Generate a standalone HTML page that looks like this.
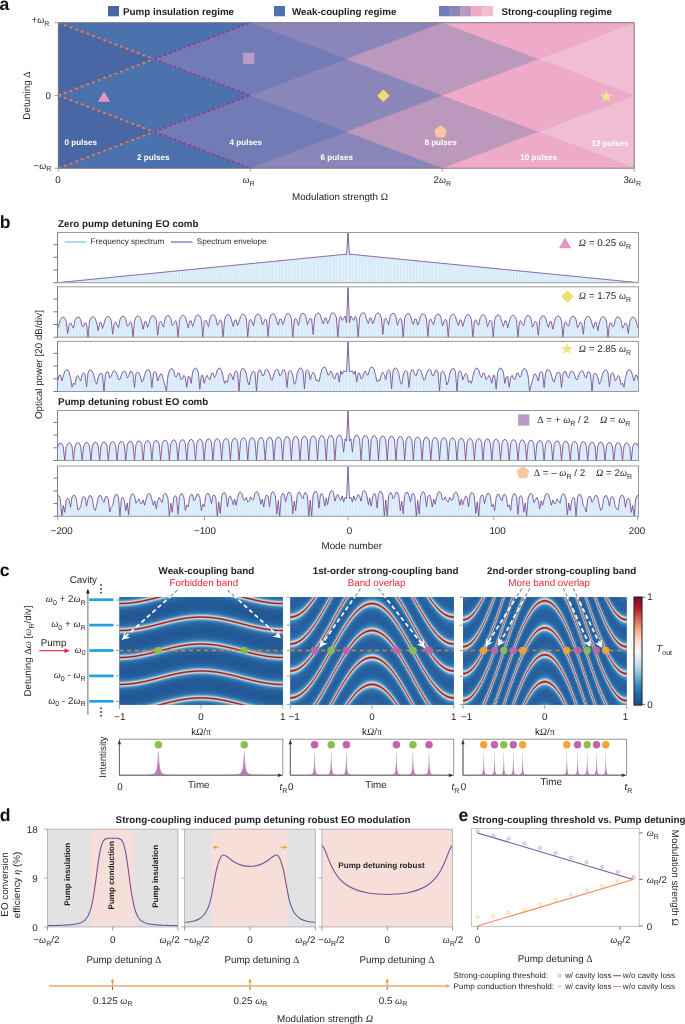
<!DOCTYPE html>
<html lang="en"><head><meta charset="utf-8"><title>Figure</title>
<style>
html,body{margin:0;padding:0;background:#fff;}
body{width:685px;height:1024px;overflow:hidden;font-family:'Liberation Sans', Arial, Helvetica, sans-serif;}
svg{display:block;}
</style></head><body>
<svg width="685" height="1024" viewBox="0 0 685 1024" font-family="'Liberation Sans', Arial, Helvetica, sans-serif" text-rendering="geometricPrecision">
<text x="-0.60" y="9.80" font-size="17.6" font-weight="bold" text-anchor="start" fill="#111"><tspan>a</tspan></text>
<rect x="108.00" y="6.00" width="11.00" height="10.30" fill="#4967a4" stroke="none" stroke-width="1"/>
<text x="123.00" y="14.60" font-size="9.8" font-weight="bold" text-anchor="start" fill="#231f20"><tspan>Pump insulation regime</tspan></text>
<rect x="274.00" y="6.00" width="11.00" height="10.30" fill="#4b72ad" stroke="none" stroke-width="1"/>
<text x="292.00" y="14.60" font-size="9.8" font-weight="bold" text-anchor="start" fill="#231f20"><tspan>Weak-coupling regime</tspan></text>
<rect x="439.00" y="6.00" width="10.90" height="10.30" fill="#717bb6" stroke="none" stroke-width="1"/>
<rect x="449.80" y="6.00" width="10.90" height="10.30" fill="#8b86b9" stroke="none" stroke-width="1"/>
<rect x="460.60" y="6.00" width="10.90" height="10.30" fill="#bb98bc" stroke="none" stroke-width="1"/>
<rect x="471.40" y="6.00" width="10.90" height="10.30" fill="#eeabc7" stroke="none" stroke-width="1"/>
<rect x="482.20" y="6.00" width="10.90" height="10.30" fill="#f0bdd3" stroke="none" stroke-width="1"/>
<text x="501.50" y="14.60" font-size="9.8" font-weight="bold" text-anchor="start" fill="#231f20"><tspan>Strong-coupling regime</tspan></text>
<clipPath id="ca"><rect x="58.3" y="22.7" width="575.9000000000001" height="145.5"/></clipPath>
<g clip-path="url(#ca)" shape-rendering="geometricPrecision">
<rect x="58.30" y="22.70" width="575.90" height="145.50" fill="#4967a4" stroke="none" stroke-width="1"/>
<polygon points="-37.68,204.57 58.30,168.20 154.28,204.57 58.30,240.95" fill="#4967a4" stroke="#4967a4" stroke-width="0.4"/>
<polygon points="-37.68,131.82 58.30,95.45 154.28,131.82 58.30,168.20" fill="#4967a4" stroke="#4967a4" stroke-width="0.4"/>
<polygon points="-37.68,59.07 58.30,22.70 154.28,59.07 58.30,95.45" fill="#4967a4" stroke="#4967a4" stroke-width="0.4"/>
<polygon points="-37.68,-13.68 58.30,-50.05 154.28,-13.68 58.30,22.70" fill="#4967a4" stroke="#4967a4" stroke-width="0.4"/>
<polygon points="58.30,240.95 154.28,204.57 250.27,240.95 154.28,277.32" fill="#4b72ad" stroke="#4b72ad" stroke-width="0.4"/>
<polygon points="58.30,168.20 154.28,131.82 250.27,168.20 154.28,204.57" fill="#4b72ad" stroke="#4b72ad" stroke-width="0.4"/>
<polygon points="58.30,95.45 154.28,59.07 250.27,95.45 154.28,131.82" fill="#4b72ad" stroke="#4b72ad" stroke-width="0.4"/>
<polygon points="58.30,22.70 154.28,-13.68 250.27,22.70 154.28,59.07" fill="#4b72ad" stroke="#4b72ad" stroke-width="0.4"/>
<polygon points="58.30,-50.05 154.28,-86.43 250.27,-50.05 154.28,-13.68" fill="#4b72ad" stroke="#4b72ad" stroke-width="0.4"/>
<polygon points="154.28,277.32 250.27,240.95 346.25,277.32 250.27,313.70" fill="#717bb6" stroke="#717bb6" stroke-width="0.4"/>
<polygon points="154.28,204.57 250.27,168.20 346.25,204.57 250.27,240.95" fill="#717bb6" stroke="#717bb6" stroke-width="0.4"/>
<polygon points="154.28,131.82 250.27,95.45 346.25,131.82 250.27,168.20" fill="#717bb6" stroke="#717bb6" stroke-width="0.4"/>
<polygon points="154.28,59.07 250.27,22.70 346.25,59.07 250.27,95.45" fill="#717bb6" stroke="#717bb6" stroke-width="0.4"/>
<polygon points="154.28,-13.68 250.27,-50.05 346.25,-13.68 250.27,22.70" fill="#717bb6" stroke="#717bb6" stroke-width="0.4"/>
<polygon points="154.28,-86.43 250.27,-122.80 346.25,-86.43 250.27,-50.05" fill="#717bb6" stroke="#717bb6" stroke-width="0.4"/>
<polygon points="250.27,313.70 346.25,277.32 442.23,313.70 346.25,350.07" fill="#8b86b9" stroke="#8b86b9" stroke-width="0.4"/>
<polygon points="250.27,240.95 346.25,204.57 442.23,240.95 346.25,277.32" fill="#8b86b9" stroke="#8b86b9" stroke-width="0.4"/>
<polygon points="250.27,168.20 346.25,131.82 442.23,168.20 346.25,204.57" fill="#8b86b9" stroke="#8b86b9" stroke-width="0.4"/>
<polygon points="250.27,95.45 346.25,59.07 442.23,95.45 346.25,131.82" fill="#8b86b9" stroke="#8b86b9" stroke-width="0.4"/>
<polygon points="250.27,22.70 346.25,-13.68 442.23,22.70 346.25,59.07" fill="#8b86b9" stroke="#8b86b9" stroke-width="0.4"/>
<polygon points="250.27,-50.05 346.25,-86.43 442.23,-50.05 346.25,-13.68" fill="#8b86b9" stroke="#8b86b9" stroke-width="0.4"/>
<polygon points="250.27,-122.80 346.25,-159.18 442.23,-122.80 346.25,-86.43" fill="#8b86b9" stroke="#8b86b9" stroke-width="0.4"/>
<polygon points="346.25,277.32 442.23,240.95 538.22,277.32 442.23,313.70" fill="#bb98bc" stroke="#bb98bc" stroke-width="0.4"/>
<polygon points="346.25,204.57 442.23,168.20 538.22,204.57 442.23,240.95" fill="#bb98bc" stroke="#bb98bc" stroke-width="0.4"/>
<polygon points="346.25,131.82 442.23,95.45 538.22,131.82 442.23,168.20" fill="#bb98bc" stroke="#bb98bc" stroke-width="0.4"/>
<polygon points="346.25,59.07 442.23,22.70 538.22,59.07 442.23,95.45" fill="#bb98bc" stroke="#bb98bc" stroke-width="0.4"/>
<polygon points="346.25,-13.68 442.23,-50.05 538.22,-13.68 442.23,22.70" fill="#bb98bc" stroke="#bb98bc" stroke-width="0.4"/>
<polygon points="346.25,-86.43 442.23,-122.80 538.22,-86.43 442.23,-50.05" fill="#bb98bc" stroke="#bb98bc" stroke-width="0.4"/>
<polygon points="442.23,240.95 538.22,204.57 634.20,240.95 538.22,277.32" fill="#eeabc7" stroke="#eeabc7" stroke-width="0.4"/>
<polygon points="442.23,168.20 538.22,131.82 634.20,168.20 538.22,204.57" fill="#eeabc7" stroke="#eeabc7" stroke-width="0.4"/>
<polygon points="442.23,95.45 538.22,59.07 634.20,95.45 538.22,131.82" fill="#eeabc7" stroke="#eeabc7" stroke-width="0.4"/>
<polygon points="442.23,22.70 538.22,-13.68 634.20,22.70 538.22,59.07" fill="#eeabc7" stroke="#eeabc7" stroke-width="0.4"/>
<polygon points="442.23,-50.05 538.22,-86.43 634.20,-50.05 538.22,-13.68" fill="#eeabc7" stroke="#eeabc7" stroke-width="0.4"/>
<polygon points="538.22,204.57 634.20,168.20 730.18,204.57 634.20,240.95" fill="#f0bdd3" stroke="#f0bdd3" stroke-width="0.4"/>
<polygon points="538.22,131.82 634.20,95.45 730.18,131.82 634.20,168.20" fill="#f0bdd3" stroke="#f0bdd3" stroke-width="0.4"/>
<polygon points="538.22,59.07 634.20,22.70 730.18,59.07 634.20,95.45" fill="#f0bdd3" stroke="#f0bdd3" stroke-width="0.4"/>
<polygon points="538.22,-13.68 634.20,-50.05 730.18,-13.68 634.20,22.70" fill="#f0bdd3" stroke="#f0bdd3" stroke-width="0.4"/>
<polygon points="634.20,168.20 730.18,131.82 826.17,168.20 730.18,204.57" fill="#f4cfe0" stroke="#f4cfe0" stroke-width="0.4"/>
<polygon points="634.20,95.45 730.18,59.07 826.17,95.45 730.18,131.82" fill="#f4cfe0" stroke="#f4cfe0" stroke-width="0.4"/>
<polygon points="634.20,22.70 730.18,-13.68 826.17,22.70 730.18,59.07" fill="#f4cfe0" stroke="#f4cfe0" stroke-width="0.4"/>
<line x1="58.30" y1="22.70" x2="154.28" y2="59.07" stroke="#e0775a" stroke-width="2" stroke-dasharray="3 3" stroke-linecap="butt"/>
<line x1="58.30" y1="95.45" x2="154.28" y2="59.07" stroke="#e0775a" stroke-width="2" stroke-dasharray="3 3" stroke-linecap="butt"/>
<line x1="58.30" y1="95.45" x2="154.28" y2="131.82" stroke="#e0775a" stroke-width="2" stroke-dasharray="3 3" stroke-linecap="butt"/>
<line x1="58.30" y1="168.20" x2="154.28" y2="131.82" stroke="#e0775a" stroke-width="2" stroke-dasharray="3 3" stroke-linecap="butt"/>
<line x1="154.28" y1="59.07" x2="250.27" y2="22.70" stroke="#a0378f" stroke-width="1.8" stroke-dasharray="2.6 2.6"/>
<line x1="154.28" y1="59.07" x2="250.27" y2="95.45" stroke="#a0378f" stroke-width="1.8" stroke-dasharray="2.6 2.6"/>
<line x1="154.28" y1="131.82" x2="250.27" y2="95.45" stroke="#a0378f" stroke-width="1.8" stroke-dasharray="2.6 2.6"/>
<line x1="154.28" y1="131.82" x2="250.27" y2="168.20" stroke="#a0378f" stroke-width="1.8" stroke-dasharray="2.6 2.6"/>
</g>
<rect x="58.30" y="22.70" width="575.90" height="145.50" fill="none" stroke="#7b6e72" stroke-width="0.9"/>
<line x1="58.30" y1="168.20" x2="58.30" y2="171.80" stroke="#8a8a8a" stroke-width="0.8"/>
<line x1="250.27" y1="168.20" x2="250.27" y2="171.80" stroke="#8a8a8a" stroke-width="0.8"/>
<line x1="442.23" y1="168.20" x2="442.23" y2="171.80" stroke="#8a8a8a" stroke-width="0.8"/>
<line x1="634.20" y1="168.20" x2="634.20" y2="171.80" stroke="#8a8a8a" stroke-width="0.8"/>
<line x1="54.70" y1="168.20" x2="58.30" y2="168.20" stroke="#8a8a8a" stroke-width="0.8"/>
<line x1="54.70" y1="95.45" x2="58.30" y2="95.45" stroke="#8a8a8a" stroke-width="0.8"/>
<line x1="54.70" y1="22.70" x2="58.30" y2="22.70" stroke="#8a8a8a" stroke-width="0.8"/>
<text x="58.00" y="183.10" font-size="9.8" font-weight="normal" text-anchor="middle" fill="#231f20"><tspan>0</tspan></text>
<text x="248.57" y="183.10" font-size="9.8" font-weight="normal" text-anchor="middle" fill="#231f20"><tspan font-family="'Liberation Serif', 'Times New Roman', serif" font-style="italic" font-size="10.00">ω</tspan><tspan font-size="7.06" dy="2.74">R</tspan><tspan dy="-2.74">&#8203;</tspan></text>
<text x="442.23" y="183.10" font-size="9.8" font-weight="normal" text-anchor="middle" fill="#231f20"><tspan>2</tspan><tspan font-family="'Liberation Serif', 'Times New Roman', serif" font-style="italic" font-size="10.00">ω</tspan><tspan font-size="7.06" dy="2.74">R</tspan><tspan dy="-2.74">&#8203;</tspan></text>
<text x="632.20" y="183.10" font-size="9.8" font-weight="normal" text-anchor="middle" fill="#231f20"><tspan>3</tspan><tspan font-family="'Liberation Serif', 'Times New Roman', serif" font-style="italic" font-size="10.00">ω</tspan><tspan font-size="7.06" dy="2.74">R</tspan><tspan dy="-2.74">&#8203;</tspan></text>
<text x="49.40" y="23.10" font-size="9.8" font-weight="normal" text-anchor="end" fill="#231f20"><tspan>+</tspan><tspan font-family="'Liberation Serif', 'Times New Roman', serif" font-style="italic" font-size="10.00">ω</tspan><tspan font-size="7.06" dy="2.74">R</tspan><tspan dy="-2.74">&#8203;</tspan></text>
<text x="50.90" y="99.00" font-size="9.8" font-weight="normal" text-anchor="end" fill="#231f20"><tspan>0</tspan></text>
<text x="51.40" y="168.60" font-size="9.8" font-weight="normal" text-anchor="end" fill="#231f20"><tspan>−</tspan><tspan font-family="'Liberation Serif', 'Times New Roman', serif" font-style="italic" font-size="10.00">ω</tspan><tspan font-size="7.06" dy="2.74">R</tspan><tspan dy="-2.74">&#8203;</tspan></text>
<text x="340.00" y="199.90" font-size="9.8" font-weight="normal" text-anchor="middle" fill="#231f20"><tspan>Modulation strength </tspan><tspan font-family="'Liberation Serif', 'Times New Roman', serif">Ω</tspan></text>
<text x="29.90" y="95.50" font-size="9.8" font-weight="normal" text-anchor="middle" fill="#231f20" transform="rotate(-90 29.90 95.50)"><tspan>Detuning </tspan><tspan font-family="'Liberation Serif', 'Times New Roman', serif">Δ</tspan></text>
<polygon points="97.85,101.85 110.15,101.85 104.00,91.15" fill="#e596c2" stroke="none" stroke-width="1"/>
<rect x="243.05" y="52.75" width="11.30" height="11.30" fill="#b99bc9" stroke="none" stroke-width="1"/>
<polygon points="377.10,95.80 383.40,89.50 389.70,95.80 383.40,102.10" fill="#f1dd6d" stroke="none" stroke-width="1"/>
<polygon points="440.50,125.27 446.90,129.92 444.46,137.44 436.54,137.44 434.10,129.92" fill="#f6c5a1" stroke="none" stroke-width="1"/>
<polygon points="606.20,89.98 607.76,94.46 612.50,94.55 608.72,97.42 610.09,101.96 606.20,99.25 602.31,101.96 603.68,97.42 599.90,94.55 604.64,94.46" fill="#ede78f" stroke="none" stroke-width="1"/>
<text x="64.50" y="144.80" font-size="8.1" font-weight="bold" text-anchor="start" fill="#fff"><tspan>0 pulses</tspan></text>
<text x="137.00" y="160.20" font-size="8.1" font-weight="bold" text-anchor="start" fill="#fff"><tspan>2 pulses</tspan></text>
<text x="229.50" y="144.80" font-size="8.1" font-weight="bold" text-anchor="start" fill="#fff"><tspan>4 pulses</tspan></text>
<text x="320.60" y="160.20" font-size="8.1" font-weight="bold" text-anchor="start" fill="#fff"><tspan>6 pulses</tspan></text>
<text x="424.40" y="144.80" font-size="8.1" font-weight="bold" text-anchor="start" fill="#fff"><tspan>8 pulses</tspan></text>
<text x="520.30" y="160.20" font-size="8.1" font-weight="bold" text-anchor="start" fill="#fff"><tspan>10 pulses</tspan></text>
<text x="591.50" y="146.00" font-size="8.1" font-weight="bold" text-anchor="start" fill="#fff"><tspan>12 pulses</tspan></text>
<text x="-0.30" y="228.40" font-size="17.6" font-weight="bold" text-anchor="start" fill="#111"><tspan>b</tspan></text>
<text x="58.10" y="226.70" font-size="9.8" font-weight="bold" text-anchor="start" fill="#231f20"><tspan>Zero pump detuning EO comb</tspan></text>
<text x="58.10" y="405.00" font-size="9.8" font-weight="bold" text-anchor="start" fill="#231f20"><tspan>Pump detuning robust EO comb</tspan></text>
<clipPath id="cb0"><rect x="57.5" y="232.5" width="581.0" height="50.19999999999999"/></clipPath>
<g clip-path="url(#cb0)"><polygon points="57.50,282.70 57.50,282.68 58.95,282.54 60.41,282.39 61.86,282.25 63.31,282.11 64.76,281.96 66.22,281.82 67.67,281.68 69.12,281.53 70.57,281.39 72.03,281.25 73.48,281.10 74.93,280.96 76.38,280.82 77.84,280.67 79.29,280.53 80.74,280.39 82.19,280.24 83.64,280.10 85.10,279.96 86.55,279.81 88.00,279.67 89.45,279.53 90.91,279.38 92.36,279.24 93.81,279.10 95.27,278.95 96.72,278.81 98.17,278.67 99.62,278.52 101.07,278.38 102.53,278.24 103.98,278.09 105.43,277.95 106.89,277.81 108.34,277.66 109.79,277.52 111.24,277.38 112.69,277.23 114.15,277.09 115.60,276.95 117.05,276.80 118.50,276.66 119.96,276.52 121.41,276.37 122.86,276.23 124.31,276.09 125.77,275.94 127.22,275.80 128.67,275.66 130.12,275.51 131.58,275.37 133.03,275.23 134.48,275.08 135.94,274.94 137.39,274.80 138.84,274.65 140.29,274.51 141.75,274.37 143.20,274.22 144.65,274.08 146.10,273.94 147.56,273.79 149.01,273.65 150.46,273.51 151.91,273.36 153.37,273.22 154.82,273.08 156.27,272.93 157.72,272.79 159.18,272.65 160.63,272.50 162.08,272.36 163.53,272.22 164.99,272.07 166.44,271.93 167.89,271.79 169.34,271.64 170.80,271.50 172.25,271.36 173.70,271.21 175.15,271.07 176.60,270.93 178.06,270.78 179.51,270.64 180.96,270.50 182.41,270.35 183.87,270.21 185.32,270.07 186.77,269.92 188.22,269.78 189.68,269.64 191.13,269.49 192.58,269.35 194.03,269.21 195.49,269.06 196.94,268.92 198.39,268.78 199.84,268.63 201.30,268.49 202.75,268.35 204.20,268.20 205.66,268.06 207.11,267.92 208.56,267.77 210.01,267.63 211.47,267.49 212.92,267.34 214.37,267.20 215.82,267.06 217.28,266.91 218.73,266.77 220.18,266.63 221.63,266.48 223.08,266.34 224.54,266.20 225.99,266.05 227.44,265.91 228.89,265.77 230.35,265.62 231.80,265.48 233.25,265.34 234.70,265.19 236.16,265.05 237.61,264.91 239.06,264.76 240.52,264.62 241.97,264.48 243.42,264.33 244.87,264.19 246.33,264.05 247.78,263.90 249.23,263.76 250.68,263.62 252.14,263.47 253.59,263.33 255.04,263.19 256.49,263.04 257.94,262.90 259.40,262.76 260.85,262.61 262.30,262.47 263.75,262.33 265.21,262.18 266.66,262.04 268.11,261.90 269.56,261.75 271.02,261.61 272.47,261.47 273.92,261.32 275.38,261.18 276.83,261.04 278.28,260.89 279.73,260.75 281.19,260.61 282.64,260.46 284.09,260.32 285.54,260.18 287.00,260.03 288.45,259.89 289.90,259.75 291.35,259.60 292.81,259.46 294.26,259.32 295.71,259.17 297.16,259.03 298.62,258.89 300.07,258.74 301.52,258.60 302.97,258.46 304.42,258.31 305.88,258.17 307.33,258.03 308.78,257.88 310.24,257.74 311.69,257.60 313.14,257.45 314.59,257.31 316.05,257.17 317.50,257.02 318.95,256.88 320.40,256.74 321.86,256.59 323.31,256.45 324.76,256.31 326.21,256.16 327.67,256.02 329.12,255.88 330.57,255.73 332.02,255.59 333.47,255.45 334.93,255.30 336.38,255.16 337.83,255.02 339.28,254.87 340.74,254.73 342.19,254.59 343.64,254.44 345.09,254.30 346.55,254.79 348.00,233.00 349.45,254.79 350.91,254.30 352.36,254.44 353.81,254.59 355.26,254.73 356.72,254.87 358.17,255.02 359.62,255.16 361.07,255.30 362.53,255.45 363.98,255.59 365.43,255.73 366.88,255.88 368.34,256.02 369.79,256.16 371.24,256.31 372.69,256.45 374.15,256.59 375.60,256.74 377.05,256.88 378.50,257.02 379.96,257.17 381.41,257.31 382.86,257.45 384.31,257.60 385.76,257.74 387.22,257.88 388.67,258.03 390.12,258.17 391.57,258.31 393.03,258.46 394.48,258.60 395.93,258.74 397.38,258.89 398.84,259.03 400.29,259.17 401.74,259.32 403.19,259.46 404.65,259.60 406.10,259.75 407.55,259.89 409.00,260.03 410.46,260.18 411.91,260.32 413.36,260.46 414.81,260.61 416.27,260.75 417.72,260.89 419.17,261.04 420.62,261.18 422.08,261.32 423.53,261.47 424.98,261.61 426.44,261.75 427.89,261.90 429.34,262.04 430.79,262.18 432.25,262.33 433.70,262.47 435.15,262.61 436.60,262.76 438.06,262.90 439.51,263.04 440.96,263.19 442.41,263.33 443.87,263.47 445.32,263.62 446.77,263.76 448.22,263.90 449.68,264.05 451.13,264.19 452.58,264.33 454.03,264.48 455.49,264.62 456.94,264.76 458.39,264.91 459.84,265.05 461.29,265.19 462.75,265.34 464.20,265.48 465.65,265.62 467.10,265.77 468.56,265.91 470.01,266.05 471.46,266.20 472.91,266.34 474.37,266.48 475.82,266.63 477.27,266.77 478.72,266.91 480.18,267.06 481.63,267.20 483.08,267.34 484.53,267.49 485.99,267.63 487.44,267.77 488.89,267.92 490.34,268.06 491.80,268.20 493.25,268.35 494.70,268.49 496.16,268.63 497.61,268.78 499.06,268.92 500.51,269.06 501.97,269.21 503.42,269.35 504.87,269.49 506.32,269.64 507.78,269.78 509.23,269.92 510.68,270.07 512.13,270.21 513.59,270.35 515.04,270.50 516.49,270.64 517.94,270.78 519.39,270.93 520.85,271.07 522.30,271.21 523.75,271.36 525.21,271.50 526.66,271.64 528.11,271.79 529.56,271.93 531.01,272.07 532.47,272.22 533.92,272.36 535.37,272.50 536.83,272.65 538.28,272.79 539.73,272.93 541.18,273.08 542.63,273.22 544.09,273.36 545.54,273.51 546.99,273.65 548.44,273.79 549.90,273.94 551.35,274.08 552.80,274.22 554.25,274.37 555.71,274.51 557.16,274.65 558.61,274.80 560.07,274.94 561.52,275.08 562.97,275.23 564.42,275.37 565.88,275.51 567.33,275.66 568.78,275.80 570.23,275.94 571.69,276.09 573.14,276.23 574.59,276.37 576.04,276.52 577.50,276.66 578.95,276.80 580.40,276.95 581.85,277.09 583.31,277.23 584.76,277.38 586.21,277.52 587.66,277.66 589.12,277.81 590.57,277.95 592.02,278.09 593.47,278.24 594.93,278.38 596.38,278.52 597.83,278.67 599.28,278.81 600.74,278.95 602.19,279.10 603.64,279.24 605.09,279.38 606.54,279.53 608.00,279.67 609.45,279.81 610.90,279.96 612.36,280.10 613.81,280.24 615.26,280.39 616.71,280.53 618.16,280.67 619.62,280.82 621.07,280.96 622.52,281.10 623.98,281.25 625.43,281.39 626.88,281.53 628.33,281.68 629.78,281.82 631.24,281.96 632.69,282.11 634.14,282.25 635.60,282.39 637.05,282.54 638.50,282.68 638.50,282.70" fill="#f3f9fd" stroke="none" stroke-width="1"/>
<path d="M60.4 282.7V282.4M61.9 282.7V282.2M63.3 282.7V282.1M64.8 282.7V282.0M66.2 282.7V281.8M67.7 282.7V281.7M69.1 282.7V281.5M70.6 282.7V281.4M72.0 282.7V281.2M73.5 282.7V281.1M74.9 282.7V281.0M76.4 282.7V280.8M77.8 282.7V280.7M79.3 282.7V280.5M80.7 282.7V280.4M82.2 282.7V280.2M83.6 282.7V280.1M85.1 282.7V280.0M86.5 282.7V279.8M88.0 282.7V279.7M89.5 282.7V279.5M90.9 282.7V279.4M92.4 282.7V279.2M93.8 282.7V279.1M95.3 282.7V279.0M96.7 282.7V278.8M98.2 282.7V278.7M99.6 282.7V278.5M101.1 282.7V278.4M102.5 282.7V278.2M104.0 282.7V278.1M105.4 282.7V277.9M106.9 282.7V277.8M108.3 282.7V277.7M109.8 282.7V277.5M111.2 282.7V277.4M112.7 282.7V277.2M114.1 282.7V277.1M115.6 282.7V276.9M117.1 282.7V276.8M118.5 282.7V276.7M120.0 282.7V276.5M121.4 282.7V276.4M122.9 282.7V276.2M124.3 282.7V276.1M125.8 282.7V275.9M127.2 282.7V275.8M128.7 282.7V275.7M130.1 282.7V275.5M131.6 282.7V275.4M133.0 282.7V275.2M134.5 282.7V275.1M135.9 282.7V274.9M137.4 282.7V274.8M138.8 282.7V274.7M140.3 282.7V274.5M141.7 282.7V274.4M143.2 282.7V274.2M144.6 282.7V274.1M146.1 282.7V273.9M147.6 282.7V273.8M149.0 282.7V273.6M150.5 282.7V273.5M151.9 282.7V273.4M153.4 282.7V273.2M154.8 282.7V273.1M156.3 282.7V272.9M157.7 282.7V272.8M159.2 282.7V272.6M160.6 282.7V272.5M162.1 282.7V272.4M163.5 282.7V272.2M165.0 282.7V272.1M166.4 282.7V271.9M167.9 282.7V271.8M169.3 282.7V271.6M170.8 282.7V271.5M172.2 282.7V271.4M173.7 282.7V271.2M175.2 282.7V271.1M176.6 282.7V270.9M178.1 282.7V270.8M179.5 282.7V270.6M181.0 282.7V270.5M182.4 282.7V270.4M183.9 282.7V270.2M185.3 282.7V270.1M186.8 282.7V269.9M188.2 282.7V269.8M189.7 282.7V269.6M191.1 282.7V269.5M192.6 282.7V269.3M194.0 282.7V269.2M195.5 282.7V269.1M196.9 282.7V268.9M198.4 282.7V268.8M199.8 282.7V268.6M201.3 282.7V268.5M202.8 282.7V268.3M204.2 282.7V268.2M205.7 282.7V268.1M207.1 282.7V267.9M208.6 282.7V267.8M210.0 282.7V267.6M211.5 282.7V267.5M212.9 282.7V267.3M214.4 282.7V267.2M215.8 282.7V267.1M217.3 282.7V266.9M218.7 282.7V266.8M220.2 282.7V266.6M221.6 282.7V266.5M223.1 282.7V266.3M224.5 282.7V266.2M226.0 282.7V266.1M227.4 282.7V265.9M228.9 282.7V265.8M230.3 282.7V265.6M231.8 282.7V265.5M233.3 282.7V265.3M234.7 282.7V265.2M236.2 282.7V265.0M237.6 282.7V264.9M239.1 282.7V264.8M240.5 282.7V264.6M242.0 282.7V264.5M243.4 282.7V264.3M244.9 282.7V264.2M246.3 282.7V264.0M247.8 282.7V263.9M249.2 282.7V263.8M250.7 282.7V263.6M252.1 282.7V263.5M253.6 282.7V263.3M255.0 282.7V263.2M256.5 282.7V263.0M257.9 282.7V262.9M259.4 282.7V262.8M260.9 282.7V262.6M262.3 282.7V262.5M263.8 282.7V262.3M265.2 282.7V262.2M266.7 282.7V262.0M268.1 282.7V261.9M269.6 282.7V261.8M271.0 282.7V261.6M272.5 282.7V261.5M273.9 282.7V261.3M275.4 282.7V261.2M276.8 282.7V261.0M278.3 282.7V260.9M279.7 282.7V260.8M281.2 282.7V260.6M282.6 282.7V260.5M284.1 282.7V260.3M285.5 282.7V260.2M287.0 282.7V260.0M288.4 282.7V259.9M289.9 282.7V259.7M291.4 282.7V259.6M292.8 282.7V259.5M294.3 282.7V259.3M295.7 282.7V259.2M297.2 282.7V259.0M298.6 282.7V258.9M300.1 282.7V258.7M301.5 282.7V258.6M303.0 282.7V258.5M304.4 282.7V258.3M305.9 282.7V258.2M307.3 282.7V258.0M308.8 282.7V257.9M310.2 282.7V257.7M311.7 282.7V257.6M313.1 282.7V257.5M314.6 282.7V257.3M316.0 282.7V257.2M317.5 282.7V257.0M318.9 282.7V256.9M320.4 282.7V256.7M321.9 282.7V256.6M323.3 282.7V256.5M324.8 282.7V256.3M326.2 282.7V256.2M327.7 282.7V256.0M329.1 282.7V255.9M330.6 282.7V255.7M332.0 282.7V255.6M333.5 282.7V255.4M334.9 282.7V255.3M336.4 282.7V255.2M337.8 282.7V255.0M339.3 282.7V254.9M340.7 282.7V254.7M342.2 282.7V254.6M343.6 282.7V254.4M345.1 282.7V254.3M346.5 282.7V254.8M348.0 282.7V233.0M349.5 282.7V254.8M350.9 282.7V254.3M352.4 282.7V254.4M353.8 282.7V254.6M355.3 282.7V254.7M356.7 282.7V254.9M358.2 282.7V255.0M359.6 282.7V255.2M361.1 282.7V255.3M362.5 282.7V255.4M364.0 282.7V255.6M365.4 282.7V255.7M366.9 282.7V255.9M368.3 282.7V256.0M369.8 282.7V256.2M371.2 282.7V256.3M372.7 282.7V256.5M374.1 282.7V256.6M375.6 282.7V256.7M377.1 282.7V256.9M378.5 282.7V257.0M380.0 282.7V257.2M381.4 282.7V257.3M382.9 282.7V257.5M384.3 282.7V257.6M385.8 282.7V257.7M387.2 282.7V257.9M388.7 282.7V258.0M390.1 282.7V258.2M391.6 282.7V258.3M393.0 282.7V258.5M394.5 282.7V258.6M395.9 282.7V258.7M397.4 282.7V258.9M398.8 282.7V259.0M400.3 282.7V259.2M401.7 282.7V259.3M403.2 282.7V259.5M404.6 282.7V259.6M406.1 282.7V259.7M407.6 282.7V259.9M409.0 282.7V260.0M410.5 282.7V260.2M411.9 282.7V260.3M413.4 282.7V260.5M414.8 282.7V260.6M416.3 282.7V260.8M417.7 282.7V260.9M419.2 282.7V261.0M420.6 282.7V261.2M422.1 282.7V261.3M423.5 282.7V261.5M425.0 282.7V261.6M426.4 282.7V261.8M427.9 282.7V261.9M429.3 282.7V262.0M430.8 282.7V262.2M432.2 282.7V262.3M433.7 282.7V262.5M435.2 282.7V262.6M436.6 282.7V262.8M438.1 282.7V262.9M439.5 282.7V263.0M441.0 282.7V263.2M442.4 282.7V263.3M443.9 282.7V263.5M445.3 282.7V263.6M446.8 282.7V263.8M448.2 282.7V263.9M449.7 282.7V264.0M451.1 282.7V264.2M452.6 282.7V264.3M454.0 282.7V264.5M455.5 282.7V264.6M456.9 282.7V264.8M458.4 282.7V264.9M459.8 282.7V265.0M461.3 282.7V265.2M462.7 282.7V265.3M464.2 282.7V265.5M465.7 282.7V265.6M467.1 282.7V265.8M468.6 282.7V265.9M470.0 282.7V266.1M471.5 282.7V266.2M472.9 282.7V266.3M474.4 282.7V266.5M475.8 282.7V266.6M477.3 282.7V266.8M478.7 282.7V266.9M480.2 282.7V267.1M481.6 282.7V267.2M483.1 282.7V267.3M484.5 282.7V267.5M486.0 282.7V267.6M487.4 282.7V267.8M488.9 282.7V267.9M490.3 282.7V268.1M491.8 282.7V268.2M493.2 282.7V268.3M494.7 282.7V268.5M496.2 282.7V268.6M497.6 282.7V268.8M499.1 282.7V268.9M500.5 282.7V269.1M502.0 282.7V269.2M503.4 282.7V269.3M504.9 282.7V269.5M506.3 282.7V269.6M507.8 282.7V269.8M509.2 282.7V269.9M510.7 282.7V270.1M512.1 282.7V270.2M513.6 282.7V270.4M515.0 282.7V270.5M516.5 282.7V270.6M517.9 282.7V270.8M519.4 282.7V270.9M520.8 282.7V271.1M522.3 282.7V271.2M523.8 282.7V271.4M525.2 282.7V271.5M526.7 282.7V271.6M528.1 282.7V271.8M529.6 282.7V271.9M531.0 282.7V272.1M532.5 282.7V272.2M533.9 282.7V272.4M535.4 282.7V272.5M536.8 282.7V272.6M538.3 282.7V272.8M539.7 282.7V272.9M541.2 282.7V273.1M542.6 282.7V273.2M544.1 282.7V273.4M545.5 282.7V273.5M547.0 282.7V273.6M548.4 282.7V273.8M549.9 282.7V273.9M551.3 282.7V274.1M552.8 282.7V274.2M554.3 282.7V274.4M555.7 282.7V274.5M557.2 282.7V274.7M558.6 282.7V274.8M560.1 282.7V274.9M561.5 282.7V275.1M563.0 282.7V275.2M564.4 282.7V275.4M565.9 282.7V275.5M567.3 282.7V275.7M568.8 282.7V275.8M570.2 282.7V275.9M571.7 282.7V276.1M573.1 282.7V276.2M574.6 282.7V276.4M576.0 282.7V276.5M577.5 282.7V276.7M578.9 282.7V276.8M580.4 282.7V276.9M581.9 282.7V277.1M583.3 282.7V277.2M584.8 282.7V277.4M586.2 282.7V277.5M587.7 282.7V277.7M589.1 282.7V277.8M590.6 282.7V277.9M592.0 282.7V278.1M593.5 282.7V278.2M594.9 282.7V278.4M596.4 282.7V278.5M597.8 282.7V278.7M599.3 282.7V278.8M600.7 282.7V279.0M602.2 282.7V279.1M603.6 282.7V279.2M605.1 282.7V279.4M606.5 282.7V279.5M608.0 282.7V279.7M609.4 282.7V279.8M610.9 282.7V280.0M612.4 282.7V280.1M613.8 282.7V280.2M615.3 282.7V280.4M616.7 282.7V280.5M618.2 282.7V280.7M619.6 282.7V280.8M621.1 282.7V281.0M622.5 282.7V281.1M624.0 282.7V281.2M625.4 282.7V281.4M626.9 282.7V281.5M628.3 282.7V281.7M629.8 282.7V281.8M631.2 282.7V282.0M632.7 282.7V282.1M634.1 282.7V282.2M635.6 282.7V282.4" stroke="#c2e1f5" stroke-width="0.72" fill="none"/>
<polyline points="57.50,282.68 58.95,282.54 60.41,282.39 61.86,282.25 63.31,282.11 64.76,281.96 66.22,281.82 67.67,281.68 69.12,281.53 70.57,281.39 72.03,281.25 73.48,281.10 74.93,280.96 76.38,280.82 77.84,280.67 79.29,280.53 80.74,280.39 82.19,280.24 83.64,280.10 85.10,279.96 86.55,279.81 88.00,279.67 89.45,279.53 90.91,279.38 92.36,279.24 93.81,279.10 95.27,278.95 96.72,278.81 98.17,278.67 99.62,278.52 101.07,278.38 102.53,278.24 103.98,278.09 105.43,277.95 106.89,277.81 108.34,277.66 109.79,277.52 111.24,277.38 112.69,277.23 114.15,277.09 115.60,276.95 117.05,276.80 118.50,276.66 119.96,276.52 121.41,276.37 122.86,276.23 124.31,276.09 125.77,275.94 127.22,275.80 128.67,275.66 130.12,275.51 131.58,275.37 133.03,275.23 134.48,275.08 135.94,274.94 137.39,274.80 138.84,274.65 140.29,274.51 141.75,274.37 143.20,274.22 144.65,274.08 146.10,273.94 147.56,273.79 149.01,273.65 150.46,273.51 151.91,273.36 153.37,273.22 154.82,273.08 156.27,272.93 157.72,272.79 159.18,272.65 160.63,272.50 162.08,272.36 163.53,272.22 164.99,272.07 166.44,271.93 167.89,271.79 169.34,271.64 170.80,271.50 172.25,271.36 173.70,271.21 175.15,271.07 176.60,270.93 178.06,270.78 179.51,270.64 180.96,270.50 182.41,270.35 183.87,270.21 185.32,270.07 186.77,269.92 188.22,269.78 189.68,269.64 191.13,269.49 192.58,269.35 194.03,269.21 195.49,269.06 196.94,268.92 198.39,268.78 199.84,268.63 201.30,268.49 202.75,268.35 204.20,268.20 205.66,268.06 207.11,267.92 208.56,267.77 210.01,267.63 211.47,267.49 212.92,267.34 214.37,267.20 215.82,267.06 217.28,266.91 218.73,266.77 220.18,266.63 221.63,266.48 223.08,266.34 224.54,266.20 225.99,266.05 227.44,265.91 228.89,265.77 230.35,265.62 231.80,265.48 233.25,265.34 234.70,265.19 236.16,265.05 237.61,264.91 239.06,264.76 240.52,264.62 241.97,264.48 243.42,264.33 244.87,264.19 246.33,264.05 247.78,263.90 249.23,263.76 250.68,263.62 252.14,263.47 253.59,263.33 255.04,263.19 256.49,263.04 257.94,262.90 259.40,262.76 260.85,262.61 262.30,262.47 263.75,262.33 265.21,262.18 266.66,262.04 268.11,261.90 269.56,261.75 271.02,261.61 272.47,261.47 273.92,261.32 275.38,261.18 276.83,261.04 278.28,260.89 279.73,260.75 281.19,260.61 282.64,260.46 284.09,260.32 285.54,260.18 287.00,260.03 288.45,259.89 289.90,259.75 291.35,259.60 292.81,259.46 294.26,259.32 295.71,259.17 297.16,259.03 298.62,258.89 300.07,258.74 301.52,258.60 302.97,258.46 304.42,258.31 305.88,258.17 307.33,258.03 308.78,257.88 310.24,257.74 311.69,257.60 313.14,257.45 314.59,257.31 316.05,257.17 317.50,257.02 318.95,256.88 320.40,256.74 321.86,256.59 323.31,256.45 324.76,256.31 326.21,256.16 327.67,256.02 329.12,255.88 330.57,255.73 332.02,255.59 333.47,255.45 334.93,255.30 336.38,255.16 337.83,255.02 339.28,254.87 340.74,254.73 342.19,254.59 343.64,254.44 345.09,254.30 346.55,254.79 348.00,233.00 349.45,254.79 350.91,254.30 352.36,254.44 353.81,254.59 355.26,254.73 356.72,254.87 358.17,255.02 359.62,255.16 361.07,255.30 362.53,255.45 363.98,255.59 365.43,255.73 366.88,255.88 368.34,256.02 369.79,256.16 371.24,256.31 372.69,256.45 374.15,256.59 375.60,256.74 377.05,256.88 378.50,257.02 379.96,257.17 381.41,257.31 382.86,257.45 384.31,257.60 385.76,257.74 387.22,257.88 388.67,258.03 390.12,258.17 391.57,258.31 393.03,258.46 394.48,258.60 395.93,258.74 397.38,258.89 398.84,259.03 400.29,259.17 401.74,259.32 403.19,259.46 404.65,259.60 406.10,259.75 407.55,259.89 409.00,260.03 410.46,260.18 411.91,260.32 413.36,260.46 414.81,260.61 416.27,260.75 417.72,260.89 419.17,261.04 420.62,261.18 422.08,261.32 423.53,261.47 424.98,261.61 426.44,261.75 427.89,261.90 429.34,262.04 430.79,262.18 432.25,262.33 433.70,262.47 435.15,262.61 436.60,262.76 438.06,262.90 439.51,263.04 440.96,263.19 442.41,263.33 443.87,263.47 445.32,263.62 446.77,263.76 448.22,263.90 449.68,264.05 451.13,264.19 452.58,264.33 454.03,264.48 455.49,264.62 456.94,264.76 458.39,264.91 459.84,265.05 461.29,265.19 462.75,265.34 464.20,265.48 465.65,265.62 467.10,265.77 468.56,265.91 470.01,266.05 471.46,266.20 472.91,266.34 474.37,266.48 475.82,266.63 477.27,266.77 478.72,266.91 480.18,267.06 481.63,267.20 483.08,267.34 484.53,267.49 485.99,267.63 487.44,267.77 488.89,267.92 490.34,268.06 491.80,268.20 493.25,268.35 494.70,268.49 496.16,268.63 497.61,268.78 499.06,268.92 500.51,269.06 501.97,269.21 503.42,269.35 504.87,269.49 506.32,269.64 507.78,269.78 509.23,269.92 510.68,270.07 512.13,270.21 513.59,270.35 515.04,270.50 516.49,270.64 517.94,270.78 519.39,270.93 520.85,271.07 522.30,271.21 523.75,271.36 525.21,271.50 526.66,271.64 528.11,271.79 529.56,271.93 531.01,272.07 532.47,272.22 533.92,272.36 535.37,272.50 536.83,272.65 538.28,272.79 539.73,272.93 541.18,273.08 542.63,273.22 544.09,273.36 545.54,273.51 546.99,273.65 548.44,273.79 549.90,273.94 551.35,274.08 552.80,274.22 554.25,274.37 555.71,274.51 557.16,274.65 558.61,274.80 560.07,274.94 561.52,275.08 562.97,275.23 564.42,275.37 565.88,275.51 567.33,275.66 568.78,275.80 570.23,275.94 571.69,276.09 573.14,276.23 574.59,276.37 576.04,276.52 577.50,276.66 578.95,276.80 580.40,276.95 581.85,277.09 583.31,277.23 584.76,277.38 586.21,277.52 587.66,277.66 589.12,277.81 590.57,277.95 592.02,278.09 593.47,278.24 594.93,278.38 596.38,278.52 597.83,278.67 599.28,278.81 600.74,278.95 602.19,279.10 603.64,279.24 605.09,279.38 606.54,279.53 608.00,279.67 609.45,279.81 610.90,279.96 612.36,280.10 613.81,280.24 615.26,280.39 616.71,280.53 618.16,280.67 619.62,280.82 621.07,280.96 622.52,281.10 623.98,281.25 625.43,281.39 626.88,281.53 628.33,281.68 629.78,281.82 631.24,281.96 632.69,282.11 634.14,282.25 635.60,282.39 637.05,282.54 638.50,282.68" fill="none" stroke="#744793" stroke-width="0.85" stroke-linejoin="round"/></g>
<rect x="57.50" y="232.50" width="581.00" height="50.20" fill="none" stroke="#9a9a9a" stroke-width="1"/>
<line x1="57.50" y1="232.50" x2="57.50" y2="282.70" stroke="#808080" stroke-width="1"/>
<line x1="53.50" y1="282.70" x2="57.50" y2="282.70" stroke="#6a6a6a" stroke-width="0.9"/>
<line x1="53.50" y1="270.00" x2="57.50" y2="270.00" stroke="#6a6a6a" stroke-width="0.9"/>
<line x1="53.50" y1="257.30" x2="57.50" y2="257.30" stroke="#6a6a6a" stroke-width="0.9"/>
<line x1="53.50" y1="244.60" x2="57.50" y2="244.60" stroke="#6a6a6a" stroke-width="0.9"/>
<clipPath id="cb1"><rect x="57.5" y="286.8" width="581.0" height="50.39999999999998"/></clipPath>
<g clip-path="url(#cb1)"><polygon points="57.50,337.20 57.50,329.45 58.95,324.54 60.41,319.47 61.86,317.52 63.31,317.17 64.76,318.26 66.22,321.44 67.67,333.48 69.12,324.59 70.57,322.78 72.03,325.69 73.48,328.26 74.93,320.39 76.38,317.72 77.84,316.89 79.29,317.49 80.74,319.83 82.19,326.35 83.64,326.40 85.10,322.57 86.55,323.71 88.00,337.20 89.45,321.75 90.91,318.11 92.36,316.76 93.81,316.88 95.27,318.57 96.72,323.03 98.17,330.77 99.62,322.81 101.07,322.54 102.53,328.43 103.98,323.85 105.43,318.73 106.89,316.78 108.34,316.44 109.79,317.57 111.24,320.81 112.69,334.14 114.15,323.61 115.60,321.88 117.05,324.77 118.50,327.67 119.96,319.67 121.41,316.98 122.86,316.16 124.31,316.78 125.77,319.16 127.22,325.96 128.67,325.30 130.12,321.66 131.58,322.82 133.03,337.20 134.48,321.04 135.94,317.37 137.39,316.02 138.84,316.17 140.29,317.88 141.75,322.47 143.20,329.24 144.65,321.88 146.10,321.65 147.56,327.42 149.01,323.16 150.46,318.00 151.91,316.05 153.37,315.72 154.82,316.87 156.27,320.19 157.72,335.27 159.18,322.63 160.63,321.00 162.08,323.86 163.53,327.08 164.99,318.93 166.44,316.24 167.89,315.43 169.34,316.06 170.80,318.50 172.25,325.59 173.70,324.23 175.15,320.76 176.60,321.93 178.06,337.20 179.51,320.32 180.96,316.63 182.41,315.29 183.87,315.45 185.32,317.20 186.77,321.92 188.22,327.81 189.68,320.95 191.13,320.77 192.58,326.44 194.03,322.47 195.49,317.26 196.94,315.31 198.39,314.99 199.84,316.17 201.30,319.56 202.75,337.20 204.20,321.66 205.66,320.11 207.11,322.95 208.56,326.49 210.01,318.20 211.47,315.50 212.92,314.70 214.37,315.35 215.82,317.84 217.28,325.24 218.73,323.17 220.18,319.87 221.63,321.05 223.08,337.20 224.54,319.60 225.99,315.89 227.44,314.55 228.89,314.73 230.35,316.51 231.80,321.37 233.25,326.47 234.70,320.04 236.16,319.90 237.61,325.47 239.06,321.78 240.52,316.52 241.97,314.57 243.42,314.27 244.87,315.47 246.33,318.94 247.78,337.20 249.23,320.71 250.68,319.23 252.14,322.06 253.59,325.89 255.04,317.47 256.49,314.76 257.94,313.96 259.40,314.64 260.85,317.18 262.30,324.92 263.75,322.14 265.21,318.98 266.66,320.18 268.11,336.47 269.56,318.87 271.02,315.15 272.47,313.82 273.92,314.01 275.38,315.83 276.83,320.83 278.28,325.18 279.73,319.13 281.19,319.03 282.64,324.52 284.09,321.08 285.54,315.78 287.00,313.83 288.45,313.54 289.90,314.77 291.35,318.32 292.81,337.20 294.26,319.77 295.71,318.36 297.16,321.17 298.62,325.29 300.07,316.73 301.52,314.02 302.97,313.23 304.42,313.93 305.88,316.52 307.33,324.64 308.78,321.12 310.24,318.10 311.69,319.31 313.14,334.55 314.59,318.15 316.05,314.41 317.50,313.08 318.95,313.29 320.40,315.14 321.86,320.30 323.31,323.94 324.76,318.23 326.21,318.17 327.67,323.57 329.12,320.40 330.57,315.04 332.02,313.07 333.47,312.81 334.93,314.13 336.38,317.69 337.83,337.20 339.28,318.79 340.74,316.54 342.19,320.41 343.64,318.36 345.09,316.11 346.55,322.72 348.00,287.30 349.45,322.72 350.91,316.11 352.36,318.36 353.81,320.41 355.26,316.54 356.72,318.79 358.17,337.20 359.62,317.69 361.07,314.13 362.53,312.81 363.98,313.07 365.43,315.04 366.88,320.40 368.34,323.57 369.79,318.17 371.24,318.23 372.69,323.94 374.15,320.30 375.60,315.14 377.05,313.29 378.50,313.08 379.96,314.41 381.41,318.15 382.86,334.55 384.31,319.31 385.76,318.10 387.22,321.12 388.67,324.64 390.12,316.52 391.57,313.93 393.03,313.23 394.48,314.02 395.93,316.73 397.38,325.29 398.84,321.17 400.29,318.36 401.74,319.77 403.19,337.20 404.65,318.32 406.10,314.77 407.55,313.54 409.00,313.83 410.46,315.78 411.91,321.08 413.36,324.52 414.81,319.03 416.27,319.13 417.72,325.18 419.17,320.83 420.62,315.83 422.08,314.01 423.53,313.82 424.98,315.15 426.44,318.87 427.89,336.47 429.34,320.18 430.79,318.98 432.25,322.14 433.70,324.92 435.15,317.18 436.60,314.64 438.06,313.96 439.51,314.76 440.96,317.47 442.41,325.89 443.87,322.06 445.32,319.23 446.77,320.71 448.22,337.20 449.68,318.94 451.13,315.47 452.58,314.27 454.03,314.57 455.49,316.52 456.94,321.78 458.39,325.47 459.84,319.90 461.29,320.04 462.75,326.47 464.20,321.37 465.65,316.51 467.10,314.73 468.56,314.55 470.01,315.89 471.46,319.60 472.91,337.20 474.37,321.05 475.82,319.87 477.27,323.17 478.72,325.24 480.18,317.84 481.63,315.35 483.08,314.70 484.53,315.50 485.99,318.20 487.44,326.49 488.89,322.95 490.34,320.11 491.80,321.66 493.25,337.20 494.70,319.56 496.16,316.17 497.61,314.99 499.06,315.31 500.51,317.26 501.97,322.47 503.42,326.44 504.87,320.77 506.32,320.95 507.78,327.81 509.23,321.92 510.68,317.20 512.13,315.45 513.59,315.29 515.04,316.63 516.49,320.32 517.94,337.20 519.39,321.93 520.85,320.76 522.30,324.23 523.75,325.59 525.21,318.50 526.66,316.06 528.11,315.43 529.56,316.24 531.01,318.93 532.47,327.08 533.92,323.86 535.37,321.00 536.83,322.63 538.28,335.27 539.73,320.19 541.18,316.87 542.63,315.72 544.09,316.05 545.54,318.00 546.99,323.16 548.44,327.42 549.90,321.65 551.35,321.88 552.80,329.24 554.25,322.47 555.71,317.88 557.16,316.17 558.61,316.02 560.07,317.37 561.52,321.04 562.97,337.20 564.42,322.82 565.88,321.66 567.33,325.30 568.78,325.96 570.23,319.16 571.69,316.78 573.14,316.16 574.59,316.98 576.04,319.67 577.50,327.67 578.95,324.77 580.40,321.88 581.85,323.61 583.31,334.14 584.76,320.81 586.21,317.57 587.66,316.44 589.12,316.78 590.57,318.73 592.02,323.85 593.47,328.43 594.93,322.54 596.38,322.81 597.83,330.77 599.28,323.03 600.74,318.57 602.19,316.88 603.64,316.76 605.09,318.11 606.54,321.75 608.00,337.20 609.45,323.71 610.90,322.57 612.36,326.40 613.81,326.35 615.26,319.83 616.71,317.49 618.16,316.89 619.62,317.72 621.07,320.39 622.52,328.26 623.98,325.69 625.43,322.78 626.88,324.59 628.33,333.48 629.78,321.44 631.24,318.26 632.69,317.17 634.14,317.52 635.60,319.47 637.05,324.54 638.50,329.45 638.50,337.20" fill="#f3f9fd" stroke="none" stroke-width="1"/>
<path d="M57.5 337.2V329.5M59.0 337.2V324.5M60.4 337.2V319.5M61.9 337.2V317.5M63.3 337.2V317.2M64.8 337.2V318.3M66.2 337.2V321.4M67.7 337.2V333.5M69.1 337.2V324.6M70.6 337.2V322.8M72.0 337.2V325.7M73.5 337.2V328.3M74.9 337.2V320.4M76.4 337.2V317.7M77.8 337.2V316.9M79.3 337.2V317.5M80.7 337.2V319.8M82.2 337.2V326.4M83.6 337.2V326.4M85.1 337.2V322.6M86.5 337.2V323.7M89.5 337.2V321.8M90.9 337.2V318.1M92.4 337.2V316.8M93.8 337.2V316.9M95.3 337.2V318.6M96.7 337.2V323.0M98.2 337.2V330.8M99.6 337.2V322.8M101.1 337.2V322.5M102.5 337.2V328.4M104.0 337.2V323.9M105.4 337.2V318.7M106.9 337.2V316.8M108.3 337.2V316.4M109.8 337.2V317.6M111.2 337.2V320.8M112.7 337.2V334.1M114.1 337.2V323.6M115.6 337.2V321.9M117.1 337.2V324.8M118.5 337.2V327.7M120.0 337.2V319.7M121.4 337.2V317.0M122.9 337.2V316.2M124.3 337.2V316.8M125.8 337.2V319.2M127.2 337.2V326.0M128.7 337.2V325.3M130.1 337.2V321.7M131.6 337.2V322.8M134.5 337.2V321.0M135.9 337.2V317.4M137.4 337.2V316.0M138.8 337.2V316.2M140.3 337.2V317.9M141.7 337.2V322.5M143.2 337.2V329.2M144.6 337.2V321.9M146.1 337.2V321.7M147.6 337.2V327.4M149.0 337.2V323.2M150.5 337.2V318.0M151.9 337.2V316.0M153.4 337.2V315.7M154.8 337.2V316.9M156.3 337.2V320.2M157.7 337.2V335.3M159.2 337.2V322.6M160.6 337.2V321.0M162.1 337.2V323.9M163.5 337.2V327.1M165.0 337.2V318.9M166.4 337.2V316.2M167.9 337.2V315.4M169.3 337.2V316.1M170.8 337.2V318.5M172.2 337.2V325.6M173.7 337.2V324.2M175.2 337.2V320.8M176.6 337.2V321.9M179.5 337.2V320.3M181.0 337.2V316.6M182.4 337.2V315.3M183.9 337.2V315.4M185.3 337.2V317.2M186.8 337.2V321.9M188.2 337.2V327.8M189.7 337.2V321.0M191.1 337.2V320.8M192.6 337.2V326.4M194.0 337.2V322.5M195.5 337.2V317.3M196.9 337.2V315.3M198.4 337.2V315.0M199.8 337.2V316.2M201.3 337.2V319.6M204.2 337.2V321.7M205.7 337.2V320.1M207.1 337.2V323.0M208.6 337.2V326.5M210.0 337.2V318.2M211.5 337.2V315.5M212.9 337.2V314.7M214.4 337.2V315.4M215.8 337.2V317.8M217.3 337.2V325.2M218.7 337.2V323.2M220.2 337.2V319.9M221.6 337.2V321.1M224.5 337.2V319.6M226.0 337.2V315.9M227.4 337.2V314.6M228.9 337.2V314.7M230.3 337.2V316.5M231.8 337.2V321.4M233.3 337.2V326.5M234.7 337.2V320.0M236.2 337.2V319.9M237.6 337.2V325.5M239.1 337.2V321.8M240.5 337.2V316.5M242.0 337.2V314.6M243.4 337.2V314.3M244.9 337.2V315.5M246.3 337.2V318.9M249.2 337.2V320.7M250.7 337.2V319.2M252.1 337.2V322.1M253.6 337.2V325.9M255.0 337.2V317.5M256.5 337.2V314.8M257.9 337.2V314.0M259.4 337.2V314.6M260.9 337.2V317.2M262.3 337.2V324.9M263.8 337.2V322.1M265.2 337.2V319.0M266.7 337.2V320.2M268.1 337.2V336.5M269.6 337.2V318.9M271.0 337.2V315.2M272.5 337.2V313.8M273.9 337.2V314.0M275.4 337.2V315.8M276.8 337.2V320.8M278.3 337.2V325.2M279.7 337.2V319.1M281.2 337.2V319.0M282.6 337.2V324.5M284.1 337.2V321.1M285.5 337.2V315.8M287.0 337.2V313.8M288.4 337.2V313.5M289.9 337.2V314.8M291.4 337.2V318.3M294.3 337.2V319.8M295.7 337.2V318.4M297.2 337.2V321.2M298.6 337.2V325.3M300.1 337.2V316.7M301.5 337.2V314.0M303.0 337.2V313.2M304.4 337.2V313.9M305.9 337.2V316.5M307.3 337.2V324.6M308.8 337.2V321.1M310.2 337.2V318.1M311.7 337.2V319.3M313.1 337.2V334.5M314.6 337.2V318.1M316.0 337.2V314.4M317.5 337.2V313.1M318.9 337.2V313.3M320.4 337.2V315.1M321.9 337.2V320.3M323.3 337.2V323.9M324.8 337.2V318.2M326.2 337.2V318.2M327.7 337.2V323.6M329.1 337.2V320.4M330.6 337.2V315.0M332.0 337.2V313.1M333.5 337.2V312.8M334.9 337.2V314.1M336.4 337.2V317.7M339.3 337.2V318.8M340.7 337.2V316.5M342.2 337.2V320.4M343.6 337.2V318.4M345.1 337.2V316.1M346.5 337.2V322.7M348.0 337.2V287.3M349.5 337.2V322.7M350.9 337.2V316.1M352.4 337.2V318.4M353.8 337.2V320.4M355.3 337.2V316.5M356.7 337.2V318.8M359.6 337.2V317.7M361.1 337.2V314.1M362.5 337.2V312.8M364.0 337.2V313.1M365.4 337.2V315.0M366.9 337.2V320.4M368.3 337.2V323.6M369.8 337.2V318.2M371.2 337.2V318.2M372.7 337.2V323.9M374.1 337.2V320.3M375.6 337.2V315.1M377.1 337.2V313.3M378.5 337.2V313.1M380.0 337.2V314.4M381.4 337.2V318.1M382.9 337.2V334.5M384.3 337.2V319.3M385.8 337.2V318.1M387.2 337.2V321.1M388.7 337.2V324.6M390.1 337.2V316.5M391.6 337.2V313.9M393.0 337.2V313.2M394.5 337.2V314.0M395.9 337.2V316.7M397.4 337.2V325.3M398.8 337.2V321.2M400.3 337.2V318.4M401.7 337.2V319.8M404.6 337.2V318.3M406.1 337.2V314.8M407.6 337.2V313.5M409.0 337.2V313.8M410.5 337.2V315.8M411.9 337.2V321.1M413.4 337.2V324.5M414.8 337.2V319.0M416.3 337.2V319.1M417.7 337.2V325.2M419.2 337.2V320.8M420.6 337.2V315.8M422.1 337.2V314.0M423.5 337.2V313.8M425.0 337.2V315.2M426.4 337.2V318.9M427.9 337.2V336.5M429.3 337.2V320.2M430.8 337.2V319.0M432.2 337.2V322.1M433.7 337.2V324.9M435.2 337.2V317.2M436.6 337.2V314.6M438.1 337.2V314.0M439.5 337.2V314.8M441.0 337.2V317.5M442.4 337.2V325.9M443.9 337.2V322.1M445.3 337.2V319.2M446.8 337.2V320.7M449.7 337.2V318.9M451.1 337.2V315.5M452.6 337.2V314.3M454.0 337.2V314.6M455.5 337.2V316.5M456.9 337.2V321.8M458.4 337.2V325.5M459.8 337.2V319.9M461.3 337.2V320.0M462.7 337.2V326.5M464.2 337.2V321.4M465.7 337.2V316.5M467.1 337.2V314.7M468.6 337.2V314.6M470.0 337.2V315.9M471.5 337.2V319.6M474.4 337.2V321.1M475.8 337.2V319.9M477.3 337.2V323.2M478.7 337.2V325.2M480.2 337.2V317.8M481.6 337.2V315.4M483.1 337.2V314.7M484.5 337.2V315.5M486.0 337.2V318.2M487.4 337.2V326.5M488.9 337.2V323.0M490.3 337.2V320.1M491.8 337.2V321.7M494.7 337.2V319.6M496.2 337.2V316.2M497.6 337.2V315.0M499.1 337.2V315.3M500.5 337.2V317.3M502.0 337.2V322.5M503.4 337.2V326.4M504.9 337.2V320.8M506.3 337.2V321.0M507.8 337.2V327.8M509.2 337.2V321.9M510.7 337.2V317.2M512.1 337.2V315.4M513.6 337.2V315.3M515.0 337.2V316.6M516.5 337.2V320.3M519.4 337.2V321.9M520.8 337.2V320.8M522.3 337.2V324.2M523.8 337.2V325.6M525.2 337.2V318.5M526.7 337.2V316.1M528.1 337.2V315.4M529.6 337.2V316.2M531.0 337.2V318.9M532.5 337.2V327.1M533.9 337.2V323.9M535.4 337.2V321.0M536.8 337.2V322.6M538.3 337.2V335.3M539.7 337.2V320.2M541.2 337.2V316.9M542.6 337.2V315.7M544.1 337.2V316.0M545.5 337.2V318.0M547.0 337.2V323.2M548.4 337.2V327.4M549.9 337.2V321.7M551.3 337.2V321.9M552.8 337.2V329.2M554.3 337.2V322.5M555.7 337.2V317.9M557.2 337.2V316.2M558.6 337.2V316.0M560.1 337.2V317.4M561.5 337.2V321.0M564.4 337.2V322.8M565.9 337.2V321.7M567.3 337.2V325.3M568.8 337.2V326.0M570.2 337.2V319.2M571.7 337.2V316.8M573.1 337.2V316.2M574.6 337.2V317.0M576.0 337.2V319.7M577.5 337.2V327.7M578.9 337.2V324.8M580.4 337.2V321.9M581.9 337.2V323.6M583.3 337.2V334.1M584.8 337.2V320.8M586.2 337.2V317.6M587.7 337.2V316.4M589.1 337.2V316.8M590.6 337.2V318.7M592.0 337.2V323.9M593.5 337.2V328.4M594.9 337.2V322.5M596.4 337.2V322.8M597.8 337.2V330.8M599.3 337.2V323.0M600.7 337.2V318.6M602.2 337.2V316.9M603.6 337.2V316.8M605.1 337.2V318.1M606.5 337.2V321.8M609.4 337.2V323.7M610.9 337.2V322.6M612.4 337.2V326.4M613.8 337.2V326.4M615.3 337.2V319.8M616.7 337.2V317.5M618.2 337.2V316.9M619.6 337.2V317.7M621.1 337.2V320.4M622.5 337.2V328.3M624.0 337.2V325.7M625.4 337.2V322.8M626.9 337.2V324.6M628.3 337.2V333.5M629.8 337.2V321.4M631.2 337.2V318.3M632.7 337.2V317.2M634.1 337.2V317.5M635.6 337.2V319.5M637.0 337.2V324.5M638.5 337.2V329.5" stroke="#c2e1f5" stroke-width="0.72" fill="none"/>
<polyline points="57.50,329.45 58.95,324.54 60.41,319.47 61.86,317.52 63.31,317.17 64.76,318.26 66.22,321.44 67.67,333.48 69.12,324.59 70.57,322.78 72.03,325.69 73.48,328.26 74.93,320.39 76.38,317.72 77.84,316.89 79.29,317.49 80.74,319.83 82.19,326.35 83.64,326.40 85.10,322.57 86.55,323.71 88.00,337.20 89.45,321.75 90.91,318.11 92.36,316.76 93.81,316.88 95.27,318.57 96.72,323.03 98.17,330.77 99.62,322.81 101.07,322.54 102.53,328.43 103.98,323.85 105.43,318.73 106.89,316.78 108.34,316.44 109.79,317.57 111.24,320.81 112.69,334.14 114.15,323.61 115.60,321.88 117.05,324.77 118.50,327.67 119.96,319.67 121.41,316.98 122.86,316.16 124.31,316.78 125.77,319.16 127.22,325.96 128.67,325.30 130.12,321.66 131.58,322.82 133.03,337.20 134.48,321.04 135.94,317.37 137.39,316.02 138.84,316.17 140.29,317.88 141.75,322.47 143.20,329.24 144.65,321.88 146.10,321.65 147.56,327.42 149.01,323.16 150.46,318.00 151.91,316.05 153.37,315.72 154.82,316.87 156.27,320.19 157.72,335.27 159.18,322.63 160.63,321.00 162.08,323.86 163.53,327.08 164.99,318.93 166.44,316.24 167.89,315.43 169.34,316.06 170.80,318.50 172.25,325.59 173.70,324.23 175.15,320.76 176.60,321.93 178.06,337.20 179.51,320.32 180.96,316.63 182.41,315.29 183.87,315.45 185.32,317.20 186.77,321.92 188.22,327.81 189.68,320.95 191.13,320.77 192.58,326.44 194.03,322.47 195.49,317.26 196.94,315.31 198.39,314.99 199.84,316.17 201.30,319.56 202.75,337.20 204.20,321.66 205.66,320.11 207.11,322.95 208.56,326.49 210.01,318.20 211.47,315.50 212.92,314.70 214.37,315.35 215.82,317.84 217.28,325.24 218.73,323.17 220.18,319.87 221.63,321.05 223.08,337.20 224.54,319.60 225.99,315.89 227.44,314.55 228.89,314.73 230.35,316.51 231.80,321.37 233.25,326.47 234.70,320.04 236.16,319.90 237.61,325.47 239.06,321.78 240.52,316.52 241.97,314.57 243.42,314.27 244.87,315.47 246.33,318.94 247.78,337.20 249.23,320.71 250.68,319.23 252.14,322.06 253.59,325.89 255.04,317.47 256.49,314.76 257.94,313.96 259.40,314.64 260.85,317.18 262.30,324.92 263.75,322.14 265.21,318.98 266.66,320.18 268.11,336.47 269.56,318.87 271.02,315.15 272.47,313.82 273.92,314.01 275.38,315.83 276.83,320.83 278.28,325.18 279.73,319.13 281.19,319.03 282.64,324.52 284.09,321.08 285.54,315.78 287.00,313.83 288.45,313.54 289.90,314.77 291.35,318.32 292.81,337.20 294.26,319.77 295.71,318.36 297.16,321.17 298.62,325.29 300.07,316.73 301.52,314.02 302.97,313.23 304.42,313.93 305.88,316.52 307.33,324.64 308.78,321.12 310.24,318.10 311.69,319.31 313.14,334.55 314.59,318.15 316.05,314.41 317.50,313.08 318.95,313.29 320.40,315.14 321.86,320.30 323.31,323.94 324.76,318.23 326.21,318.17 327.67,323.57 329.12,320.40 330.57,315.04 332.02,313.07 333.47,312.81 334.93,314.13 336.38,317.69 337.83,337.20 339.28,318.79 340.74,316.54 342.19,320.41 343.64,318.36 345.09,316.11 346.55,322.72 348.00,287.30 349.45,322.72 350.91,316.11 352.36,318.36 353.81,320.41 355.26,316.54 356.72,318.79 358.17,337.20 359.62,317.69 361.07,314.13 362.53,312.81 363.98,313.07 365.43,315.04 366.88,320.40 368.34,323.57 369.79,318.17 371.24,318.23 372.69,323.94 374.15,320.30 375.60,315.14 377.05,313.29 378.50,313.08 379.96,314.41 381.41,318.15 382.86,334.55 384.31,319.31 385.76,318.10 387.22,321.12 388.67,324.64 390.12,316.52 391.57,313.93 393.03,313.23 394.48,314.02 395.93,316.73 397.38,325.29 398.84,321.17 400.29,318.36 401.74,319.77 403.19,337.20 404.65,318.32 406.10,314.77 407.55,313.54 409.00,313.83 410.46,315.78 411.91,321.08 413.36,324.52 414.81,319.03 416.27,319.13 417.72,325.18 419.17,320.83 420.62,315.83 422.08,314.01 423.53,313.82 424.98,315.15 426.44,318.87 427.89,336.47 429.34,320.18 430.79,318.98 432.25,322.14 433.70,324.92 435.15,317.18 436.60,314.64 438.06,313.96 439.51,314.76 440.96,317.47 442.41,325.89 443.87,322.06 445.32,319.23 446.77,320.71 448.22,337.20 449.68,318.94 451.13,315.47 452.58,314.27 454.03,314.57 455.49,316.52 456.94,321.78 458.39,325.47 459.84,319.90 461.29,320.04 462.75,326.47 464.20,321.37 465.65,316.51 467.10,314.73 468.56,314.55 470.01,315.89 471.46,319.60 472.91,337.20 474.37,321.05 475.82,319.87 477.27,323.17 478.72,325.24 480.18,317.84 481.63,315.35 483.08,314.70 484.53,315.50 485.99,318.20 487.44,326.49 488.89,322.95 490.34,320.11 491.80,321.66 493.25,337.20 494.70,319.56 496.16,316.17 497.61,314.99 499.06,315.31 500.51,317.26 501.97,322.47 503.42,326.44 504.87,320.77 506.32,320.95 507.78,327.81 509.23,321.92 510.68,317.20 512.13,315.45 513.59,315.29 515.04,316.63 516.49,320.32 517.94,337.20 519.39,321.93 520.85,320.76 522.30,324.23 523.75,325.59 525.21,318.50 526.66,316.06 528.11,315.43 529.56,316.24 531.01,318.93 532.47,327.08 533.92,323.86 535.37,321.00 536.83,322.63 538.28,335.27 539.73,320.19 541.18,316.87 542.63,315.72 544.09,316.05 545.54,318.00 546.99,323.16 548.44,327.42 549.90,321.65 551.35,321.88 552.80,329.24 554.25,322.47 555.71,317.88 557.16,316.17 558.61,316.02 560.07,317.37 561.52,321.04 562.97,337.20 564.42,322.82 565.88,321.66 567.33,325.30 568.78,325.96 570.23,319.16 571.69,316.78 573.14,316.16 574.59,316.98 576.04,319.67 577.50,327.67 578.95,324.77 580.40,321.88 581.85,323.61 583.31,334.14 584.76,320.81 586.21,317.57 587.66,316.44 589.12,316.78 590.57,318.73 592.02,323.85 593.47,328.43 594.93,322.54 596.38,322.81 597.83,330.77 599.28,323.03 600.74,318.57 602.19,316.88 603.64,316.76 605.09,318.11 606.54,321.75 608.00,337.20 609.45,323.71 610.90,322.57 612.36,326.40 613.81,326.35 615.26,319.83 616.71,317.49 618.16,316.89 619.62,317.72 621.07,320.39 622.52,328.26 623.98,325.69 625.43,322.78 626.88,324.59 628.33,333.48 629.78,321.44 631.24,318.26 632.69,317.17 634.14,317.52 635.60,319.47 637.05,324.54 638.50,329.45" fill="none" stroke="#744793" stroke-width="0.85" stroke-linejoin="round"/></g>
<rect x="57.50" y="286.80" width="581.00" height="50.40" fill="none" stroke="#9a9a9a" stroke-width="1"/>
<line x1="57.50" y1="286.80" x2="57.50" y2="337.20" stroke="#808080" stroke-width="1"/>
<line x1="53.50" y1="337.20" x2="57.50" y2="337.20" stroke="#6a6a6a" stroke-width="0.9"/>
<line x1="53.50" y1="324.50" x2="57.50" y2="324.50" stroke="#6a6a6a" stroke-width="0.9"/>
<line x1="53.50" y1="311.80" x2="57.50" y2="311.80" stroke="#6a6a6a" stroke-width="0.9"/>
<line x1="53.50" y1="299.10" x2="57.50" y2="299.10" stroke="#6a6a6a" stroke-width="0.9"/>
<clipPath id="cb2"><rect x="57.5" y="341.4" width="581.0" height="50.10000000000002"/></clipPath>
<g clip-path="url(#cb2)"><polygon points="57.50,391.50 57.50,381.54 58.95,375.57 60.41,375.12 61.86,380.97 63.31,376.11 64.76,371.20 66.22,369.63 67.67,369.95 69.12,372.15 70.57,377.54 72.03,387.30 73.48,383.03 74.93,384.66 76.38,376.88 77.84,375.53 79.29,378.65 80.74,381.08 82.19,374.09 83.64,372.75 85.10,374.85 86.55,386.84 88.00,372.99 89.45,370.28 90.91,369.96 92.36,371.47 93.81,375.08 95.27,381.68 96.72,384.21 98.17,377.63 99.62,373.98 101.07,373.05 102.53,375.10 103.98,391.50 105.43,374.20 106.89,371.74 108.34,372.40 109.79,377.83 111.24,376.57 112.69,371.66 114.15,370.66 115.60,371.72 117.05,374.75 118.50,379.37 119.96,379.70 121.41,375.15 122.86,372.06 124.31,371.00 125.77,372.13 127.22,377.99 128.67,376.35 130.12,371.85 131.58,371.43 133.03,374.22 134.48,387.49 135.94,373.85 137.39,372.00 138.84,372.87 140.29,376.16 141.75,381.77 143.20,380.60 144.65,374.63 146.10,371.08 147.56,369.62 149.01,370.03 150.46,373.13 151.91,387.62 153.37,373.22 154.82,371.55 156.27,373.11 157.72,381.02 159.18,376.72 160.63,373.80 162.08,374.87 163.53,380.50 164.99,385.47 166.44,391.50 167.89,376.11 169.34,371.05 170.80,368.93 172.25,368.71 173.70,370.50 175.15,376.58 176.60,376.89 178.06,372.83 179.51,373.50 180.96,379.39 182.41,378.87 183.87,375.34 185.32,377.37 186.77,387.24 188.22,376.61 189.68,376.96 191.13,383.46 192.58,372.16 194.03,368.95 195.49,368.07 196.94,369.03 198.39,372.46 199.84,389.13 201.30,375.77 202.75,375.52 204.20,383.27 205.66,377.76 207.11,375.25 208.56,378.43 210.01,379.75 211.47,373.52 212.92,372.87 214.37,377.56 215.82,375.27 217.28,369.78 218.73,368.09 220.18,368.38 221.63,370.65 223.08,376.38 224.54,383.51 225.99,380.80 227.44,382.48 228.89,374.76 230.35,373.37 231.80,376.23 233.25,380.03 234.70,372.33 236.16,370.82 237.61,372.67 239.06,391.50 240.52,371.66 241.97,368.77 243.42,368.44 244.87,370.03 246.33,373.96 247.78,382.09 249.23,385.02 250.68,376.14 252.14,372.15 253.59,371.08 255.04,372.95 256.49,391.50 257.94,372.62 259.40,369.98 260.85,370.52 262.30,375.55 263.75,375.38 265.21,370.17 266.66,369.16 268.11,370.34 269.56,373.75 271.02,379.61 272.47,379.79 273.92,373.89 275.38,370.41 276.83,369.19 278.28,370.21 279.73,375.66 281.19,374.99 282.64,370.18 284.09,369.68 285.54,372.39 287.00,387.51 288.45,372.30 289.90,370.46 291.35,371.49 292.81,375.40 294.26,384.27 295.71,382.04 297.16,373.61 298.62,369.57 300.07,367.93 301.52,368.25 302.97,371.23 304.42,388.91 305.88,371.61 307.33,369.88 308.78,371.44 310.24,379.53 311.69,374.93 313.14,372.13 314.59,373.42 316.05,380.62 317.50,379.83 318.95,381.87 320.40,375.57 321.86,369.68 323.31,367.37 324.76,367.02 326.21,368.71 327.67,374.80 329.12,374.85 330.57,371.18 332.02,372.33 333.47,378.03 334.93,378.97 336.38,373.27 337.83,373.15 339.28,382.23 340.74,370.75 342.19,374.41 343.64,371.01 345.09,371.22 346.55,371.73 348.00,341.90 349.45,371.73 350.91,371.22 352.36,371.01 353.81,374.41 355.26,370.75 356.72,382.23 358.17,373.15 359.62,373.27 361.07,378.97 362.53,378.03 363.98,372.33 365.43,371.18 366.88,374.85 368.34,374.80 369.79,368.71 371.24,367.02 372.69,367.37 374.15,369.68 375.60,375.57 377.05,381.87 378.50,379.83 379.96,380.62 381.41,373.42 382.86,372.13 384.31,374.93 385.76,379.53 387.22,371.44 388.67,369.88 390.12,371.61 391.57,388.91 393.03,371.23 394.48,368.25 395.93,367.93 397.38,369.57 398.84,373.61 400.29,382.04 401.74,384.27 403.19,375.40 404.65,371.49 406.10,370.46 407.55,372.30 409.00,387.51 410.46,372.39 411.91,369.68 413.36,370.18 414.81,374.99 416.27,375.66 417.72,370.21 419.17,369.19 420.62,370.41 422.08,373.89 423.53,379.79 424.98,379.61 426.44,373.75 427.89,370.34 429.34,369.16 430.79,370.17 432.25,375.38 433.70,375.55 435.15,370.52 436.60,369.98 438.06,372.62 439.51,391.50 440.96,372.95 442.41,371.08 443.87,372.15 445.32,376.14 446.77,385.02 448.22,382.09 449.68,373.96 451.13,370.03 452.58,368.44 454.03,368.77 455.49,371.66 456.94,391.50 458.39,372.67 459.84,370.82 461.29,372.33 462.75,380.03 464.20,376.23 465.65,373.37 467.10,374.76 468.56,382.48 470.01,380.80 471.46,383.51 472.91,376.38 474.37,370.65 475.82,368.38 477.27,368.09 478.72,369.78 480.18,375.27 481.63,377.56 483.08,372.87 484.53,373.52 485.99,379.75 487.44,378.43 488.89,375.25 490.34,377.76 491.80,383.27 493.25,375.52 494.70,375.77 496.16,389.13 497.61,372.46 499.06,369.03 500.51,368.07 501.97,368.95 503.42,372.16 504.87,383.46 506.32,376.96 507.78,376.61 509.23,387.24 510.68,377.37 512.13,375.34 513.59,378.87 515.04,379.39 516.49,373.50 517.94,372.83 519.39,376.89 520.85,376.58 522.30,370.50 523.75,368.71 525.21,368.93 526.66,371.05 528.11,376.11 529.56,391.50 531.01,385.47 532.47,380.50 533.92,374.87 535.37,373.80 536.83,376.72 538.28,381.02 539.73,373.11 541.18,371.55 542.63,373.22 544.09,387.62 545.54,373.13 546.99,370.03 548.44,369.62 549.90,371.08 551.35,374.63 552.80,380.60 554.25,381.77 555.71,376.16 557.16,372.87 558.61,372.00 560.07,373.85 561.52,387.49 562.97,374.22 564.42,371.43 565.88,371.85 567.33,376.35 568.78,377.99 570.23,372.13 571.69,371.00 573.14,372.06 574.59,375.15 576.04,379.70 577.50,379.37 578.95,374.75 580.40,371.72 581.85,370.66 583.31,371.66 584.76,376.57 586.21,377.83 587.66,372.40 589.12,371.74 590.57,374.20 592.02,391.50 593.47,375.10 594.93,373.05 596.38,373.98 597.83,377.63 599.28,384.21 600.74,381.68 602.19,375.08 603.64,371.47 605.09,369.96 606.54,370.28 608.00,372.99 609.45,386.84 610.90,374.85 612.36,372.75 613.81,374.09 615.26,381.08 616.71,378.65 618.16,375.53 619.62,376.88 621.07,384.66 622.52,383.03 623.98,387.30 625.43,377.54 626.88,372.15 628.33,369.95 629.78,369.63 631.24,371.20 632.69,376.11 634.14,380.97 635.60,375.12 637.05,375.57 638.50,381.54 638.50,391.50" fill="#f3f9fd" stroke="none" stroke-width="1"/>
<path d="M57.5 391.5V381.5M59.0 391.5V375.6M60.4 391.5V375.1M61.9 391.5V381.0M63.3 391.5V376.1M64.8 391.5V371.2M66.2 391.5V369.6M67.7 391.5V369.9M69.1 391.5V372.2M70.6 391.5V377.5M72.0 391.5V387.3M73.5 391.5V383.0M74.9 391.5V384.7M76.4 391.5V376.9M77.8 391.5V375.5M79.3 391.5V378.6M80.7 391.5V381.1M82.2 391.5V374.1M83.6 391.5V372.7M85.1 391.5V374.8M86.5 391.5V386.8M88.0 391.5V373.0M89.5 391.5V370.3M90.9 391.5V370.0M92.4 391.5V371.5M93.8 391.5V375.1M95.3 391.5V381.7M96.7 391.5V384.2M98.2 391.5V377.6M99.6 391.5V374.0M101.1 391.5V373.0M102.5 391.5V375.1M105.4 391.5V374.2M106.9 391.5V371.7M108.3 391.5V372.4M109.8 391.5V377.8M111.2 391.5V376.6M112.7 391.5V371.7M114.1 391.5V370.7M115.6 391.5V371.7M117.1 391.5V374.8M118.5 391.5V379.4M120.0 391.5V379.7M121.4 391.5V375.2M122.9 391.5V372.1M124.3 391.5V371.0M125.8 391.5V372.1M127.2 391.5V378.0M128.7 391.5V376.4M130.1 391.5V371.8M131.6 391.5V371.4M133.0 391.5V374.2M134.5 391.5V387.5M135.9 391.5V373.9M137.4 391.5V372.0M138.8 391.5V372.9M140.3 391.5V376.2M141.7 391.5V381.8M143.2 391.5V380.6M144.6 391.5V374.6M146.1 391.5V371.1M147.6 391.5V369.6M149.0 391.5V370.0M150.5 391.5V373.1M151.9 391.5V387.6M153.4 391.5V373.2M154.8 391.5V371.6M156.3 391.5V373.1M157.7 391.5V381.0M159.2 391.5V376.7M160.6 391.5V373.8M162.1 391.5V374.9M163.5 391.5V380.5M165.0 391.5V385.5M167.9 391.5V376.1M169.3 391.5V371.0M170.8 391.5V368.9M172.2 391.5V368.7M173.7 391.5V370.5M175.2 391.5V376.6M176.6 391.5V376.9M178.1 391.5V372.8M179.5 391.5V373.5M181.0 391.5V379.4M182.4 391.5V378.9M183.9 391.5V375.3M185.3 391.5V377.4M186.8 391.5V387.2M188.2 391.5V376.6M189.7 391.5V377.0M191.1 391.5V383.5M192.6 391.5V372.2M194.0 391.5V368.9M195.5 391.5V368.1M196.9 391.5V369.0M198.4 391.5V372.5M199.8 391.5V389.1M201.3 391.5V375.8M202.8 391.5V375.5M204.2 391.5V383.3M205.7 391.5V377.8M207.1 391.5V375.2M208.6 391.5V378.4M210.0 391.5V379.7M211.5 391.5V373.5M212.9 391.5V372.9M214.4 391.5V377.6M215.8 391.5V375.3M217.3 391.5V369.8M218.7 391.5V368.1M220.2 391.5V368.4M221.6 391.5V370.7M223.1 391.5V376.4M224.5 391.5V383.5M226.0 391.5V380.8M227.4 391.5V382.5M228.9 391.5V374.8M230.3 391.5V373.4M231.8 391.5V376.2M233.3 391.5V380.0M234.7 391.5V372.3M236.2 391.5V370.8M237.6 391.5V372.7M240.5 391.5V371.7M242.0 391.5V368.8M243.4 391.5V368.4M244.9 391.5V370.0M246.3 391.5V374.0M247.8 391.5V382.1M249.2 391.5V385.0M250.7 391.5V376.1M252.1 391.5V372.1M253.6 391.5V371.1M255.0 391.5V372.9M257.9 391.5V372.6M259.4 391.5V370.0M260.9 391.5V370.5M262.3 391.5V375.5M263.8 391.5V375.4M265.2 391.5V370.2M266.7 391.5V369.2M268.1 391.5V370.3M269.6 391.5V373.7M271.0 391.5V379.6M272.5 391.5V379.8M273.9 391.5V373.9M275.4 391.5V370.4M276.8 391.5V369.2M278.3 391.5V370.2M279.7 391.5V375.7M281.2 391.5V375.0M282.6 391.5V370.2M284.1 391.5V369.7M285.5 391.5V372.4M287.0 391.5V387.5M288.4 391.5V372.3M289.9 391.5V370.5M291.4 391.5V371.5M292.8 391.5V375.4M294.3 391.5V384.3M295.7 391.5V382.0M297.2 391.5V373.6M298.6 391.5V369.6M300.1 391.5V367.9M301.5 391.5V368.3M303.0 391.5V371.2M304.4 391.5V388.9M305.9 391.5V371.6M307.3 391.5V369.9M308.8 391.5V371.4M310.2 391.5V379.5M311.7 391.5V374.9M313.1 391.5V372.1M314.6 391.5V373.4M316.0 391.5V380.6M317.5 391.5V379.8M318.9 391.5V381.9M320.4 391.5V375.6M321.9 391.5V369.7M323.3 391.5V367.4M324.8 391.5V367.0M326.2 391.5V368.7M327.7 391.5V374.8M329.1 391.5V374.8M330.6 391.5V371.2M332.0 391.5V372.3M333.5 391.5V378.0M334.9 391.5V379.0M336.4 391.5V373.3M337.8 391.5V373.2M339.3 391.5V382.2M340.7 391.5V370.7M342.2 391.5V374.4M343.6 391.5V371.0M345.1 391.5V371.2M346.5 391.5V371.7M348.0 391.5V341.9M349.5 391.5V371.7M350.9 391.5V371.2M352.4 391.5V371.0M353.8 391.5V374.4M355.3 391.5V370.7M356.7 391.5V382.2M358.2 391.5V373.2M359.6 391.5V373.3M361.1 391.5V379.0M362.5 391.5V378.0M364.0 391.5V372.3M365.4 391.5V371.2M366.9 391.5V374.8M368.3 391.5V374.8M369.8 391.5V368.7M371.2 391.5V367.0M372.7 391.5V367.4M374.1 391.5V369.7M375.6 391.5V375.6M377.1 391.5V381.9M378.5 391.5V379.8M380.0 391.5V380.6M381.4 391.5V373.4M382.9 391.5V372.1M384.3 391.5V374.9M385.8 391.5V379.5M387.2 391.5V371.4M388.7 391.5V369.9M390.1 391.5V371.6M391.6 391.5V388.9M393.0 391.5V371.2M394.5 391.5V368.3M395.9 391.5V367.9M397.4 391.5V369.6M398.8 391.5V373.6M400.3 391.5V382.0M401.7 391.5V384.3M403.2 391.5V375.4M404.6 391.5V371.5M406.1 391.5V370.5M407.6 391.5V372.3M409.0 391.5V387.5M410.5 391.5V372.4M411.9 391.5V369.7M413.4 391.5V370.2M414.8 391.5V375.0M416.3 391.5V375.7M417.7 391.5V370.2M419.2 391.5V369.2M420.6 391.5V370.4M422.1 391.5V373.9M423.5 391.5V379.8M425.0 391.5V379.6M426.4 391.5V373.7M427.9 391.5V370.3M429.3 391.5V369.2M430.8 391.5V370.2M432.2 391.5V375.4M433.7 391.5V375.5M435.2 391.5V370.5M436.6 391.5V370.0M438.1 391.5V372.6M441.0 391.5V372.9M442.4 391.5V371.1M443.9 391.5V372.1M445.3 391.5V376.1M446.8 391.5V385.0M448.2 391.5V382.1M449.7 391.5V374.0M451.1 391.5V370.0M452.6 391.5V368.4M454.0 391.5V368.8M455.5 391.5V371.7M458.4 391.5V372.7M459.8 391.5V370.8M461.3 391.5V372.3M462.7 391.5V380.0M464.2 391.5V376.2M465.7 391.5V373.4M467.1 391.5V374.8M468.6 391.5V382.5M470.0 391.5V380.8M471.5 391.5V383.5M472.9 391.5V376.4M474.4 391.5V370.7M475.8 391.5V368.4M477.3 391.5V368.1M478.7 391.5V369.8M480.2 391.5V375.3M481.6 391.5V377.6M483.1 391.5V372.9M484.5 391.5V373.5M486.0 391.5V379.7M487.4 391.5V378.4M488.9 391.5V375.2M490.3 391.5V377.8M491.8 391.5V383.3M493.2 391.5V375.5M494.7 391.5V375.8M496.2 391.5V389.1M497.6 391.5V372.5M499.1 391.5V369.0M500.5 391.5V368.1M502.0 391.5V368.9M503.4 391.5V372.2M504.9 391.5V383.5M506.3 391.5V377.0M507.8 391.5V376.6M509.2 391.5V387.2M510.7 391.5V377.4M512.1 391.5V375.3M513.6 391.5V378.9M515.0 391.5V379.4M516.5 391.5V373.5M517.9 391.5V372.8M519.4 391.5V376.9M520.8 391.5V376.6M522.3 391.5V370.5M523.8 391.5V368.7M525.2 391.5V368.9M526.7 391.5V371.0M528.1 391.5V376.1M531.0 391.5V385.5M532.5 391.5V380.5M533.9 391.5V374.9M535.4 391.5V373.8M536.8 391.5V376.7M538.3 391.5V381.0M539.7 391.5V373.1M541.2 391.5V371.6M542.6 391.5V373.2M544.1 391.5V387.6M545.5 391.5V373.1M547.0 391.5V370.0M548.4 391.5V369.6M549.9 391.5V371.1M551.3 391.5V374.6M552.8 391.5V380.6M554.3 391.5V381.8M555.7 391.5V376.2M557.2 391.5V372.9M558.6 391.5V372.0M560.1 391.5V373.9M561.5 391.5V387.5M563.0 391.5V374.2M564.4 391.5V371.4M565.9 391.5V371.8M567.3 391.5V376.4M568.8 391.5V378.0M570.2 391.5V372.1M571.7 391.5V371.0M573.1 391.5V372.1M574.6 391.5V375.2M576.0 391.5V379.7M577.5 391.5V379.4M578.9 391.5V374.8M580.4 391.5V371.7M581.9 391.5V370.7M583.3 391.5V371.7M584.8 391.5V376.6M586.2 391.5V377.8M587.7 391.5V372.4M589.1 391.5V371.7M590.6 391.5V374.2M593.5 391.5V375.1M594.9 391.5V373.0M596.4 391.5V374.0M597.8 391.5V377.6M599.3 391.5V384.2M600.7 391.5V381.7M602.2 391.5V375.1M603.6 391.5V371.5M605.1 391.5V370.0M606.5 391.5V370.3M608.0 391.5V373.0M609.4 391.5V386.8M610.9 391.5V374.8M612.4 391.5V372.7M613.8 391.5V374.1M615.3 391.5V381.1M616.7 391.5V378.6M618.2 391.5V375.5M619.6 391.5V376.9M621.1 391.5V384.7M622.5 391.5V383.0M624.0 391.5V387.3M625.4 391.5V377.5M626.9 391.5V372.2M628.3 391.5V369.9M629.8 391.5V369.6M631.2 391.5V371.2M632.7 391.5V376.1M634.1 391.5V381.0M635.6 391.5V375.1M637.0 391.5V375.6M638.5 391.5V381.5" stroke="#c2e1f5" stroke-width="0.72" fill="none"/>
<polyline points="57.50,381.54 58.95,375.57 60.41,375.12 61.86,380.97 63.31,376.11 64.76,371.20 66.22,369.63 67.67,369.95 69.12,372.15 70.57,377.54 72.03,387.30 73.48,383.03 74.93,384.66 76.38,376.88 77.84,375.53 79.29,378.65 80.74,381.08 82.19,374.09 83.64,372.75 85.10,374.85 86.55,386.84 88.00,372.99 89.45,370.28 90.91,369.96 92.36,371.47 93.81,375.08 95.27,381.68 96.72,384.21 98.17,377.63 99.62,373.98 101.07,373.05 102.53,375.10 103.98,391.50 105.43,374.20 106.89,371.74 108.34,372.40 109.79,377.83 111.24,376.57 112.69,371.66 114.15,370.66 115.60,371.72 117.05,374.75 118.50,379.37 119.96,379.70 121.41,375.15 122.86,372.06 124.31,371.00 125.77,372.13 127.22,377.99 128.67,376.35 130.12,371.85 131.58,371.43 133.03,374.22 134.48,387.49 135.94,373.85 137.39,372.00 138.84,372.87 140.29,376.16 141.75,381.77 143.20,380.60 144.65,374.63 146.10,371.08 147.56,369.62 149.01,370.03 150.46,373.13 151.91,387.62 153.37,373.22 154.82,371.55 156.27,373.11 157.72,381.02 159.18,376.72 160.63,373.80 162.08,374.87 163.53,380.50 164.99,385.47 166.44,391.50 167.89,376.11 169.34,371.05 170.80,368.93 172.25,368.71 173.70,370.50 175.15,376.58 176.60,376.89 178.06,372.83 179.51,373.50 180.96,379.39 182.41,378.87 183.87,375.34 185.32,377.37 186.77,387.24 188.22,376.61 189.68,376.96 191.13,383.46 192.58,372.16 194.03,368.95 195.49,368.07 196.94,369.03 198.39,372.46 199.84,389.13 201.30,375.77 202.75,375.52 204.20,383.27 205.66,377.76 207.11,375.25 208.56,378.43 210.01,379.75 211.47,373.52 212.92,372.87 214.37,377.56 215.82,375.27 217.28,369.78 218.73,368.09 220.18,368.38 221.63,370.65 223.08,376.38 224.54,383.51 225.99,380.80 227.44,382.48 228.89,374.76 230.35,373.37 231.80,376.23 233.25,380.03 234.70,372.33 236.16,370.82 237.61,372.67 239.06,391.50 240.52,371.66 241.97,368.77 243.42,368.44 244.87,370.03 246.33,373.96 247.78,382.09 249.23,385.02 250.68,376.14 252.14,372.15 253.59,371.08 255.04,372.95 256.49,391.50 257.94,372.62 259.40,369.98 260.85,370.52 262.30,375.55 263.75,375.38 265.21,370.17 266.66,369.16 268.11,370.34 269.56,373.75 271.02,379.61 272.47,379.79 273.92,373.89 275.38,370.41 276.83,369.19 278.28,370.21 279.73,375.66 281.19,374.99 282.64,370.18 284.09,369.68 285.54,372.39 287.00,387.51 288.45,372.30 289.90,370.46 291.35,371.49 292.81,375.40 294.26,384.27 295.71,382.04 297.16,373.61 298.62,369.57 300.07,367.93 301.52,368.25 302.97,371.23 304.42,388.91 305.88,371.61 307.33,369.88 308.78,371.44 310.24,379.53 311.69,374.93 313.14,372.13 314.59,373.42 316.05,380.62 317.50,379.83 318.95,381.87 320.40,375.57 321.86,369.68 323.31,367.37 324.76,367.02 326.21,368.71 327.67,374.80 329.12,374.85 330.57,371.18 332.02,372.33 333.47,378.03 334.93,378.97 336.38,373.27 337.83,373.15 339.28,382.23 340.74,370.75 342.19,374.41 343.64,371.01 345.09,371.22 346.55,371.73 348.00,341.90 349.45,371.73 350.91,371.22 352.36,371.01 353.81,374.41 355.26,370.75 356.72,382.23 358.17,373.15 359.62,373.27 361.07,378.97 362.53,378.03 363.98,372.33 365.43,371.18 366.88,374.85 368.34,374.80 369.79,368.71 371.24,367.02 372.69,367.37 374.15,369.68 375.60,375.57 377.05,381.87 378.50,379.83 379.96,380.62 381.41,373.42 382.86,372.13 384.31,374.93 385.76,379.53 387.22,371.44 388.67,369.88 390.12,371.61 391.57,388.91 393.03,371.23 394.48,368.25 395.93,367.93 397.38,369.57 398.84,373.61 400.29,382.04 401.74,384.27 403.19,375.40 404.65,371.49 406.10,370.46 407.55,372.30 409.00,387.51 410.46,372.39 411.91,369.68 413.36,370.18 414.81,374.99 416.27,375.66 417.72,370.21 419.17,369.19 420.62,370.41 422.08,373.89 423.53,379.79 424.98,379.61 426.44,373.75 427.89,370.34 429.34,369.16 430.79,370.17 432.25,375.38 433.70,375.55 435.15,370.52 436.60,369.98 438.06,372.62 439.51,391.50 440.96,372.95 442.41,371.08 443.87,372.15 445.32,376.14 446.77,385.02 448.22,382.09 449.68,373.96 451.13,370.03 452.58,368.44 454.03,368.77 455.49,371.66 456.94,391.50 458.39,372.67 459.84,370.82 461.29,372.33 462.75,380.03 464.20,376.23 465.65,373.37 467.10,374.76 468.56,382.48 470.01,380.80 471.46,383.51 472.91,376.38 474.37,370.65 475.82,368.38 477.27,368.09 478.72,369.78 480.18,375.27 481.63,377.56 483.08,372.87 484.53,373.52 485.99,379.75 487.44,378.43 488.89,375.25 490.34,377.76 491.80,383.27 493.25,375.52 494.70,375.77 496.16,389.13 497.61,372.46 499.06,369.03 500.51,368.07 501.97,368.95 503.42,372.16 504.87,383.46 506.32,376.96 507.78,376.61 509.23,387.24 510.68,377.37 512.13,375.34 513.59,378.87 515.04,379.39 516.49,373.50 517.94,372.83 519.39,376.89 520.85,376.58 522.30,370.50 523.75,368.71 525.21,368.93 526.66,371.05 528.11,376.11 529.56,391.50 531.01,385.47 532.47,380.50 533.92,374.87 535.37,373.80 536.83,376.72 538.28,381.02 539.73,373.11 541.18,371.55 542.63,373.22 544.09,387.62 545.54,373.13 546.99,370.03 548.44,369.62 549.90,371.08 551.35,374.63 552.80,380.60 554.25,381.77 555.71,376.16 557.16,372.87 558.61,372.00 560.07,373.85 561.52,387.49 562.97,374.22 564.42,371.43 565.88,371.85 567.33,376.35 568.78,377.99 570.23,372.13 571.69,371.00 573.14,372.06 574.59,375.15 576.04,379.70 577.50,379.37 578.95,374.75 580.40,371.72 581.85,370.66 583.31,371.66 584.76,376.57 586.21,377.83 587.66,372.40 589.12,371.74 590.57,374.20 592.02,391.50 593.47,375.10 594.93,373.05 596.38,373.98 597.83,377.63 599.28,384.21 600.74,381.68 602.19,375.08 603.64,371.47 605.09,369.96 606.54,370.28 608.00,372.99 609.45,386.84 610.90,374.85 612.36,372.75 613.81,374.09 615.26,381.08 616.71,378.65 618.16,375.53 619.62,376.88 621.07,384.66 622.52,383.03 623.98,387.30 625.43,377.54 626.88,372.15 628.33,369.95 629.78,369.63 631.24,371.20 632.69,376.11 634.14,380.97 635.60,375.12 637.05,375.57 638.50,381.54" fill="none" stroke="#744793" stroke-width="0.85" stroke-linejoin="round"/></g>
<rect x="57.50" y="341.40" width="581.00" height="50.10" fill="none" stroke="#9a9a9a" stroke-width="1"/>
<line x1="57.50" y1="341.40" x2="57.50" y2="391.50" stroke="#808080" stroke-width="1"/>
<line x1="53.50" y1="391.50" x2="57.50" y2="391.50" stroke="#6a6a6a" stroke-width="0.9"/>
<line x1="53.50" y1="378.80" x2="57.50" y2="378.80" stroke="#6a6a6a" stroke-width="0.9"/>
<line x1="53.50" y1="366.10" x2="57.50" y2="366.10" stroke="#6a6a6a" stroke-width="0.9"/>
<line x1="53.50" y1="353.40" x2="57.50" y2="353.40" stroke="#6a6a6a" stroke-width="0.9"/>
<clipPath id="cb3"><rect x="57.5" y="410.5" width="581.0" height="50.0"/></clipPath>
<g clip-path="url(#cb3)"><polygon points="57.50,460.50 57.50,447.01 58.95,443.94 60.41,443.10 61.86,443.85 63.31,446.83 64.76,460.50 66.22,446.77 67.67,443.69 69.12,442.85 70.57,443.60 72.03,446.58 73.48,460.50 74.93,446.52 76.38,443.44 77.84,442.60 79.29,443.35 80.74,446.33 82.19,460.50 83.64,446.27 85.10,443.19 86.55,442.35 88.00,443.10 89.45,446.08 90.91,460.50 92.36,446.03 93.81,442.94 95.27,442.11 96.72,442.85 98.17,445.83 99.62,460.50 101.07,445.78 102.53,442.70 103.98,441.86 105.43,442.60 106.89,445.58 108.34,460.50 109.79,445.53 111.24,442.45 112.69,441.61 114.15,442.36 115.60,445.33 117.05,460.50 118.50,445.28 119.96,442.20 121.41,441.36 122.86,442.11 124.31,445.08 125.77,460.50 127.22,445.04 128.67,441.95 130.12,441.11 131.58,441.86 133.03,444.83 134.48,460.50 135.94,444.79 137.39,441.71 138.84,440.86 140.29,441.61 141.75,444.59 143.20,460.50 144.65,444.54 146.10,441.46 147.56,440.62 149.01,441.36 150.46,444.34 151.91,460.50 153.37,444.29 154.82,441.21 156.27,440.37 157.72,441.11 159.18,444.09 160.63,460.50 162.08,444.05 163.53,440.96 164.99,440.12 166.44,440.86 167.89,443.84 169.34,460.50 170.80,443.80 172.25,440.71 173.70,439.87 175.15,440.62 176.60,443.59 178.06,460.50 179.51,443.55 180.96,440.47 182.41,439.62 183.87,440.37 185.32,443.34 186.77,460.50 188.22,443.30 189.68,440.22 191.13,439.37 192.58,440.12 194.03,443.09 195.49,460.50 196.94,443.06 198.39,439.97 199.84,439.13 201.30,439.87 202.75,442.84 204.20,460.50 205.66,442.81 207.11,439.72 208.56,438.88 210.01,439.62 211.47,442.59 212.92,460.50 214.37,442.56 215.82,439.47 217.28,438.63 218.73,439.37 220.18,442.34 221.63,460.50 223.08,442.32 224.54,439.23 225.99,438.38 227.44,439.12 228.89,442.09 230.35,460.50 231.80,442.07 233.25,438.98 234.70,438.13 236.16,438.88 237.61,441.84 239.06,460.50 240.52,441.82 241.97,438.73 243.42,437.88 244.87,438.63 246.33,441.59 247.78,460.50 249.23,441.57 250.68,438.48 252.14,437.64 253.59,438.38 255.04,441.35 256.49,460.50 257.94,441.33 259.40,438.23 260.85,437.39 262.30,438.13 263.75,441.10 265.21,460.50 266.66,441.08 268.11,437.99 269.56,437.14 271.02,437.88 272.47,440.85 273.92,460.50 275.38,440.83 276.83,437.74 278.28,436.89 279.73,437.63 281.19,440.60 282.64,460.50 284.09,440.58 285.54,437.49 287.00,436.64 288.45,437.38 289.90,440.35 291.35,460.50 292.81,440.34 294.26,437.24 295.71,436.40 297.16,437.14 298.62,440.10 300.07,460.50 301.52,440.09 302.97,436.99 304.42,436.15 305.88,436.89 307.33,439.85 308.78,460.50 310.24,439.84 311.69,436.75 313.14,435.90 314.59,436.64 316.05,439.60 317.50,460.50 318.95,439.59 320.40,436.50 321.86,435.65 323.31,436.39 324.76,439.35 326.21,460.50 327.67,439.35 329.12,436.25 330.57,435.40 332.02,436.14 333.47,439.10 334.93,460.50 336.38,439.10 337.83,436.01 339.28,435.15 340.74,435.85 342.19,438.86 343.64,452.16 345.09,438.88 346.55,440.93 348.00,411.00 349.45,440.93 350.91,438.88 352.36,452.16 353.81,438.86 355.26,435.85 356.72,435.15 358.17,436.01 359.62,439.10 361.07,460.50 362.53,439.10 363.98,436.14 365.43,435.40 366.88,436.25 368.34,439.35 369.79,460.50 371.24,439.35 372.69,436.39 374.15,435.65 375.60,436.50 377.05,439.59 378.50,460.50 379.96,439.60 381.41,436.64 382.86,435.90 384.31,436.75 385.76,439.84 387.22,460.50 388.67,439.85 390.12,436.89 391.57,436.15 393.03,436.99 394.48,440.09 395.93,460.50 397.38,440.10 398.84,437.14 400.29,436.40 401.74,437.24 403.19,440.34 404.65,460.50 406.10,440.35 407.55,437.38 409.00,436.64 410.46,437.49 411.91,440.58 413.36,460.50 414.81,440.60 416.27,437.63 417.72,436.89 419.17,437.74 420.62,440.83 422.08,460.50 423.53,440.85 424.98,437.88 426.44,437.14 427.89,437.99 429.34,441.08 430.79,460.50 432.25,441.10 433.70,438.13 435.15,437.39 436.60,438.23 438.06,441.33 439.51,460.50 440.96,441.35 442.41,438.38 443.87,437.64 445.32,438.48 446.77,441.57 448.22,460.50 449.68,441.59 451.13,438.63 452.58,437.88 454.03,438.73 455.49,441.82 456.94,460.50 458.39,441.84 459.84,438.88 461.29,438.13 462.75,438.98 464.20,442.07 465.65,460.50 467.10,442.09 468.56,439.12 470.01,438.38 471.46,439.23 472.91,442.32 474.37,460.50 475.82,442.34 477.27,439.37 478.72,438.63 480.18,439.47 481.63,442.56 483.08,460.50 484.53,442.59 485.99,439.62 487.44,438.88 488.89,439.72 490.34,442.81 491.80,460.50 493.25,442.84 494.70,439.87 496.16,439.13 497.61,439.97 499.06,443.06 500.51,460.50 501.97,443.09 503.42,440.12 504.87,439.37 506.32,440.22 507.78,443.30 509.23,460.50 510.68,443.34 512.13,440.37 513.59,439.62 515.04,440.47 516.49,443.55 517.94,460.50 519.39,443.59 520.85,440.62 522.30,439.87 523.75,440.71 525.21,443.80 526.66,460.50 528.11,443.84 529.56,440.86 531.01,440.12 532.47,440.96 533.92,444.05 535.37,460.50 536.83,444.09 538.28,441.11 539.73,440.37 541.18,441.21 542.63,444.29 544.09,460.50 545.54,444.34 546.99,441.36 548.44,440.62 549.90,441.46 551.35,444.54 552.80,460.50 554.25,444.59 555.71,441.61 557.16,440.86 558.61,441.71 560.07,444.79 561.52,460.50 562.97,444.83 564.42,441.86 565.88,441.11 567.33,441.95 568.78,445.04 570.23,460.50 571.69,445.08 573.14,442.11 574.59,441.36 576.04,442.20 577.50,445.28 578.95,460.50 580.40,445.33 581.85,442.36 583.31,441.61 584.76,442.45 586.21,445.53 587.66,460.50 589.12,445.58 590.57,442.60 592.02,441.86 593.47,442.70 594.93,445.78 596.38,460.50 597.83,445.83 599.28,442.85 600.74,442.11 602.19,442.94 603.64,446.03 605.09,460.50 606.54,446.08 608.00,443.10 609.45,442.35 610.90,443.19 612.36,446.27 613.81,460.50 615.26,446.33 616.71,443.35 618.16,442.60 619.62,443.44 621.07,446.52 622.52,460.50 623.98,446.58 625.43,443.60 626.88,442.85 628.33,443.69 629.78,446.77 631.24,460.50 632.69,446.83 634.14,443.85 635.60,443.10 637.05,443.94 638.50,447.01 638.50,460.50" fill="#f3f9fd" stroke="none" stroke-width="1"/>
<path d="M57.5 460.5V447.0M59.0 460.5V443.9M60.4 460.5V443.1M61.9 460.5V443.8M63.3 460.5V446.8M66.2 460.5V446.8M67.7 460.5V443.7M69.1 460.5V442.9M70.6 460.5V443.6M72.0 460.5V446.6M74.9 460.5V446.5M76.4 460.5V443.4M77.8 460.5V442.6M79.3 460.5V443.3M80.7 460.5V446.3M83.6 460.5V446.3M85.1 460.5V443.2M86.5 460.5V442.4M88.0 460.5V443.1M89.5 460.5V446.1M92.4 460.5V446.0M93.8 460.5V442.9M95.3 460.5V442.1M96.7 460.5V442.9M98.2 460.5V445.8M101.1 460.5V445.8M102.5 460.5V442.7M104.0 460.5V441.9M105.4 460.5V442.6M106.9 460.5V445.6M109.8 460.5V445.5M111.2 460.5V442.4M112.7 460.5V441.6M114.1 460.5V442.4M115.6 460.5V445.3M118.5 460.5V445.3M120.0 460.5V442.2M121.4 460.5V441.4M122.9 460.5V442.1M124.3 460.5V445.1M127.2 460.5V445.0M128.7 460.5V442.0M130.1 460.5V441.1M131.6 460.5V441.9M133.0 460.5V444.8M135.9 460.5V444.8M137.4 460.5V441.7M138.8 460.5V440.9M140.3 460.5V441.6M141.7 460.5V444.6M144.6 460.5V444.5M146.1 460.5V441.5M147.6 460.5V440.6M149.0 460.5V441.4M150.5 460.5V444.3M153.4 460.5V444.3M154.8 460.5V441.2M156.3 460.5V440.4M157.7 460.5V441.1M159.2 460.5V444.1M162.1 460.5V444.0M163.5 460.5V441.0M165.0 460.5V440.1M166.4 460.5V440.9M167.9 460.5V443.8M170.8 460.5V443.8M172.2 460.5V440.7M173.7 460.5V439.9M175.2 460.5V440.6M176.6 460.5V443.6M179.5 460.5V443.6M181.0 460.5V440.5M182.4 460.5V439.6M183.9 460.5V440.4M185.3 460.5V443.3M188.2 460.5V443.3M189.7 460.5V440.2M191.1 460.5V439.4M192.6 460.5V440.1M194.0 460.5V443.1M196.9 460.5V443.1M198.4 460.5V440.0M199.8 460.5V439.1M201.3 460.5V439.9M202.8 460.5V442.8M205.7 460.5V442.8M207.1 460.5V439.7M208.6 460.5V438.9M210.0 460.5V439.6M211.5 460.5V442.6M214.4 460.5V442.6M215.8 460.5V439.5M217.3 460.5V438.6M218.7 460.5V439.4M220.2 460.5V442.3M223.1 460.5V442.3M224.5 460.5V439.2M226.0 460.5V438.4M227.4 460.5V439.1M228.9 460.5V442.1M231.8 460.5V442.1M233.3 460.5V439.0M234.7 460.5V438.1M236.2 460.5V438.9M237.6 460.5V441.8M240.5 460.5V441.8M242.0 460.5V438.7M243.4 460.5V437.9M244.9 460.5V438.6M246.3 460.5V441.6M249.2 460.5V441.6M250.7 460.5V438.5M252.1 460.5V437.6M253.6 460.5V438.4M255.0 460.5V441.3M257.9 460.5V441.3M259.4 460.5V438.2M260.9 460.5V437.4M262.3 460.5V438.1M263.8 460.5V441.1M266.7 460.5V441.1M268.1 460.5V438.0M269.6 460.5V437.1M271.0 460.5V437.9M272.5 460.5V440.8M275.4 460.5V440.8M276.8 460.5V437.7M278.3 460.5V436.9M279.7 460.5V437.6M281.2 460.5V440.6M284.1 460.5V440.6M285.5 460.5V437.5M287.0 460.5V436.6M288.4 460.5V437.4M289.9 460.5V440.3M292.8 460.5V440.3M294.3 460.5V437.2M295.7 460.5V436.4M297.2 460.5V437.1M298.6 460.5V440.1M301.5 460.5V440.1M303.0 460.5V437.0M304.4 460.5V436.1M305.9 460.5V436.9M307.3 460.5V439.9M310.2 460.5V439.8M311.7 460.5V436.7M313.1 460.5V435.9M314.6 460.5V436.6M316.0 460.5V439.6M318.9 460.5V439.6M320.4 460.5V436.5M321.9 460.5V435.7M323.3 460.5V436.4M324.8 460.5V439.4M327.7 460.5V439.3M329.1 460.5V436.3M330.6 460.5V435.4M332.0 460.5V436.1M333.5 460.5V439.1M336.4 460.5V439.1M337.8 460.5V436.0M339.3 460.5V435.2M340.7 460.5V435.9M342.2 460.5V438.9M343.6 460.5V452.2M345.1 460.5V438.9M346.5 460.5V440.9M348.0 460.5V411.0M349.5 460.5V440.9M350.9 460.5V438.9M352.4 460.5V452.2M353.8 460.5V438.9M355.3 460.5V435.9M356.7 460.5V435.2M358.2 460.5V436.0M359.6 460.5V439.1M362.5 460.5V439.1M364.0 460.5V436.1M365.4 460.5V435.4M366.9 460.5V436.3M368.3 460.5V439.3M371.2 460.5V439.4M372.7 460.5V436.4M374.1 460.5V435.7M375.6 460.5V436.5M377.1 460.5V439.6M380.0 460.5V439.6M381.4 460.5V436.6M382.9 460.5V435.9M384.3 460.5V436.7M385.8 460.5V439.8M388.7 460.5V439.9M390.1 460.5V436.9M391.6 460.5V436.1M393.0 460.5V437.0M394.5 460.5V440.1M397.4 460.5V440.1M398.8 460.5V437.1M400.3 460.5V436.4M401.7 460.5V437.2M403.2 460.5V440.3M406.1 460.5V440.3M407.6 460.5V437.4M409.0 460.5V436.6M410.5 460.5V437.5M411.9 460.5V440.6M414.8 460.5V440.6M416.3 460.5V437.6M417.7 460.5V436.9M419.2 460.5V437.7M420.6 460.5V440.8M423.5 460.5V440.8M425.0 460.5V437.9M426.4 460.5V437.1M427.9 460.5V438.0M429.3 460.5V441.1M432.2 460.5V441.1M433.7 460.5V438.1M435.2 460.5V437.4M436.6 460.5V438.2M438.1 460.5V441.3M441.0 460.5V441.3M442.4 460.5V438.4M443.9 460.5V437.6M445.3 460.5V438.5M446.8 460.5V441.6M449.7 460.5V441.6M451.1 460.5V438.6M452.6 460.5V437.9M454.0 460.5V438.7M455.5 460.5V441.8M458.4 460.5V441.8M459.8 460.5V438.9M461.3 460.5V438.1M462.7 460.5V439.0M464.2 460.5V442.1M467.1 460.5V442.1M468.6 460.5V439.1M470.0 460.5V438.4M471.5 460.5V439.2M472.9 460.5V442.3M475.8 460.5V442.3M477.3 460.5V439.4M478.7 460.5V438.6M480.2 460.5V439.5M481.6 460.5V442.6M484.5 460.5V442.6M486.0 460.5V439.6M487.4 460.5V438.9M488.9 460.5V439.7M490.3 460.5V442.8M493.2 460.5V442.8M494.7 460.5V439.9M496.2 460.5V439.1M497.6 460.5V440.0M499.1 460.5V443.1M502.0 460.5V443.1M503.4 460.5V440.1M504.9 460.5V439.4M506.3 460.5V440.2M507.8 460.5V443.3M510.7 460.5V443.3M512.1 460.5V440.4M513.6 460.5V439.6M515.0 460.5V440.5M516.5 460.5V443.6M519.4 460.5V443.6M520.8 460.5V440.6M522.3 460.5V439.9M523.8 460.5V440.7M525.2 460.5V443.8M528.1 460.5V443.8M529.6 460.5V440.9M531.0 460.5V440.1M532.5 460.5V441.0M533.9 460.5V444.0M536.8 460.5V444.1M538.3 460.5V441.1M539.7 460.5V440.4M541.2 460.5V441.2M542.6 460.5V444.3M545.5 460.5V444.3M547.0 460.5V441.4M548.4 460.5V440.6M549.9 460.5V441.5M551.3 460.5V444.5M554.3 460.5V444.6M555.7 460.5V441.6M557.2 460.5V440.9M558.6 460.5V441.7M560.1 460.5V444.8M563.0 460.5V444.8M564.4 460.5V441.9M565.9 460.5V441.1M567.3 460.5V442.0M568.8 460.5V445.0M571.7 460.5V445.1M573.1 460.5V442.1M574.6 460.5V441.4M576.0 460.5V442.2M577.5 460.5V445.3M580.4 460.5V445.3M581.9 460.5V442.4M583.3 460.5V441.6M584.8 460.5V442.4M586.2 460.5V445.5M589.1 460.5V445.6M590.6 460.5V442.6M592.0 460.5V441.9M593.5 460.5V442.7M594.9 460.5V445.8M597.8 460.5V445.8M599.3 460.5V442.9M600.7 460.5V442.1M602.2 460.5V442.9M603.6 460.5V446.0M606.5 460.5V446.1M608.0 460.5V443.1M609.4 460.5V442.4M610.9 460.5V443.2M612.4 460.5V446.3M615.3 460.5V446.3M616.7 460.5V443.3M618.2 460.5V442.6M619.6 460.5V443.4M621.1 460.5V446.5M624.0 460.5V446.6M625.4 460.5V443.6M626.9 460.5V442.9M628.3 460.5V443.7M629.8 460.5V446.8M632.7 460.5V446.8M634.1 460.5V443.8M635.6 460.5V443.1M637.0 460.5V443.9M638.5 460.5V447.0" stroke="#c2e1f5" stroke-width="0.72" fill="none"/>
<polyline points="57.50,447.01 58.95,443.94 60.41,443.10 61.86,443.85 63.31,446.83 64.76,460.50 66.22,446.77 67.67,443.69 69.12,442.85 70.57,443.60 72.03,446.58 73.48,460.50 74.93,446.52 76.38,443.44 77.84,442.60 79.29,443.35 80.74,446.33 82.19,460.50 83.64,446.27 85.10,443.19 86.55,442.35 88.00,443.10 89.45,446.08 90.91,460.50 92.36,446.03 93.81,442.94 95.27,442.11 96.72,442.85 98.17,445.83 99.62,460.50 101.07,445.78 102.53,442.70 103.98,441.86 105.43,442.60 106.89,445.58 108.34,460.50 109.79,445.53 111.24,442.45 112.69,441.61 114.15,442.36 115.60,445.33 117.05,460.50 118.50,445.28 119.96,442.20 121.41,441.36 122.86,442.11 124.31,445.08 125.77,460.50 127.22,445.04 128.67,441.95 130.12,441.11 131.58,441.86 133.03,444.83 134.48,460.50 135.94,444.79 137.39,441.71 138.84,440.86 140.29,441.61 141.75,444.59 143.20,460.50 144.65,444.54 146.10,441.46 147.56,440.62 149.01,441.36 150.46,444.34 151.91,460.50 153.37,444.29 154.82,441.21 156.27,440.37 157.72,441.11 159.18,444.09 160.63,460.50 162.08,444.05 163.53,440.96 164.99,440.12 166.44,440.86 167.89,443.84 169.34,460.50 170.80,443.80 172.25,440.71 173.70,439.87 175.15,440.62 176.60,443.59 178.06,460.50 179.51,443.55 180.96,440.47 182.41,439.62 183.87,440.37 185.32,443.34 186.77,460.50 188.22,443.30 189.68,440.22 191.13,439.37 192.58,440.12 194.03,443.09 195.49,460.50 196.94,443.06 198.39,439.97 199.84,439.13 201.30,439.87 202.75,442.84 204.20,460.50 205.66,442.81 207.11,439.72 208.56,438.88 210.01,439.62 211.47,442.59 212.92,460.50 214.37,442.56 215.82,439.47 217.28,438.63 218.73,439.37 220.18,442.34 221.63,460.50 223.08,442.32 224.54,439.23 225.99,438.38 227.44,439.12 228.89,442.09 230.35,460.50 231.80,442.07 233.25,438.98 234.70,438.13 236.16,438.88 237.61,441.84 239.06,460.50 240.52,441.82 241.97,438.73 243.42,437.88 244.87,438.63 246.33,441.59 247.78,460.50 249.23,441.57 250.68,438.48 252.14,437.64 253.59,438.38 255.04,441.35 256.49,460.50 257.94,441.33 259.40,438.23 260.85,437.39 262.30,438.13 263.75,441.10 265.21,460.50 266.66,441.08 268.11,437.99 269.56,437.14 271.02,437.88 272.47,440.85 273.92,460.50 275.38,440.83 276.83,437.74 278.28,436.89 279.73,437.63 281.19,440.60 282.64,460.50 284.09,440.58 285.54,437.49 287.00,436.64 288.45,437.38 289.90,440.35 291.35,460.50 292.81,440.34 294.26,437.24 295.71,436.40 297.16,437.14 298.62,440.10 300.07,460.50 301.52,440.09 302.97,436.99 304.42,436.15 305.88,436.89 307.33,439.85 308.78,460.50 310.24,439.84 311.69,436.75 313.14,435.90 314.59,436.64 316.05,439.60 317.50,460.50 318.95,439.59 320.40,436.50 321.86,435.65 323.31,436.39 324.76,439.35 326.21,460.50 327.67,439.35 329.12,436.25 330.57,435.40 332.02,436.14 333.47,439.10 334.93,460.50 336.38,439.10 337.83,436.01 339.28,435.15 340.74,435.85 342.19,438.86 343.64,452.16 345.09,438.88 346.55,440.93 348.00,411.00 349.45,440.93 350.91,438.88 352.36,452.16 353.81,438.86 355.26,435.85 356.72,435.15 358.17,436.01 359.62,439.10 361.07,460.50 362.53,439.10 363.98,436.14 365.43,435.40 366.88,436.25 368.34,439.35 369.79,460.50 371.24,439.35 372.69,436.39 374.15,435.65 375.60,436.50 377.05,439.59 378.50,460.50 379.96,439.60 381.41,436.64 382.86,435.90 384.31,436.75 385.76,439.84 387.22,460.50 388.67,439.85 390.12,436.89 391.57,436.15 393.03,436.99 394.48,440.09 395.93,460.50 397.38,440.10 398.84,437.14 400.29,436.40 401.74,437.24 403.19,440.34 404.65,460.50 406.10,440.35 407.55,437.38 409.00,436.64 410.46,437.49 411.91,440.58 413.36,460.50 414.81,440.60 416.27,437.63 417.72,436.89 419.17,437.74 420.62,440.83 422.08,460.50 423.53,440.85 424.98,437.88 426.44,437.14 427.89,437.99 429.34,441.08 430.79,460.50 432.25,441.10 433.70,438.13 435.15,437.39 436.60,438.23 438.06,441.33 439.51,460.50 440.96,441.35 442.41,438.38 443.87,437.64 445.32,438.48 446.77,441.57 448.22,460.50 449.68,441.59 451.13,438.63 452.58,437.88 454.03,438.73 455.49,441.82 456.94,460.50 458.39,441.84 459.84,438.88 461.29,438.13 462.75,438.98 464.20,442.07 465.65,460.50 467.10,442.09 468.56,439.12 470.01,438.38 471.46,439.23 472.91,442.32 474.37,460.50 475.82,442.34 477.27,439.37 478.72,438.63 480.18,439.47 481.63,442.56 483.08,460.50 484.53,442.59 485.99,439.62 487.44,438.88 488.89,439.72 490.34,442.81 491.80,460.50 493.25,442.84 494.70,439.87 496.16,439.13 497.61,439.97 499.06,443.06 500.51,460.50 501.97,443.09 503.42,440.12 504.87,439.37 506.32,440.22 507.78,443.30 509.23,460.50 510.68,443.34 512.13,440.37 513.59,439.62 515.04,440.47 516.49,443.55 517.94,460.50 519.39,443.59 520.85,440.62 522.30,439.87 523.75,440.71 525.21,443.80 526.66,460.50 528.11,443.84 529.56,440.86 531.01,440.12 532.47,440.96 533.92,444.05 535.37,460.50 536.83,444.09 538.28,441.11 539.73,440.37 541.18,441.21 542.63,444.29 544.09,460.50 545.54,444.34 546.99,441.36 548.44,440.62 549.90,441.46 551.35,444.54 552.80,460.50 554.25,444.59 555.71,441.61 557.16,440.86 558.61,441.71 560.07,444.79 561.52,460.50 562.97,444.83 564.42,441.86 565.88,441.11 567.33,441.95 568.78,445.04 570.23,460.50 571.69,445.08 573.14,442.11 574.59,441.36 576.04,442.20 577.50,445.28 578.95,460.50 580.40,445.33 581.85,442.36 583.31,441.61 584.76,442.45 586.21,445.53 587.66,460.50 589.12,445.58 590.57,442.60 592.02,441.86 593.47,442.70 594.93,445.78 596.38,460.50 597.83,445.83 599.28,442.85 600.74,442.11 602.19,442.94 603.64,446.03 605.09,460.50 606.54,446.08 608.00,443.10 609.45,442.35 610.90,443.19 612.36,446.27 613.81,460.50 615.26,446.33 616.71,443.35 618.16,442.60 619.62,443.44 621.07,446.52 622.52,460.50 623.98,446.58 625.43,443.60 626.88,442.85 628.33,443.69 629.78,446.77 631.24,460.50 632.69,446.83 634.14,443.85 635.60,443.10 637.05,443.94 638.50,447.01" fill="none" stroke="#744793" stroke-width="0.85" stroke-linejoin="round"/></g>
<rect x="57.50" y="410.50" width="581.00" height="50.00" fill="none" stroke="#9a9a9a" stroke-width="1"/>
<line x1="57.50" y1="410.50" x2="57.50" y2="460.50" stroke="#808080" stroke-width="1"/>
<line x1="53.50" y1="460.50" x2="57.50" y2="460.50" stroke="#6a6a6a" stroke-width="0.9"/>
<line x1="53.50" y1="447.80" x2="57.50" y2="447.80" stroke="#6a6a6a" stroke-width="0.9"/>
<line x1="53.50" y1="435.10" x2="57.50" y2="435.10" stroke="#6a6a6a" stroke-width="0.9"/>
<line x1="53.50" y1="422.40" x2="57.50" y2="422.40" stroke="#6a6a6a" stroke-width="0.9"/>
<clipPath id="cb4"><rect x="57.5" y="466.0" width="581.0" height="50.299999999999955"/></clipPath>
<g clip-path="url(#cb4)"><polygon points="57.50,516.30 57.50,494.93 58.95,495.95 60.41,500.00 61.86,516.30 63.31,505.45 64.76,512.34 66.22,500.33 67.67,498.17 69.12,500.23 70.57,507.22 72.03,497.22 73.48,495.12 74.93,495.69 76.38,499.03 77.84,509.91 79.29,509.06 80.74,506.31 82.19,498.69 83.64,496.53 85.10,497.57 86.55,506.27 88.00,499.00 89.45,495.71 90.91,495.84 92.36,498.84 93.81,508.38 95.27,510.42 96.72,504.95 98.17,497.77 99.62,495.40 101.07,495.78 102.53,500.17 103.98,502.47 105.43,496.77 106.89,496.40 108.34,499.37 109.79,511.99 111.24,507.17 112.69,506.09 114.15,497.49 115.60,494.70 117.05,494.56 118.50,497.36 119.96,516.30 121.41,498.44 122.86,497.41 124.31,500.72 125.77,510.83 127.22,503.15 128.67,514.85 130.12,497.90 131.58,494.40 133.03,493.78 134.48,495.69 135.94,503.21 137.39,501.00 138.84,498.88 140.29,503.29 141.75,503.70 143.20,499.94 144.65,505.27 146.10,499.26 147.56,494.53 149.01,493.38 150.46,494.67 151.91,499.65 153.37,505.30 154.82,500.85 156.27,508.92 157.72,500.30 159.18,497.51 160.63,500.00 162.08,502.63 163.53,495.14 164.99,493.35 166.44,494.15 167.89,498.02 169.34,516.30 170.80,503.14 172.25,512.31 173.70,498.24 175.15,495.70 176.60,496.98 178.06,514.43 179.51,496.38 180.96,493.68 182.41,494.03 183.87,497.34 185.32,510.44 186.77,504.85 188.22,506.73 189.68,496.99 191.13,494.39 192.58,494.93 194.03,500.69 195.49,498.67 196.94,494.40 198.39,494.29 199.84,497.36 201.30,510.53 202.75,504.38 204.20,506.59 205.66,496.41 207.11,493.51 208.56,493.50 210.01,496.96 211.47,503.72 212.92,495.60 214.37,494.93 215.82,498.05 217.28,516.30 218.73,501.96 220.18,513.44 221.63,496.47 223.08,493.02 224.54,492.53 225.99,494.85 227.44,506.98 228.89,497.40 230.35,495.96 231.80,499.51 233.25,504.79 234.70,499.19 236.16,505.49 237.61,497.34 239.06,492.92 240.52,491.94 241.97,493.53 243.42,499.90 244.87,500.08 246.33,497.35 247.78,502.10 249.23,500.53 250.68,496.80 252.14,499.71 253.59,499.59 255.04,493.26 256.49,491.71 257.94,492.74 259.40,497.34 260.85,504.40 262.30,499.01 263.75,506.97 265.21,497.99 266.66,494.89 268.11,496.40 269.56,506.87 271.02,494.11 272.47,491.81 273.92,492.38 275.38,496.11 276.83,514.19 278.28,500.55 279.73,516.30 281.19,496.39 282.64,493.44 284.09,494.13 285.54,502.03 287.00,495.73 288.45,492.26 289.90,492.38 291.35,495.67 292.81,513.83 294.26,501.11 295.71,510.83 297.16,495.50 298.62,492.39 300.07,492.51 301.52,496.81 302.97,498.78 304.42,493.11 305.88,492.73 307.33,495.86 308.78,516.30 310.24,500.10 311.69,516.30 313.14,495.25 314.59,491.73 316.05,491.36 317.50,494.16 318.95,508.19 320.40,494.43 321.86,493.42 323.31,496.65 324.76,506.21 326.21,498.10 327.67,504.74 329.12,495.72 330.57,491.44 332.02,490.59 333.47,492.50 334.93,501.25 336.38,496.33 337.83,494.37 339.28,498.14 340.74,500.36 342.19,495.96 343.64,502.07 345.09,497.32 346.55,498.44 348.00,466.50 349.45,498.44 350.91,497.32 352.36,502.07 353.81,495.96 355.26,500.36 356.72,498.14 358.17,494.37 359.62,496.33 361.07,501.25 362.53,492.50 363.98,490.59 365.43,491.44 366.88,495.72 368.34,504.74 369.79,498.10 371.24,506.21 372.69,496.65 374.15,493.42 375.60,494.43 377.05,508.19 378.50,494.16 379.96,491.36 381.41,491.73 382.86,495.25 384.31,516.30 385.76,500.10 387.22,516.30 388.67,495.86 390.12,492.73 391.57,493.11 393.03,498.78 394.48,496.81 395.93,492.51 397.38,492.39 398.84,495.50 400.29,510.83 401.74,501.11 403.19,513.83 404.65,495.67 406.10,492.38 407.55,492.26 409.00,495.73 410.46,502.03 411.91,494.13 413.36,493.44 414.81,496.39 416.27,516.30 417.72,500.55 419.17,514.19 420.62,496.11 422.08,492.38 423.53,491.81 424.98,494.11 426.44,506.87 427.89,496.40 429.34,494.89 430.79,497.99 432.25,506.97 433.70,499.01 435.15,504.40 436.60,497.34 438.06,492.74 439.51,491.71 440.96,493.26 442.41,499.59 443.87,499.71 445.32,496.80 446.77,500.53 448.22,502.10 449.68,497.35 451.13,500.08 452.58,499.90 454.03,493.53 455.49,491.94 456.94,492.92 458.39,497.34 459.84,505.49 461.29,499.19 462.75,504.79 464.20,499.51 465.65,495.96 467.10,497.40 468.56,506.98 470.01,494.85 471.46,492.53 472.91,493.02 474.37,496.47 475.82,513.44 477.27,501.96 478.72,516.30 480.18,498.05 481.63,494.93 483.08,495.60 484.53,503.72 485.99,496.96 487.44,493.50 488.89,493.51 490.34,496.41 491.80,506.59 493.25,504.38 494.70,510.53 496.16,497.36 497.61,494.29 499.06,494.40 500.51,498.67 501.97,500.69 503.42,494.93 504.87,494.39 506.32,496.99 507.78,506.73 509.23,504.85 510.68,510.44 512.13,497.34 513.59,494.03 515.04,493.68 516.49,496.38 517.94,514.43 519.39,496.98 520.85,495.70 522.30,498.24 523.75,512.31 525.21,503.14 526.66,516.30 528.11,498.02 529.56,494.15 531.01,493.35 532.47,495.14 533.92,502.63 535.37,500.00 536.83,497.51 538.28,500.30 539.73,508.92 541.18,500.85 542.63,505.30 544.09,499.65 545.54,494.67 546.99,493.38 548.44,494.53 549.90,499.26 551.35,505.27 552.80,499.94 554.25,503.70 555.71,503.29 557.16,498.88 558.61,501.00 560.07,503.21 561.52,495.69 562.97,493.78 564.42,494.40 565.88,497.90 567.33,514.85 568.78,503.15 570.23,510.83 571.69,500.72 573.14,497.41 574.59,498.44 576.04,516.30 577.50,497.36 578.95,494.56 580.40,494.70 581.85,497.49 583.31,506.09 584.76,507.17 586.21,511.99 587.66,499.37 589.12,496.40 590.57,496.77 592.02,502.47 593.47,500.17 594.93,495.78 596.38,495.40 597.83,497.77 599.28,504.95 600.74,510.42 602.19,508.38 603.64,498.84 605.09,495.84 606.54,495.71 608.00,499.00 609.45,506.27 610.90,497.57 612.36,496.53 613.81,498.69 615.26,506.31 616.71,509.06 618.16,509.91 619.62,499.03 621.07,495.69 622.52,495.12 623.98,497.22 625.43,507.22 626.88,500.23 628.33,498.17 629.78,500.33 631.24,512.34 632.69,505.45 634.14,516.30 635.60,500.00 637.05,495.95 638.50,494.93 638.50,516.30" fill="#f3f9fd" stroke="none" stroke-width="1"/>
<path d="M57.5 516.3V494.9M59.0 516.3V495.9M60.4 516.3V500.0M63.3 516.3V505.5M64.8 516.3V512.3M66.2 516.3V500.3M67.7 516.3V498.2M69.1 516.3V500.2M70.6 516.3V507.2M72.0 516.3V497.2M73.5 516.3V495.1M74.9 516.3V495.7M76.4 516.3V499.0M77.8 516.3V509.9M79.3 516.3V509.1M80.7 516.3V506.3M82.2 516.3V498.7M83.6 516.3V496.5M85.1 516.3V497.6M86.5 516.3V506.3M88.0 516.3V499.0M89.5 516.3V495.7M90.9 516.3V495.8M92.4 516.3V498.8M93.8 516.3V508.4M95.3 516.3V510.4M96.7 516.3V505.0M98.2 516.3V497.8M99.6 516.3V495.4M101.1 516.3V495.8M102.5 516.3V500.2M104.0 516.3V502.5M105.4 516.3V496.8M106.9 516.3V496.4M108.3 516.3V499.4M109.8 516.3V512.0M111.2 516.3V507.2M112.7 516.3V506.1M114.1 516.3V497.5M115.6 516.3V494.7M117.1 516.3V494.6M118.5 516.3V497.4M121.4 516.3V498.4M122.9 516.3V497.4M124.3 516.3V500.7M125.8 516.3V510.8M127.2 516.3V503.1M128.7 516.3V514.9M130.1 516.3V497.9M131.6 516.3V494.4M133.0 516.3V493.8M134.5 516.3V495.7M135.9 516.3V503.2M137.4 516.3V501.0M138.8 516.3V498.9M140.3 516.3V503.3M141.7 516.3V503.7M143.2 516.3V499.9M144.6 516.3V505.3M146.1 516.3V499.3M147.6 516.3V494.5M149.0 516.3V493.4M150.5 516.3V494.7M151.9 516.3V499.7M153.4 516.3V505.3M154.8 516.3V500.9M156.3 516.3V508.9M157.7 516.3V500.3M159.2 516.3V497.5M160.6 516.3V500.0M162.1 516.3V502.6M163.5 516.3V495.1M165.0 516.3V493.3M166.4 516.3V494.1M167.9 516.3V498.0M170.8 516.3V503.1M172.2 516.3V512.3M173.7 516.3V498.2M175.2 516.3V495.7M176.6 516.3V497.0M178.1 516.3V514.4M179.5 516.3V496.4M181.0 516.3V493.7M182.4 516.3V494.0M183.9 516.3V497.3M185.3 516.3V510.4M186.8 516.3V504.8M188.2 516.3V506.7M189.7 516.3V497.0M191.1 516.3V494.4M192.6 516.3V494.9M194.0 516.3V500.7M195.5 516.3V498.7M196.9 516.3V494.4M198.4 516.3V494.3M199.8 516.3V497.4M201.3 516.3V510.5M202.8 516.3V504.4M204.2 516.3V506.6M205.7 516.3V496.4M207.1 516.3V493.5M208.6 516.3V493.5M210.0 516.3V497.0M211.5 516.3V503.7M212.9 516.3V495.6M214.4 516.3V494.9M215.8 516.3V498.1M218.7 516.3V502.0M220.2 516.3V513.4M221.6 516.3V496.5M223.1 516.3V493.0M224.5 516.3V492.5M226.0 516.3V494.8M227.4 516.3V507.0M228.9 516.3V497.4M230.3 516.3V496.0M231.8 516.3V499.5M233.3 516.3V504.8M234.7 516.3V499.2M236.2 516.3V505.5M237.6 516.3V497.3M239.1 516.3V492.9M240.5 516.3V491.9M242.0 516.3V493.5M243.4 516.3V499.9M244.9 516.3V500.1M246.3 516.3V497.4M247.8 516.3V502.1M249.2 516.3V500.5M250.7 516.3V496.8M252.1 516.3V499.7M253.6 516.3V499.6M255.0 516.3V493.3M256.5 516.3V491.7M257.9 516.3V492.7M259.4 516.3V497.3M260.9 516.3V504.4M262.3 516.3V499.0M263.8 516.3V507.0M265.2 516.3V498.0M266.7 516.3V494.9M268.1 516.3V496.4M269.6 516.3V506.9M271.0 516.3V494.1M272.5 516.3V491.8M273.9 516.3V492.4M275.4 516.3V496.1M276.8 516.3V514.2M278.3 516.3V500.5M281.2 516.3V496.4M282.6 516.3V493.4M284.1 516.3V494.1M285.5 516.3V502.0M287.0 516.3V495.7M288.4 516.3V492.3M289.9 516.3V492.4M291.4 516.3V495.7M292.8 516.3V513.8M294.3 516.3V501.1M295.7 516.3V510.8M297.2 516.3V495.5M298.6 516.3V492.4M300.1 516.3V492.5M301.5 516.3V496.8M303.0 516.3V498.8M304.4 516.3V493.1M305.9 516.3V492.7M307.3 516.3V495.9M310.2 516.3V500.1M313.1 516.3V495.3M314.6 516.3V491.7M316.0 516.3V491.4M317.5 516.3V494.2M318.9 516.3V508.2M320.4 516.3V494.4M321.9 516.3V493.4M323.3 516.3V496.7M324.8 516.3V506.2M326.2 516.3V498.1M327.7 516.3V504.7M329.1 516.3V495.7M330.6 516.3V491.4M332.0 516.3V490.6M333.5 516.3V492.5M334.9 516.3V501.2M336.4 516.3V496.3M337.8 516.3V494.4M339.3 516.3V498.1M340.7 516.3V500.4M342.2 516.3V496.0M343.6 516.3V502.1M345.1 516.3V497.3M346.5 516.3V498.4M348.0 516.3V466.5M349.5 516.3V498.4M350.9 516.3V497.3M352.4 516.3V502.1M353.8 516.3V496.0M355.3 516.3V500.4M356.7 516.3V498.1M358.2 516.3V494.4M359.6 516.3V496.3M361.1 516.3V501.2M362.5 516.3V492.5M364.0 516.3V490.6M365.4 516.3V491.4M366.9 516.3V495.7M368.3 516.3V504.7M369.8 516.3V498.1M371.2 516.3V506.2M372.7 516.3V496.7M374.1 516.3V493.4M375.6 516.3V494.4M377.1 516.3V508.2M378.5 516.3V494.2M380.0 516.3V491.4M381.4 516.3V491.7M382.9 516.3V495.3M385.8 516.3V500.1M388.7 516.3V495.9M390.1 516.3V492.7M391.6 516.3V493.1M393.0 516.3V498.8M394.5 516.3V496.8M395.9 516.3V492.5M397.4 516.3V492.4M398.8 516.3V495.5M400.3 516.3V510.8M401.7 516.3V501.1M403.2 516.3V513.8M404.6 516.3V495.7M406.1 516.3V492.4M407.6 516.3V492.3M409.0 516.3V495.7M410.5 516.3V502.0M411.9 516.3V494.1M413.4 516.3V493.4M414.8 516.3V496.4M417.7 516.3V500.5M419.2 516.3V514.2M420.6 516.3V496.1M422.1 516.3V492.4M423.5 516.3V491.8M425.0 516.3V494.1M426.4 516.3V506.9M427.9 516.3V496.4M429.3 516.3V494.9M430.8 516.3V498.0M432.2 516.3V507.0M433.7 516.3V499.0M435.2 516.3V504.4M436.6 516.3V497.3M438.1 516.3V492.7M439.5 516.3V491.7M441.0 516.3V493.3M442.4 516.3V499.6M443.9 516.3V499.7M445.3 516.3V496.8M446.8 516.3V500.5M448.2 516.3V502.1M449.7 516.3V497.4M451.1 516.3V500.1M452.6 516.3V499.9M454.0 516.3V493.5M455.5 516.3V491.9M456.9 516.3V492.9M458.4 516.3V497.3M459.8 516.3V505.5M461.3 516.3V499.2M462.7 516.3V504.8M464.2 516.3V499.5M465.7 516.3V496.0M467.1 516.3V497.4M468.6 516.3V507.0M470.0 516.3V494.8M471.5 516.3V492.5M472.9 516.3V493.0M474.4 516.3V496.5M475.8 516.3V513.4M477.3 516.3V502.0M480.2 516.3V498.1M481.6 516.3V494.9M483.1 516.3V495.6M484.5 516.3V503.7M486.0 516.3V497.0M487.4 516.3V493.5M488.9 516.3V493.5M490.3 516.3V496.4M491.8 516.3V506.6M493.2 516.3V504.4M494.7 516.3V510.5M496.2 516.3V497.4M497.6 516.3V494.3M499.1 516.3V494.4M500.5 516.3V498.7M502.0 516.3V500.7M503.4 516.3V494.9M504.9 516.3V494.4M506.3 516.3V497.0M507.8 516.3V506.7M509.2 516.3V504.8M510.7 516.3V510.4M512.1 516.3V497.3M513.6 516.3V494.0M515.0 516.3V493.7M516.5 516.3V496.4M517.9 516.3V514.4M519.4 516.3V497.0M520.8 516.3V495.7M522.3 516.3V498.2M523.8 516.3V512.3M525.2 516.3V503.1M528.1 516.3V498.0M529.6 516.3V494.1M531.0 516.3V493.3M532.5 516.3V495.1M533.9 516.3V502.6M535.4 516.3V500.0M536.8 516.3V497.5M538.3 516.3V500.3M539.7 516.3V508.9M541.2 516.3V500.9M542.6 516.3V505.3M544.1 516.3V499.7M545.5 516.3V494.7M547.0 516.3V493.4M548.4 516.3V494.5M549.9 516.3V499.3M551.3 516.3V505.3M552.8 516.3V499.9M554.3 516.3V503.7M555.7 516.3V503.3M557.2 516.3V498.9M558.6 516.3V501.0M560.1 516.3V503.2M561.5 516.3V495.7M563.0 516.3V493.8M564.4 516.3V494.4M565.9 516.3V497.9M567.3 516.3V514.9M568.8 516.3V503.1M570.2 516.3V510.8M571.7 516.3V500.7M573.1 516.3V497.4M574.6 516.3V498.4M577.5 516.3V497.4M578.9 516.3V494.6M580.4 516.3V494.7M581.9 516.3V497.5M583.3 516.3V506.1M584.8 516.3V507.2M586.2 516.3V512.0M587.7 516.3V499.4M589.1 516.3V496.4M590.6 516.3V496.8M592.0 516.3V502.5M593.5 516.3V500.2M594.9 516.3V495.8M596.4 516.3V495.4M597.8 516.3V497.8M599.3 516.3V505.0M600.7 516.3V510.4M602.2 516.3V508.4M603.6 516.3V498.8M605.1 516.3V495.8M606.5 516.3V495.7M608.0 516.3V499.0M609.4 516.3V506.3M610.9 516.3V497.6M612.4 516.3V496.5M613.8 516.3V498.7M615.3 516.3V506.3M616.7 516.3V509.1M618.2 516.3V509.9M619.6 516.3V499.0M621.1 516.3V495.7M622.5 516.3V495.1M624.0 516.3V497.2M625.4 516.3V507.2M626.9 516.3V500.2M628.3 516.3V498.2M629.8 516.3V500.3M631.2 516.3V512.3M632.7 516.3V505.5M635.6 516.3V500.0M637.0 516.3V495.9M638.5 516.3V494.9" stroke="#c2e1f5" stroke-width="0.72" fill="none"/>
<polyline points="57.50,494.93 58.95,495.95 60.41,500.00 61.86,516.30 63.31,505.45 64.76,512.34 66.22,500.33 67.67,498.17 69.12,500.23 70.57,507.22 72.03,497.22 73.48,495.12 74.93,495.69 76.38,499.03 77.84,509.91 79.29,509.06 80.74,506.31 82.19,498.69 83.64,496.53 85.10,497.57 86.55,506.27 88.00,499.00 89.45,495.71 90.91,495.84 92.36,498.84 93.81,508.38 95.27,510.42 96.72,504.95 98.17,497.77 99.62,495.40 101.07,495.78 102.53,500.17 103.98,502.47 105.43,496.77 106.89,496.40 108.34,499.37 109.79,511.99 111.24,507.17 112.69,506.09 114.15,497.49 115.60,494.70 117.05,494.56 118.50,497.36 119.96,516.30 121.41,498.44 122.86,497.41 124.31,500.72 125.77,510.83 127.22,503.15 128.67,514.85 130.12,497.90 131.58,494.40 133.03,493.78 134.48,495.69 135.94,503.21 137.39,501.00 138.84,498.88 140.29,503.29 141.75,503.70 143.20,499.94 144.65,505.27 146.10,499.26 147.56,494.53 149.01,493.38 150.46,494.67 151.91,499.65 153.37,505.30 154.82,500.85 156.27,508.92 157.72,500.30 159.18,497.51 160.63,500.00 162.08,502.63 163.53,495.14 164.99,493.35 166.44,494.15 167.89,498.02 169.34,516.30 170.80,503.14 172.25,512.31 173.70,498.24 175.15,495.70 176.60,496.98 178.06,514.43 179.51,496.38 180.96,493.68 182.41,494.03 183.87,497.34 185.32,510.44 186.77,504.85 188.22,506.73 189.68,496.99 191.13,494.39 192.58,494.93 194.03,500.69 195.49,498.67 196.94,494.40 198.39,494.29 199.84,497.36 201.30,510.53 202.75,504.38 204.20,506.59 205.66,496.41 207.11,493.51 208.56,493.50 210.01,496.96 211.47,503.72 212.92,495.60 214.37,494.93 215.82,498.05 217.28,516.30 218.73,501.96 220.18,513.44 221.63,496.47 223.08,493.02 224.54,492.53 225.99,494.85 227.44,506.98 228.89,497.40 230.35,495.96 231.80,499.51 233.25,504.79 234.70,499.19 236.16,505.49 237.61,497.34 239.06,492.92 240.52,491.94 241.97,493.53 243.42,499.90 244.87,500.08 246.33,497.35 247.78,502.10 249.23,500.53 250.68,496.80 252.14,499.71 253.59,499.59 255.04,493.26 256.49,491.71 257.94,492.74 259.40,497.34 260.85,504.40 262.30,499.01 263.75,506.97 265.21,497.99 266.66,494.89 268.11,496.40 269.56,506.87 271.02,494.11 272.47,491.81 273.92,492.38 275.38,496.11 276.83,514.19 278.28,500.55 279.73,516.30 281.19,496.39 282.64,493.44 284.09,494.13 285.54,502.03 287.00,495.73 288.45,492.26 289.90,492.38 291.35,495.67 292.81,513.83 294.26,501.11 295.71,510.83 297.16,495.50 298.62,492.39 300.07,492.51 301.52,496.81 302.97,498.78 304.42,493.11 305.88,492.73 307.33,495.86 308.78,516.30 310.24,500.10 311.69,516.30 313.14,495.25 314.59,491.73 316.05,491.36 317.50,494.16 318.95,508.19 320.40,494.43 321.86,493.42 323.31,496.65 324.76,506.21 326.21,498.10 327.67,504.74 329.12,495.72 330.57,491.44 332.02,490.59 333.47,492.50 334.93,501.25 336.38,496.33 337.83,494.37 339.28,498.14 340.74,500.36 342.19,495.96 343.64,502.07 345.09,497.32 346.55,498.44 348.00,466.50 349.45,498.44 350.91,497.32 352.36,502.07 353.81,495.96 355.26,500.36 356.72,498.14 358.17,494.37 359.62,496.33 361.07,501.25 362.53,492.50 363.98,490.59 365.43,491.44 366.88,495.72 368.34,504.74 369.79,498.10 371.24,506.21 372.69,496.65 374.15,493.42 375.60,494.43 377.05,508.19 378.50,494.16 379.96,491.36 381.41,491.73 382.86,495.25 384.31,516.30 385.76,500.10 387.22,516.30 388.67,495.86 390.12,492.73 391.57,493.11 393.03,498.78 394.48,496.81 395.93,492.51 397.38,492.39 398.84,495.50 400.29,510.83 401.74,501.11 403.19,513.83 404.65,495.67 406.10,492.38 407.55,492.26 409.00,495.73 410.46,502.03 411.91,494.13 413.36,493.44 414.81,496.39 416.27,516.30 417.72,500.55 419.17,514.19 420.62,496.11 422.08,492.38 423.53,491.81 424.98,494.11 426.44,506.87 427.89,496.40 429.34,494.89 430.79,497.99 432.25,506.97 433.70,499.01 435.15,504.40 436.60,497.34 438.06,492.74 439.51,491.71 440.96,493.26 442.41,499.59 443.87,499.71 445.32,496.80 446.77,500.53 448.22,502.10 449.68,497.35 451.13,500.08 452.58,499.90 454.03,493.53 455.49,491.94 456.94,492.92 458.39,497.34 459.84,505.49 461.29,499.19 462.75,504.79 464.20,499.51 465.65,495.96 467.10,497.40 468.56,506.98 470.01,494.85 471.46,492.53 472.91,493.02 474.37,496.47 475.82,513.44 477.27,501.96 478.72,516.30 480.18,498.05 481.63,494.93 483.08,495.60 484.53,503.72 485.99,496.96 487.44,493.50 488.89,493.51 490.34,496.41 491.80,506.59 493.25,504.38 494.70,510.53 496.16,497.36 497.61,494.29 499.06,494.40 500.51,498.67 501.97,500.69 503.42,494.93 504.87,494.39 506.32,496.99 507.78,506.73 509.23,504.85 510.68,510.44 512.13,497.34 513.59,494.03 515.04,493.68 516.49,496.38 517.94,514.43 519.39,496.98 520.85,495.70 522.30,498.24 523.75,512.31 525.21,503.14 526.66,516.30 528.11,498.02 529.56,494.15 531.01,493.35 532.47,495.14 533.92,502.63 535.37,500.00 536.83,497.51 538.28,500.30 539.73,508.92 541.18,500.85 542.63,505.30 544.09,499.65 545.54,494.67 546.99,493.38 548.44,494.53 549.90,499.26 551.35,505.27 552.80,499.94 554.25,503.70 555.71,503.29 557.16,498.88 558.61,501.00 560.07,503.21 561.52,495.69 562.97,493.78 564.42,494.40 565.88,497.90 567.33,514.85 568.78,503.15 570.23,510.83 571.69,500.72 573.14,497.41 574.59,498.44 576.04,516.30 577.50,497.36 578.95,494.56 580.40,494.70 581.85,497.49 583.31,506.09 584.76,507.17 586.21,511.99 587.66,499.37 589.12,496.40 590.57,496.77 592.02,502.47 593.47,500.17 594.93,495.78 596.38,495.40 597.83,497.77 599.28,504.95 600.74,510.42 602.19,508.38 603.64,498.84 605.09,495.84 606.54,495.71 608.00,499.00 609.45,506.27 610.90,497.57 612.36,496.53 613.81,498.69 615.26,506.31 616.71,509.06 618.16,509.91 619.62,499.03 621.07,495.69 622.52,495.12 623.98,497.22 625.43,507.22 626.88,500.23 628.33,498.17 629.78,500.33 631.24,512.34 632.69,505.45 634.14,516.30 635.60,500.00 637.05,495.95 638.50,494.93" fill="none" stroke="#744793" stroke-width="0.85" stroke-linejoin="round"/></g>
<rect x="57.50" y="466.00" width="581.00" height="50.30" fill="none" stroke="#9a9a9a" stroke-width="1"/>
<line x1="57.50" y1="466.00" x2="57.50" y2="516.30" stroke="#808080" stroke-width="1"/>
<line x1="53.50" y1="516.30" x2="57.50" y2="516.30" stroke="#6a6a6a" stroke-width="0.9"/>
<line x1="53.50" y1="503.60" x2="57.50" y2="503.60" stroke="#6a6a6a" stroke-width="0.9"/>
<line x1="53.50" y1="490.90" x2="57.50" y2="490.90" stroke="#6a6a6a" stroke-width="0.9"/>
<line x1="53.50" y1="478.20" x2="57.50" y2="478.20" stroke="#6a6a6a" stroke-width="0.9"/>
<line x1="57.80" y1="516.30" x2="57.80" y2="520.30" stroke="#8a8a8a" stroke-width="0.8"/>
<text x="61.70" y="534.40" font-size="9.8" font-weight="normal" text-anchor="middle" fill="#231f20"><tspan>−200</tspan></text>
<line x1="204.50" y1="516.30" x2="204.50" y2="520.30" stroke="#8a8a8a" stroke-width="0.8"/>
<text x="205.00" y="534.40" font-size="9.8" font-weight="normal" text-anchor="middle" fill="#231f20"><tspan>−100</tspan></text>
<line x1="347.85" y1="516.30" x2="347.85" y2="520.30" stroke="#8a8a8a" stroke-width="0.8"/>
<text x="349.60" y="534.40" font-size="9.8" font-weight="normal" text-anchor="middle" fill="#231f20"><tspan>0</tspan></text>
<line x1="493.80" y1="516.30" x2="493.80" y2="520.30" stroke="#8a8a8a" stroke-width="0.8"/>
<text x="497.60" y="534.40" font-size="9.8" font-weight="normal" text-anchor="middle" fill="#231f20"><tspan>100</tspan></text>
<line x1="637.60" y1="516.30" x2="637.60" y2="520.30" stroke="#8a8a8a" stroke-width="0.8"/>
<text x="637.00" y="534.40" font-size="9.8" font-weight="normal" text-anchor="middle" fill="#231f20"><tspan>200</tspan></text>
<text x="351.70" y="549.30" font-size="9.8" font-weight="normal" text-anchor="middle" fill="#231f20"><tspan>Mode number</tspan></text>
<text x="42.30" y="364.60" font-size="9.8" font-weight="normal" text-anchor="middle" fill="#231f20" transform="rotate(-90 42.30 364.60)"><tspan>Optical power [20 dB/div]</tspan></text>
<line x1="64.80" y1="242.00" x2="86.00" y2="242.00" stroke="#6bbcec" stroke-width="1.1"/>
<text x="90.50" y="244.30" font-size="8.1" font-weight="normal" text-anchor="start" fill="#231f20"><tspan>Frequency spectrum</tspan></text>
<line x1="171.00" y1="242.00" x2="192.40" y2="242.00" stroke="#7b4b9b" stroke-width="1.1"/>
<text x="196.80" y="244.30" font-size="8.1" font-weight="normal" text-anchor="start" fill="#231f20"><tspan>Spectrum envelope</tspan></text>
<polygon points="558.85,248.15 571.15,248.15 565.00,237.45" fill="#e596c2" stroke="none" stroke-width="1"/>
<text x="578.80" y="246.00" font-size="9.8" font-weight="normal" text-anchor="start" fill="#231f20"><tspan font-family="'Liberation Serif', 'Times New Roman', serif" font-style="italic" font-size="10.00">Ω</tspan><tspan> = 0.25 </tspan><tspan font-family="'Liberation Serif', 'Times New Roman', serif" font-style="italic" font-size="10.00">ω</tspan><tspan font-size="7.06" dy="2.74">R</tspan><tspan dy="-2.74">&#8203;</tspan></text>
<polygon points="561.20,296.50 567.50,290.20 573.80,296.50 567.50,302.80" fill="#f1dd6d" stroke="none" stroke-width="1"/>
<text x="578.80" y="299.30" font-size="9.8" font-weight="normal" text-anchor="start" fill="#231f20"><tspan font-family="'Liberation Serif', 'Times New Roman', serif" font-style="italic" font-size="10.00">Ω</tspan><tspan> = 1.75 </tspan><tspan font-family="'Liberation Serif', 'Times New Roman', serif" font-style="italic" font-size="10.00">ω</tspan><tspan font-size="7.06" dy="2.74">R</tspan><tspan dy="-2.74">&#8203;</tspan></text>
<polygon points="567.00,342.58 568.56,347.06 573.30,347.15 569.52,350.02 570.89,354.56 567.00,351.85 563.11,354.56 564.48,350.02 560.70,347.15 565.44,347.06" fill="#ede78f" stroke="none" stroke-width="1"/>
<text x="578.80" y="351.80" font-size="9.8" font-weight="normal" text-anchor="start" fill="#231f20"><tspan font-family="'Liberation Serif', 'Times New Roman', serif" font-style="italic" font-size="10.00">Ω</tspan><tspan> = 2.85 </tspan><tspan font-family="'Liberation Serif', 'Times New Roman', serif" font-style="italic" font-size="10.00">ω</tspan><tspan font-size="7.06" dy="2.74">R</tspan><tspan dy="-2.74">&#8203;</tspan></text>
<rect x="518.05" y="414.35" width="11.30" height="11.30" fill="#b99bc9" stroke="none" stroke-width="1"/>
<text x="537.30" y="423.00" font-size="9.8" font-weight="normal" text-anchor="start" fill="#231f20" xml:space="preserve"><tspan font-family="'Liberation Serif', 'Times New Roman', serif">Δ</tspan><tspan> = + </tspan><tspan font-family="'Liberation Serif', 'Times New Roman', serif" font-style="italic" font-size="10.00">ω</tspan><tspan font-size="7.06" dy="2.74">R</tspan><tspan dy="-2.74"> / 2    </tspan><tspan font-family="'Liberation Serif', 'Times New Roman', serif" font-style="italic" font-size="10.00">Ω</tspan><tspan> = </tspan><tspan font-family="'Liberation Serif', 'Times New Roman', serif" font-style="italic" font-size="10.00">ω</tspan><tspan font-size="7.06" dy="2.74">R</tspan><tspan dy="-2.74">&#8203;</tspan></text>
<polygon points="523.00,466.07 529.40,470.72 526.96,478.24 519.04,478.24 516.60,470.72" fill="#f6c5a1" stroke="none" stroke-width="1"/>
<text x="533.70" y="475.80" font-size="9.8" font-weight="normal" text-anchor="start" fill="#231f20" xml:space="preserve"><tspan font-family="'Liberation Serif', 'Times New Roman', serif">Δ</tspan><tspan> = – </tspan><tspan font-family="'Liberation Serif', 'Times New Roman', serif" font-style="italic" font-size="10.00">ω</tspan><tspan font-size="7.06" dy="2.74">R</tspan><tspan dy="-2.74"> / 2    </tspan><tspan font-family="'Liberation Serif', 'Times New Roman', serif" font-style="italic" font-size="10.00">Ω</tspan><tspan> = 2</tspan><tspan font-family="'Liberation Serif', 'Times New Roman', serif" font-style="italic" font-size="10.00">ω</tspan><tspan font-size="7.06" dy="2.74">R</tspan><tspan dy="-2.74">&#8203;</tspan></text>
<defs><filter id="hb" x="-5%" y="-5%" width="110%" height="110%"><feGaussianBlur stdDeviation="0.55"/></filter><linearGradient id="bandg0" gradientUnits="userSpaceOnUse" x1="0" y1="-13.475" x2="0" y2="13.475" spreadMethod="repeat"><stop offset="0.0000" stop-color="#225895"/><stop offset="0.0445" stop-color="#225995"/><stop offset="0.0891" stop-color="#235996"/><stop offset="0.1336" stop-color="#235b98"/><stop offset="0.1781" stop-color="#255d9a"/><stop offset="0.2226" stop-color="#26619e"/><stop offset="0.2672" stop-color="#2966a5"/><stop offset="0.3117" stop-color="#2f70ae"/><stop offset="0.3265" stop-color="#3376b2"/><stop offset="0.3414" stop-color="#377cb5"/><stop offset="0.3562" stop-color="#3d85ba"/><stop offset="0.3711" stop-color="#4890c0"/><stop offset="0.3859" stop-color="#5b9fc9"/><stop offset="0.4007" stop-color="#79b3d3"/><stop offset="0.4082" stop-color="#8bbed9"/><stop offset="0.4156" stop-color="#9fc8dd"/><stop offset="0.4230" stop-color="#b4d2de"/><stop offset="0.4304" stop-color="#c7d8dd"/><stop offset="0.4378" stop-color="#d7dad6"/><stop offset="0.4453" stop-color="#e3d4c8"/><stop offset="0.4527" stop-color="#e7c5b4"/><stop offset="0.4601" stop-color="#e4ac9a"/><stop offset="0.4675" stop-color="#d88a7d"/><stop offset="0.4750" stop-color="#c66660"/><stop offset="0.4824" stop-color="#b04448"/><stop offset="0.4898" stop-color="#9c2a37"/><stop offset="0.4972" stop-color="#911c2e"/><stop offset="0.5046" stop-color="#931e30"/><stop offset="0.5121" stop-color="#a12f3b"/><stop offset="0.5195" stop-color="#b54c4d"/><stop offset="0.5269" stop-color="#cb6f67"/><stop offset="0.5343" stop-color="#dc9384"/><stop offset="0.5417" stop-color="#e6b3a1"/><stop offset="0.5492" stop-color="#e7c9ba"/><stop offset="0.5566" stop-color="#e0d6cc"/><stop offset="0.5640" stop-color="#d4dad8"/><stop offset="0.5714" stop-color="#c2d7de"/><stop offset="0.5788" stop-color="#afd0de"/><stop offset="0.5863" stop-color="#9ac6dc"/><stop offset="0.5937" stop-color="#86bbd7"/><stop offset="0.6011" stop-color="#74b0d2"/><stop offset="0.6085" stop-color="#65a6cd"/><stop offset="0.6160" stop-color="#589dc8"/><stop offset="0.6308" stop-color="#468ebf"/><stop offset="0.6456" stop-color="#3c84b9"/><stop offset="0.6605" stop-color="#367cb5"/><stop offset="0.6753" stop-color="#3275b1"/><stop offset="0.6902" stop-color="#2f70ae"/><stop offset="0.7050" stop-color="#2c6cab"/><stop offset="0.7495" stop-color="#2864a2"/><stop offset="0.7941" stop-color="#265f9d"/><stop offset="0.8386" stop-color="#245c99"/><stop offset="0.8831" stop-color="#235a97"/><stop offset="0.9276" stop-color="#235996"/><stop offset="0.9722" stop-color="#225995"/><stop offset="1.0000" stop-color="#225895"/></linearGradient><linearGradient id="bandg1" gradientUnits="userSpaceOnUse" x1="0" y1="-13.475" x2="0" y2="13.475" spreadMethod="repeat"><stop offset="0.0000" stop-color="#255f9c"/><stop offset="0.0445" stop-color="#255f9c"/><stop offset="0.0891" stop-color="#26609e"/><stop offset="0.1336" stop-color="#2762a0"/><stop offset="0.1781" stop-color="#2965a4"/><stop offset="0.2226" stop-color="#2b6aa9"/><stop offset="0.2672" stop-color="#3173b0"/><stop offset="0.3117" stop-color="#3b82b8"/><stop offset="0.3265" stop-color="#4189bc"/><stop offset="0.3414" stop-color="#4a93c2"/><stop offset="0.3562" stop-color="#5a9fc9"/><stop offset="0.3711" stop-color="#70aed1"/><stop offset="0.3859" stop-color="#8dbfd9"/><stop offset="0.4007" stop-color="#adcfde"/><stop offset="0.4082" stop-color="#bdd6de"/><stop offset="0.4156" stop-color="#ccd9dc"/><stop offset="0.4230" stop-color="#d8dad5"/><stop offset="0.4304" stop-color="#e2d5cb"/><stop offset="0.4378" stop-color="#e7cbbc"/><stop offset="0.4453" stop-color="#e7baa9"/><stop offset="0.4527" stop-color="#e1a392"/><stop offset="0.4601" stop-color="#d7877a"/><stop offset="0.4675" stop-color="#c76963"/><stop offset="0.4750" stop-color="#b64d4e"/><stop offset="0.4824" stop-color="#a4353e"/><stop offset="0.4898" stop-color="#962433"/><stop offset="0.4972" stop-color="#8e1b2d"/><stop offset="0.5046" stop-color="#901c2e"/><stop offset="0.5121" stop-color="#992735"/><stop offset="0.5195" stop-color="#a83a42"/><stop offset="0.5269" stop-color="#ba5453"/><stop offset="0.5343" stop-color="#cc7169"/><stop offset="0.5417" stop-color="#da8e80"/><stop offset="0.5492" stop-color="#e3a998"/><stop offset="0.5566" stop-color="#e7bfae"/><stop offset="0.5640" stop-color="#e6cec0"/><stop offset="0.5714" stop-color="#e0d7ce"/><stop offset="0.5788" stop-color="#d5dad7"/><stop offset="0.5863" stop-color="#c8d9dd"/><stop offset="0.5937" stop-color="#b9d4df"/><stop offset="0.6011" stop-color="#a9cdde"/><stop offset="0.6085" stop-color="#99c5dc"/><stop offset="0.6160" stop-color="#89bdd8"/><stop offset="0.6308" stop-color="#6dacd0"/><stop offset="0.6456" stop-color="#589dc8"/><stop offset="0.6605" stop-color="#4991c1"/><stop offset="0.6753" stop-color="#4088bc"/><stop offset="0.6902" stop-color="#3a81b8"/><stop offset="0.7050" stop-color="#367bb5"/><stop offset="0.7495" stop-color="#2e6fad"/><stop offset="0.7941" stop-color="#2a68a7"/><stop offset="0.8386" stop-color="#2864a2"/><stop offset="0.8831" stop-color="#27619f"/><stop offset="0.9276" stop-color="#265f9d"/><stop offset="0.9722" stop-color="#255f9c"/><stop offset="1.0000" stop-color="#255f9c"/></linearGradient><linearGradient id="bandg2" gradientUnits="userSpaceOnUse" x1="0" y1="-13.475" x2="0" y2="13.475" spreadMethod="repeat"><stop offset="0.0000" stop-color="#255f9c"/><stop offset="0.0445" stop-color="#255f9c"/><stop offset="0.0891" stop-color="#26609e"/><stop offset="0.1336" stop-color="#2762a0"/><stop offset="0.1781" stop-color="#2965a4"/><stop offset="0.2226" stop-color="#2b6aa9"/><stop offset="0.2672" stop-color="#3173b0"/><stop offset="0.3117" stop-color="#3b82b8"/><stop offset="0.3265" stop-color="#4189bc"/><stop offset="0.3414" stop-color="#4a93c2"/><stop offset="0.3562" stop-color="#5a9fc9"/><stop offset="0.3711" stop-color="#70aed1"/><stop offset="0.3859" stop-color="#8dbfd9"/><stop offset="0.4007" stop-color="#adcfde"/><stop offset="0.4082" stop-color="#bdd6de"/><stop offset="0.4156" stop-color="#ccd9dc"/><stop offset="0.4230" stop-color="#d8dad5"/><stop offset="0.4304" stop-color="#e2d5cb"/><stop offset="0.4378" stop-color="#e7cbbc"/><stop offset="0.4453" stop-color="#e7baa9"/><stop offset="0.4527" stop-color="#e1a392"/><stop offset="0.4601" stop-color="#d7877a"/><stop offset="0.4675" stop-color="#c76963"/><stop offset="0.4750" stop-color="#b64d4e"/><stop offset="0.4824" stop-color="#a4353e"/><stop offset="0.4898" stop-color="#962433"/><stop offset="0.4972" stop-color="#8e1b2d"/><stop offset="0.5046" stop-color="#901c2e"/><stop offset="0.5121" stop-color="#992735"/><stop offset="0.5195" stop-color="#a83a42"/><stop offset="0.5269" stop-color="#ba5453"/><stop offset="0.5343" stop-color="#cc7169"/><stop offset="0.5417" stop-color="#da8e80"/><stop offset="0.5492" stop-color="#e3a998"/><stop offset="0.5566" stop-color="#e7bfae"/><stop offset="0.5640" stop-color="#e6cec0"/><stop offset="0.5714" stop-color="#e0d7ce"/><stop offset="0.5788" stop-color="#d5dad7"/><stop offset="0.5863" stop-color="#c8d9dd"/><stop offset="0.5937" stop-color="#b9d4df"/><stop offset="0.6011" stop-color="#a9cdde"/><stop offset="0.6085" stop-color="#99c5dc"/><stop offset="0.6160" stop-color="#89bdd8"/><stop offset="0.6308" stop-color="#6dacd0"/><stop offset="0.6456" stop-color="#589dc8"/><stop offset="0.6605" stop-color="#4991c1"/><stop offset="0.6753" stop-color="#4088bc"/><stop offset="0.6902" stop-color="#3a81b8"/><stop offset="0.7050" stop-color="#367bb5"/><stop offset="0.7495" stop-color="#2e6fad"/><stop offset="0.7941" stop-color="#2a68a7"/><stop offset="0.8386" stop-color="#2864a2"/><stop offset="0.8831" stop-color="#27619f"/><stop offset="0.9276" stop-color="#265f9d"/><stop offset="0.9722" stop-color="#255f9c"/><stop offset="1.0000" stop-color="#255f9c"/></linearGradient><rect id="hcol0" x="0" y="-140" width="1.35" height="280" fill="url(#bandg0)"/><rect id="hcol1" x="0" y="-140" width="0.95" height="280" fill="url(#bandg1)"/><rect id="hcol2" x="0" y="-140" width="0.95" height="280" fill="url(#bandg2)"/><linearGradient id="cbar" x1="0" y1="0" x2="0" y2="1"><stop offset="0" stop-color="#730c26"/><stop offset="0.1" stop-color="#b2182b"/><stop offset="0.2" stop-color="#d6604d"/><stop offset="0.3" stop-color="#f4a582"/><stop offset="0.4" stop-color="#fddbc7"/><stop offset="0.5" stop-color="#f7f7f7"/><stop offset="0.6" stop-color="#d1e5f0"/><stop offset="0.7" stop-color="#92c5de"/><stop offset="0.8" stop-color="#4393c3"/><stop offset="0.9" stop-color="#2166ac"/><stop offset="1" stop-color="#1a4f8c"/></linearGradient><clipPath id="aboveH"><rect x="0" y="560" width="685" height="37.0"/></clipPath><clipPath id="inH"><rect x="0" y="597.0" width="685" height="107.79999999999995"/></clipPath><linearGradient id="pg" x1="0" y1="0" x2="0" y2="1"><stop offset="0" stop-color="#d4a9d2"/><stop offset="1" stop-color="#ba72b0"/></linearGradient></defs>
<text x="-0.30" y="575.90" font-size="17.6" font-weight="bold" text-anchor="start" fill="#111"><tspan>c</tspan></text>
<text x="69.80" y="583.20" font-size="9.8" font-weight="normal" text-anchor="start" fill="#231f20"><tspan>Cavity</tspan></text>
<line x1="87.90" y1="592.00" x2="87.90" y2="714.70" stroke="#6a6a6a" stroke-width="1"/>
<polygon points="87.90,588.60 86.10,593.60 89.70,593.60" fill="#231f20" stroke="none" stroke-width="1"/>
<rect x="100.20" y="584.25" width="1.60" height="1.50" fill="#231f20" stroke="none" stroke-width="1"/>
<rect x="100.20" y="588.05" width="1.60" height="1.50" fill="#231f20" stroke="none" stroke-width="1"/>
<rect x="100.20" y="591.85" width="1.60" height="1.50" fill="#231f20" stroke="none" stroke-width="1"/>
<rect x="100.20" y="707.45" width="1.60" height="1.50" fill="#231f20" stroke="none" stroke-width="1"/>
<rect x="100.20" y="711.25" width="1.60" height="1.50" fill="#231f20" stroke="none" stroke-width="1"/>
<rect x="100.20" y="715.05" width="1.60" height="1.50" fill="#231f20" stroke="none" stroke-width="1"/>
<line x1="89.20" y1="599.70" x2="113.50" y2="599.70" stroke="#1ea0e1" stroke-width="2.7"/>
<text x="85.60" y="601.90" font-size="9.8" font-weight="normal" text-anchor="end" fill="#231f20"><tspan font-family="'Liberation Serif', 'Times New Roman', serif" font-style="italic" font-size="10.00">ω</tspan><tspan font-size="7.06" dy="2.74">0</tspan><tspan dy="-2.74"> + 2</tspan><tspan font-family="'Liberation Serif', 'Times New Roman', serif" font-style="italic" font-size="10.00">ω</tspan><tspan font-size="7.06" dy="2.74">R</tspan><tspan dy="-2.74">&#8203;</tspan></text>
<line x1="89.20" y1="625.10" x2="113.50" y2="625.10" stroke="#1ea0e1" stroke-width="2.7"/>
<text x="85.60" y="627.30" font-size="9.8" font-weight="normal" text-anchor="end" fill="#231f20"><tspan font-family="'Liberation Serif', 'Times New Roman', serif" font-style="italic" font-size="10.00">ω</tspan><tspan font-size="7.06" dy="2.74">0</tspan><tspan dy="-2.74"> + </tspan><tspan font-family="'Liberation Serif', 'Times New Roman', serif" font-style="italic" font-size="10.00">ω</tspan><tspan font-size="7.06" dy="2.74">R</tspan><tspan dy="-2.74">&#8203;</tspan></text>
<line x1="89.20" y1="650.50" x2="113.50" y2="650.50" stroke="#1ea0e1" stroke-width="2.7"/>
<text x="85.60" y="652.70" font-size="9.8" font-weight="normal" text-anchor="end" fill="#231f20"><tspan font-family="'Liberation Serif', 'Times New Roman', serif" font-style="italic" font-size="10.00">ω</tspan><tspan font-size="7.06" dy="2.74">0</tspan><tspan dy="-2.74">&#8203;</tspan></text>
<line x1="89.20" y1="675.90" x2="113.50" y2="675.90" stroke="#1ea0e1" stroke-width="2.7"/>
<text x="85.60" y="678.10" font-size="9.8" font-weight="normal" text-anchor="end" fill="#231f20"><tspan font-family="'Liberation Serif', 'Times New Roman', serif" font-style="italic" font-size="10.00">ω</tspan><tspan font-size="7.06" dy="2.74">0</tspan><tspan dy="-2.74"> - </tspan><tspan font-family="'Liberation Serif', 'Times New Roman', serif" font-style="italic" font-size="10.00">ω</tspan><tspan font-size="7.06" dy="2.74">R</tspan><tspan dy="-2.74">&#8203;</tspan></text>
<line x1="89.20" y1="701.30" x2="113.50" y2="701.30" stroke="#1ea0e1" stroke-width="2.7"/>
<text x="85.60" y="703.50" font-size="9.8" font-weight="normal" text-anchor="end" fill="#231f20"><tspan font-family="'Liberation Serif', 'Times New Roman', serif" font-style="italic" font-size="10.00">ω</tspan><tspan font-size="7.06" dy="2.74">0</tspan><tspan dy="-2.74"> - 2</tspan><tspan font-family="'Liberation Serif', 'Times New Roman', serif" font-style="italic" font-size="10.00">ω</tspan><tspan font-size="7.06" dy="2.74">R</tspan><tspan dy="-2.74">&#8203;</tspan></text>
<text x="40.80" y="646.40" font-size="9.8" font-weight="normal" text-anchor="start" fill="#231f20"><tspan>Pump</tspan></text>
<line x1="39.30" y1="650.70" x2="66.00" y2="650.70" stroke="#e6233b" stroke-width="1.1"/>
<polygon points="70.00,650.70 64.50,648.50 64.50,652.90" fill="#e6233b" stroke="none" stroke-width="1"/>
<text x="31.00" y="651.00" font-size="9.8" font-weight="normal" text-anchor="middle" fill="#231f20" transform="rotate(-90 31.00 651.00)"><tspan>Detuning </tspan><tspan font-family="'Liberation Serif', 'Times New Roman', serif">Δ</tspan><tspan font-family="'Liberation Serif', 'Times New Roman', serif" font-style="italic" font-size="10.00">ω</tspan><tspan> [</tspan><tspan font-family="'Liberation Serif', 'Times New Roman', serif" font-style="italic" font-size="10.00">ω</tspan><tspan font-size="7.06" dy="2.74">R</tspan><tspan dy="-2.74">/div]</tspan></text>
<clipPath id="ch0"><rect x="119.4" y="597.0" width="163.4" height="107.79999999999995"/></clipPath><g clip-path="url(#ch0)"><rect x="118.40" y="596.00" width="165.40" height="109.80" fill="#225894" stroke="none" stroke-width="1"/><g><use href="#hcol0" x="119.4" y="657.49"/><use href="#hcol0" x="120.4" y="657.48"/><use href="#hcol0" x="121.4" y="657.46"/><use href="#hcol0" x="122.4" y="657.43"/><use href="#hcol0" x="123.4" y="657.39"/><use href="#hcol0" x="124.4" y="657.34"/><use href="#hcol0" x="125.4" y="657.28"/><use href="#hcol0" x="126.4" y="657.21"/><use href="#hcol0" x="127.4" y="657.13"/><use href="#hcol0" x="128.4" y="657.04"/><use href="#hcol0" x="129.4" y="656.95"/><use href="#hcol0" x="130.4" y="656.84"/><use href="#hcol0" x="131.4" y="656.72"/><use href="#hcol0" x="132.4" y="656.60"/><use href="#hcol0" x="133.4" y="656.47"/><use href="#hcol0" x="134.4" y="656.33"/><use href="#hcol0" x="135.4" y="656.18"/><use href="#hcol0" x="136.4" y="656.02"/><use href="#hcol0" x="137.4" y="655.85"/><use href="#hcol0" x="138.4" y="655.68"/><use href="#hcol0" x="139.4" y="655.50"/><use href="#hcol0" x="140.4" y="655.31"/><use href="#hcol0" x="141.4" y="655.12"/><use href="#hcol0" x="142.4" y="654.92"/><use href="#hcol0" x="143.4" y="654.71"/><use href="#hcol0" x="144.4" y="654.50"/><use href="#hcol0" x="145.4" y="654.28"/><use href="#hcol0" x="146.4" y="654.06"/><use href="#hcol0" x="147.4" y="653.83"/><use href="#hcol0" x="148.4" y="653.60"/><use href="#hcol0" x="149.4" y="653.36"/><use href="#hcol0" x="150.4" y="653.12"/><use href="#hcol0" x="151.4" y="652.88"/><use href="#hcol0" x="152.4" y="652.63"/><use href="#hcol0" x="153.4" y="652.38"/><use href="#hcol0" x="154.4" y="652.13"/><use href="#hcol0" x="155.4" y="651.87"/><use href="#hcol0" x="156.4" y="651.62"/><use href="#hcol0" x="157.4" y="651.36"/><use href="#hcol0" x="158.4" y="651.10"/><use href="#hcol0" x="159.4" y="650.84"/><use href="#hcol0" x="160.4" y="650.58"/><use href="#hcol0" x="161.4" y="650.32"/><use href="#hcol0" x="162.4" y="650.06"/><use href="#hcol0" x="163.4" y="649.81"/><use href="#hcol0" x="164.4" y="649.55"/><use href="#hcol0" x="165.4" y="649.30"/><use href="#hcol0" x="166.4" y="649.05"/><use href="#hcol0" x="167.4" y="648.80"/><use href="#hcol0" x="168.4" y="648.55"/><use href="#hcol0" x="169.4" y="648.31"/><use href="#hcol0" x="170.4" y="648.07"/><use href="#hcol0" x="171.4" y="647.83"/><use href="#hcol0" x="172.4" y="647.60"/><use href="#hcol0" x="173.4" y="647.37"/><use href="#hcol0" x="174.4" y="647.15"/><use href="#hcol0" x="175.4" y="646.94"/><use href="#hcol0" x="176.4" y="646.73"/><use href="#hcol0" x="177.4" y="646.52"/><use href="#hcol0" x="178.4" y="646.32"/><use href="#hcol0" x="179.4" y="646.13"/><use href="#hcol0" x="180.4" y="645.94"/><use href="#hcol0" x="181.4" y="645.77"/><use href="#hcol0" x="182.4" y="645.60"/><use href="#hcol0" x="183.4" y="645.43"/><use href="#hcol0" x="184.4" y="645.28"/><use href="#hcol0" x="185.4" y="645.13"/><use href="#hcol0" x="186.4" y="644.99"/><use href="#hcol0" x="187.4" y="644.86"/><use href="#hcol0" x="188.4" y="644.74"/><use href="#hcol0" x="189.4" y="644.63"/><use href="#hcol0" x="190.4" y="644.52"/><use href="#hcol0" x="191.4" y="644.43"/><use href="#hcol0" x="192.4" y="644.34"/><use href="#hcol0" x="193.4" y="644.27"/><use href="#hcol0" x="194.4" y="644.20"/><use href="#hcol0" x="195.4" y="644.15"/><use href="#hcol0" x="196.4" y="644.10"/><use href="#hcol0" x="197.4" y="644.06"/><use href="#hcol0" x="198.4" y="644.04"/><use href="#hcol0" x="199.4" y="644.02"/><use href="#hcol0" x="200.4" y="644.01"/><use href="#hcol0" x="201.4" y="644.02"/><use href="#hcol0" x="202.4" y="644.03"/><use href="#hcol0" x="203.4" y="644.05"/><use href="#hcol0" x="204.4" y="644.08"/><use href="#hcol0" x="205.4" y="644.13"/><use href="#hcol0" x="206.4" y="644.18"/><use href="#hcol0" x="207.4" y="644.24"/><use href="#hcol0" x="208.4" y="644.31"/><use href="#hcol0" x="209.4" y="644.39"/><use href="#hcol0" x="210.4" y="644.49"/><use href="#hcol0" x="211.4" y="644.59"/><use href="#hcol0" x="212.4" y="644.69"/><use href="#hcol0" x="213.4" y="644.81"/><use href="#hcol0" x="214.4" y="644.94"/><use href="#hcol0" x="215.4" y="645.07"/><use href="#hcol0" x="216.4" y="645.22"/><use href="#hcol0" x="217.4" y="645.37"/><use href="#hcol0" x="218.4" y="645.53"/><use href="#hcol0" x="219.4" y="645.70"/><use href="#hcol0" x="220.4" y="645.87"/><use href="#hcol0" x="221.4" y="646.06"/><use href="#hcol0" x="222.4" y="646.24"/><use href="#hcol0" x="223.4" y="646.44"/><use href="#hcol0" x="224.4" y="646.64"/><use href="#hcol0" x="225.4" y="646.85"/><use href="#hcol0" x="226.4" y="647.06"/><use href="#hcol0" x="227.4" y="647.28"/><use href="#hcol0" x="228.4" y="647.51"/><use href="#hcol0" x="229.4" y="647.74"/><use href="#hcol0" x="230.4" y="647.97"/><use href="#hcol0" x="231.4" y="648.21"/><use href="#hcol0" x="232.4" y="648.45"/><use href="#hcol0" x="233.4" y="648.70"/><use href="#hcol0" x="234.4" y="648.95"/><use href="#hcol0" x="235.4" y="649.20"/><use href="#hcol0" x="236.4" y="649.45"/><use href="#hcol0" x="237.4" y="649.70"/><use href="#hcol0" x="238.4" y="649.96"/><use href="#hcol0" x="239.4" y="650.22"/><use href="#hcol0" x="240.4" y="650.48"/><use href="#hcol0" x="241.4" y="650.74"/><use href="#hcol0" x="242.4" y="651.00"/><use href="#hcol0" x="243.4" y="651.25"/><use href="#hcol0" x="244.4" y="651.51"/><use href="#hcol0" x="245.4" y="651.77"/><use href="#hcol0" x="246.4" y="652.02"/><use href="#hcol0" x="247.4" y="652.28"/><use href="#hcol0" x="248.4" y="652.53"/><use href="#hcol0" x="249.4" y="652.78"/><use href="#hcol0" x="250.4" y="653.02"/><use href="#hcol0" x="251.4" y="653.27"/><use href="#hcol0" x="252.4" y="653.50"/><use href="#hcol0" x="253.4" y="653.74"/><use href="#hcol0" x="254.4" y="653.97"/><use href="#hcol0" x="255.4" y="654.19"/><use href="#hcol0" x="256.4" y="654.41"/><use href="#hcol0" x="257.4" y="654.63"/><use href="#hcol0" x="258.4" y="654.84"/><use href="#hcol0" x="259.4" y="655.04"/><use href="#hcol0" x="260.4" y="655.24"/><use href="#hcol0" x="261.4" y="655.43"/><use href="#hcol0" x="262.4" y="655.61"/><use href="#hcol0" x="263.4" y="655.79"/><use href="#hcol0" x="264.4" y="655.95"/><use href="#hcol0" x="265.4" y="656.11"/><use href="#hcol0" x="266.4" y="656.27"/><use href="#hcol0" x="267.4" y="656.41"/><use href="#hcol0" x="268.4" y="656.55"/><use href="#hcol0" x="269.4" y="656.68"/><use href="#hcol0" x="270.4" y="656.79"/><use href="#hcol0" x="271.4" y="656.90"/><use href="#hcol0" x="272.4" y="657.01"/><use href="#hcol0" x="273.4" y="657.10"/><use href="#hcol0" x="274.4" y="657.18"/><use href="#hcol0" x="275.4" y="657.25"/><use href="#hcol0" x="276.4" y="657.31"/><use href="#hcol0" x="277.4" y="657.37"/><use href="#hcol0" x="278.4" y="657.41"/><use href="#hcol0" x="279.4" y="657.45"/><use href="#hcol0" x="280.4" y="657.47"/><use href="#hcol0" x="281.4" y="657.48"/><use href="#hcol0" x="282.4" y="657.49"/></g></g>
<line x1="119.40" y1="650.50" x2="282.80" y2="650.50" stroke="#d2872e" stroke-width="1.45" stroke-dasharray="4.2 3.5"/>
<line x1="115.80" y1="600.00" x2="119.40" y2="600.00" stroke="#8a8a8a" stroke-width="0.8"/>
<line x1="115.80" y1="625.30" x2="119.40" y2="625.30" stroke="#8a8a8a" stroke-width="0.8"/>
<line x1="115.80" y1="650.50" x2="119.40" y2="650.50" stroke="#8a8a8a" stroke-width="0.8"/>
<line x1="115.80" y1="675.80" x2="119.40" y2="675.80" stroke="#8a8a8a" stroke-width="0.8"/>
<line x1="115.80" y1="701.50" x2="119.40" y2="701.50" stroke="#8a8a8a" stroke-width="0.8"/>
<line x1="119.40" y1="704.80" x2="119.40" y2="708.80" stroke="#8a8a8a" stroke-width="0.8"/>
<line x1="201.10" y1="704.80" x2="201.10" y2="708.80" stroke="#8a8a8a" stroke-width="0.8"/>
<line x1="282.80" y1="704.80" x2="282.80" y2="708.80" stroke="#8a8a8a" stroke-width="0.8"/>
<text x="119.90" y="719.70" font-size="9.8" font-weight="normal" text-anchor="middle" fill="#231f20"><tspan>−1</tspan></text>
<text x="201.10" y="719.70" font-size="9.8" font-weight="normal" text-anchor="middle" fill="#231f20"><tspan>0</tspan></text>
<text x="282.80" y="719.70" font-size="9.8" font-weight="normal" text-anchor="middle" fill="#231f20"><tspan>1</tspan></text>
<text x="201.10" y="735.00" font-size="9.8" font-weight="normal" text-anchor="middle" fill="#231f20"><tspan>k</tspan><tspan font-family="'Liberation Serif', 'Times New Roman', serif" font-style="italic" font-size="10.00">Ω</tspan><tspan>/</tspan><tspan font-family="'Liberation Serif', 'Times New Roman', serif">π</tspan></text>
<rect x="119.40" y="739.20" width="163.40" height="36.00" fill="none" stroke="#8a8a8a" stroke-width="0.9"/>
<line x1="119.40" y1="742.20" x2="119.40" y2="775.20" stroke="#666" stroke-width="0.9"/>
<line x1="119.40" y1="775.20" x2="279.80" y2="775.20" stroke="#666" stroke-width="0.9"/>
<polygon points="119.40,739.70 117.70,744.20 121.10,744.20" fill="#333" stroke="none" stroke-width="1"/>
<polygon points="282.50,775.20 278.00,773.50 278.00,776.90" fill="#333" stroke="none" stroke-width="1"/>
<text x="119.90" y="790.00" font-size="9.8" font-weight="normal" text-anchor="middle" fill="#231f20"><tspan>0</tspan></text>
<clipPath id="ch1"><rect x="290.3" y="597.0" width="163.39999999999998" height="107.79999999999995"/></clipPath><g clip-path="url(#ch1)"><rect x="289.30" y="596.00" width="165.40" height="109.80" fill="#255e9b" stroke="none" stroke-width="1"/><g><use href="#hcol1" x="290.3" y="644.01"/><use href="#hcol1" x="290.9" y="643.98"/><use href="#hcol1" x="291.5" y="643.93"/><use href="#hcol1" x="292.1" y="643.86"/><use href="#hcol1" x="292.7" y="643.76"/><use href="#hcol1" x="293.3" y="643.63"/><use href="#hcol1" x="293.9" y="643.48"/><use href="#hcol1" x="294.5" y="643.31"/><use href="#hcol1" x="295.1" y="643.11"/><use href="#hcol1" x="295.7" y="642.88"/><use href="#hcol1" x="296.3" y="642.64"/><use href="#hcol1" x="296.9" y="642.36"/><use href="#hcol1" x="297.5" y="642.06"/><use href="#hcol1" x="298.1" y="641.74"/><use href="#hcol1" x="298.7" y="641.40"/><use href="#hcol1" x="299.3" y="641.03"/><use href="#hcol1" x="299.9" y="640.64"/><use href="#hcol1" x="300.5" y="640.22"/><use href="#hcol1" x="301.1" y="639.78"/><use href="#hcol1" x="301.7" y="639.32"/><use href="#hcol1" x="302.3" y="638.83"/><use href="#hcol1" x="302.9" y="638.33"/><use href="#hcol1" x="303.5" y="637.80"/><use href="#hcol1" x="304.1" y="664.20"/><use href="#hcol1" x="304.7" y="663.63"/><use href="#hcol1" x="305.3" y="663.03"/><use href="#hcol1" x="305.9" y="662.42"/><use href="#hcol1" x="306.5" y="661.78"/><use href="#hcol1" x="307.1" y="661.13"/><use href="#hcol1" x="307.7" y="660.45"/><use href="#hcol1" x="308.3" y="659.76"/><use href="#hcol1" x="308.9" y="659.05"/><use href="#hcol1" x="309.5" y="658.31"/><use href="#hcol1" x="310.1" y="657.56"/><use href="#hcol1" x="310.7" y="656.79"/><use href="#hcol1" x="311.3" y="656.01"/><use href="#hcol1" x="311.9" y="655.20"/><use href="#hcol1" x="312.5" y="654.38"/><use href="#hcol1" x="313.1" y="653.55"/><use href="#hcol1" x="313.7" y="652.70"/><use href="#hcol1" x="314.3" y="651.83"/><use href="#hcol1" x="314.9" y="650.95"/><use href="#hcol1" x="315.5" y="650.05"/><use href="#hcol1" x="316.1" y="649.14"/><use href="#hcol1" x="316.7" y="648.21"/><use href="#hcol1" x="317.3" y="647.28"/><use href="#hcol1" x="317.9" y="646.33"/><use href="#hcol1" x="318.5" y="645.36"/><use href="#hcol1" x="319.1" y="644.39"/><use href="#hcol1" x="319.7" y="643.41"/><use href="#hcol1" x="320.3" y="642.41"/><use href="#hcol1" x="320.9" y="641.41"/><use href="#hcol1" x="321.5" y="640.39"/><use href="#hcol1" x="322.1" y="639.37"/><use href="#hcol1" x="322.7" y="638.34"/><use href="#hcol1" x="323.3" y="637.30"/><use href="#hcol1" x="323.9" y="663.20"/><use href="#hcol1" x="324.5" y="662.15"/><use href="#hcol1" x="325.1" y="661.09"/><use href="#hcol1" x="325.7" y="660.03"/><use href="#hcol1" x="326.3" y="658.96"/><use href="#hcol1" x="326.9" y="657.89"/><use href="#hcol1" x="327.5" y="656.81"/><use href="#hcol1" x="328.1" y="655.73"/><use href="#hcol1" x="328.7" y="654.64"/><use href="#hcol1" x="329.3" y="653.56"/><use href="#hcol1" x="329.9" y="652.47"/><use href="#hcol1" x="330.5" y="651.38"/><use href="#hcol1" x="331.1" y="650.30"/><use href="#hcol1" x="331.7" y="649.21"/><use href="#hcol1" x="332.3" y="648.12"/><use href="#hcol1" x="332.9" y="647.04"/><use href="#hcol1" x="333.5" y="645.95"/><use href="#hcol1" x="334.1" y="644.87"/><use href="#hcol1" x="334.7" y="643.79"/><use href="#hcol1" x="335.3" y="642.72"/><use href="#hcol1" x="335.9" y="641.65"/><use href="#hcol1" x="336.5" y="640.58"/><use href="#hcol1" x="337.1" y="639.52"/><use href="#hcol1" x="337.7" y="638.47"/><use href="#hcol1" x="338.3" y="637.42"/><use href="#hcol1" x="338.9" y="663.33"/><use href="#hcol1" x="339.5" y="662.30"/><use href="#hcol1" x="340.1" y="661.28"/><use href="#hcol1" x="340.7" y="660.26"/><use href="#hcol1" x="341.3" y="659.25"/><use href="#hcol1" x="341.9" y="658.26"/><use href="#hcol1" x="342.5" y="657.27"/><use href="#hcol1" x="343.1" y="656.30"/><use href="#hcol1" x="343.7" y="655.33"/><use href="#hcol1" x="344.3" y="654.38"/><use href="#hcol1" x="344.9" y="653.44"/><use href="#hcol1" x="345.5" y="652.51"/><use href="#hcol1" x="346.1" y="651.60"/><use href="#hcol1" x="346.7" y="650.70"/><use href="#hcol1" x="347.3" y="649.82"/><use href="#hcol1" x="347.9" y="648.95"/><use href="#hcol1" x="348.5" y="648.09"/><use href="#hcol1" x="349.1" y="647.25"/><use href="#hcol1" x="349.7" y="646.43"/><use href="#hcol1" x="350.3" y="645.62"/><use href="#hcol1" x="350.9" y="644.84"/><use href="#hcol1" x="351.5" y="644.06"/><use href="#hcol1" x="352.1" y="643.31"/><use href="#hcol1" x="352.7" y="642.57"/><use href="#hcol1" x="353.3" y="641.86"/><use href="#hcol1" x="353.9" y="641.16"/><use href="#hcol1" x="354.5" y="640.48"/><use href="#hcol1" x="355.1" y="639.82"/><use href="#hcol1" x="355.7" y="639.19"/><use href="#hcol1" x="356.3" y="638.57"/><use href="#hcol1" x="356.9" y="637.97"/><use href="#hcol1" x="357.5" y="637.40"/><use href="#hcol1" x="358.1" y="663.79"/><use href="#hcol1" x="358.7" y="663.26"/><use href="#hcol1" x="359.3" y="662.75"/><use href="#hcol1" x="359.9" y="662.26"/><use href="#hcol1" x="360.5" y="661.79"/><use href="#hcol1" x="361.1" y="661.35"/><use href="#hcol1" x="361.7" y="660.93"/><use href="#hcol1" x="362.3" y="660.54"/><use href="#hcol1" x="362.9" y="660.16"/><use href="#hcol1" x="363.5" y="659.81"/><use href="#hcol1" x="364.1" y="659.49"/><use href="#hcol1" x="364.7" y="659.19"/><use href="#hcol1" x="365.3" y="658.91"/><use href="#hcol1" x="365.9" y="658.66"/><use href="#hcol1" x="366.5" y="658.43"/><use href="#hcol1" x="367.1" y="658.22"/><use href="#hcol1" x="367.7" y="658.04"/><use href="#hcol1" x="368.3" y="657.89"/><use href="#hcol1" x="368.9" y="657.76"/><use href="#hcol1" x="369.5" y="657.66"/><use href="#hcol1" x="370.1" y="657.58"/><use href="#hcol1" x="370.7" y="657.52"/><use href="#hcol1" x="371.3" y="657.49"/><use href="#hcol1" x="371.9" y="657.49"/><use href="#hcol1" x="372.5" y="657.51"/><use href="#hcol1" x="373.1" y="657.56"/><use href="#hcol1" x="373.7" y="657.63"/><use href="#hcol1" x="374.3" y="657.72"/><use href="#hcol1" x="374.9" y="657.84"/><use href="#hcol1" x="375.5" y="657.99"/><use href="#hcol1" x="376.1" y="658.16"/><use href="#hcol1" x="376.7" y="658.36"/><use href="#hcol1" x="377.3" y="658.58"/><use href="#hcol1" x="377.9" y="658.82"/><use href="#hcol1" x="378.5" y="659.09"/><use href="#hcol1" x="379.1" y="659.38"/><use href="#hcol1" x="379.7" y="659.70"/><use href="#hcol1" x="380.3" y="660.04"/><use href="#hcol1" x="380.9" y="660.41"/><use href="#hcol1" x="381.5" y="660.80"/><use href="#hcol1" x="382.1" y="661.21"/><use href="#hcol1" x="382.7" y="661.64"/><use href="#hcol1" x="383.3" y="662.10"/><use href="#hcol1" x="383.9" y="662.58"/><use href="#hcol1" x="384.5" y="663.09"/><use href="#hcol1" x="385.1" y="663.61"/><use href="#hcol1" x="385.7" y="664.16"/><use href="#hcol1" x="386.3" y="637.78"/><use href="#hcol1" x="386.9" y="638.37"/><use href="#hcol1" x="387.5" y="638.98"/><use href="#hcol1" x="388.1" y="639.61"/><use href="#hcol1" x="388.7" y="640.26"/><use href="#hcol1" x="389.3" y="640.93"/><use href="#hcol1" x="389.9" y="641.62"/><use href="#hcol1" x="390.5" y="642.33"/><use href="#hcol1" x="391.1" y="643.06"/><use href="#hcol1" x="391.7" y="643.81"/><use href="#hcol1" x="392.3" y="644.58"/><use href="#hcol1" x="392.9" y="645.36"/><use href="#hcol1" x="393.5" y="646.16"/><use href="#hcol1" x="394.1" y="646.98"/><use href="#hcol1" x="394.7" y="647.81"/><use href="#hcol1" x="395.3" y="648.66"/><use href="#hcol1" x="395.9" y="649.53"/><use href="#hcol1" x="396.5" y="650.41"/><use href="#hcol1" x="397.1" y="651.30"/><use href="#hcol1" x="397.7" y="652.21"/><use href="#hcol1" x="398.3" y="653.13"/><use href="#hcol1" x="398.9" y="654.07"/><use href="#hcol1" x="399.5" y="655.01"/><use href="#hcol1" x="400.1" y="655.97"/><use href="#hcol1" x="400.7" y="656.95"/><use href="#hcol1" x="401.3" y="657.93"/><use href="#hcol1" x="401.9" y="658.92"/><use href="#hcol1" x="402.5" y="659.92"/><use href="#hcol1" x="403.1" y="660.94"/><use href="#hcol1" x="403.7" y="661.96"/><use href="#hcol1" x="404.3" y="662.99"/><use href="#hcol1" x="404.9" y="664.03"/><use href="#hcol1" x="405.5" y="638.12"/><use href="#hcol1" x="406.1" y="639.17"/><use href="#hcol1" x="406.7" y="640.23"/><use href="#hcol1" x="407.3" y="641.29"/><use href="#hcol1" x="407.9" y="642.36"/><use href="#hcol1" x="408.5" y="643.43"/><use href="#hcol1" x="409.1" y="644.51"/><use href="#hcol1" x="409.7" y="645.59"/><use href="#hcol1" x="410.3" y="646.67"/><use href="#hcol1" x="410.9" y="647.76"/><use href="#hcol1" x="411.5" y="648.85"/><use href="#hcol1" x="412.1" y="649.93"/><use href="#hcol1" x="412.7" y="651.02"/><use href="#hcol1" x="413.3" y="652.11"/><use href="#hcol1" x="413.9" y="653.20"/><use href="#hcol1" x="414.5" y="654.28"/><use href="#hcol1" x="415.1" y="655.37"/><use href="#hcol1" x="415.7" y="656.45"/><use href="#hcol1" x="416.3" y="657.53"/><use href="#hcol1" x="416.9" y="658.60"/><use href="#hcol1" x="417.5" y="659.67"/><use href="#hcol1" x="418.1" y="660.74"/><use href="#hcol1" x="418.7" y="661.80"/><use href="#hcol1" x="419.3" y="662.85"/><use href="#hcol1" x="419.9" y="663.90"/><use href="#hcol1" x="420.5" y="637.99"/><use href="#hcol1" x="421.1" y="639.03"/><use href="#hcol1" x="421.7" y="640.05"/><use href="#hcol1" x="422.3" y="641.07"/><use href="#hcol1" x="422.9" y="642.08"/><use href="#hcol1" x="423.5" y="643.08"/><use href="#hcol1" x="424.1" y="644.06"/><use href="#hcol1" x="424.7" y="645.04"/><use href="#hcol1" x="425.3" y="646.01"/><use href="#hcol1" x="425.9" y="646.96"/><use href="#hcol1" x="426.5" y="647.90"/><use href="#hcol1" x="427.1" y="648.83"/><use href="#hcol1" x="427.7" y="649.75"/><use href="#hcol1" x="428.3" y="650.65"/><use href="#hcol1" x="428.9" y="651.54"/><use href="#hcol1" x="429.5" y="652.41"/><use href="#hcol1" x="430.1" y="653.27"/><use href="#hcol1" x="430.7" y="654.11"/><use href="#hcol1" x="431.3" y="654.93"/><use href="#hcol1" x="431.9" y="655.74"/><use href="#hcol1" x="432.5" y="656.53"/><use href="#hcol1" x="433.1" y="657.31"/><use href="#hcol1" x="433.7" y="658.07"/><use href="#hcol1" x="434.3" y="658.80"/><use href="#hcol1" x="434.9" y="659.52"/><use href="#hcol1" x="435.5" y="660.22"/><use href="#hcol1" x="436.1" y="660.91"/><use href="#hcol1" x="436.7" y="661.57"/><use href="#hcol1" x="437.3" y="662.21"/><use href="#hcol1" x="437.9" y="662.83"/><use href="#hcol1" x="438.5" y="663.43"/><use href="#hcol1" x="439.1" y="664.01"/><use href="#hcol1" x="439.7" y="637.62"/><use href="#hcol1" x="440.3" y="638.15"/><use href="#hcol1" x="440.9" y="638.67"/><use href="#hcol1" x="441.5" y="639.16"/><use href="#hcol1" x="442.1" y="639.63"/><use href="#hcol1" x="442.7" y="640.08"/><use href="#hcol1" x="443.3" y="640.50"/><use href="#hcol1" x="443.9" y="640.90"/><use href="#hcol1" x="444.5" y="641.28"/><use href="#hcol1" x="445.1" y="641.63"/><use href="#hcol1" x="445.7" y="641.96"/><use href="#hcol1" x="446.3" y="642.27"/><use href="#hcol1" x="446.9" y="642.55"/><use href="#hcol1" x="447.5" y="642.80"/><use href="#hcol1" x="448.1" y="643.04"/><use href="#hcol1" x="448.7" y="643.24"/><use href="#hcol1" x="449.3" y="643.43"/><use href="#hcol1" x="449.9" y="643.59"/><use href="#hcol1" x="450.5" y="643.72"/><use href="#hcol1" x="451.1" y="643.83"/><use href="#hcol1" x="451.7" y="643.91"/><use href="#hcol1" x="452.3" y="643.97"/><use href="#hcol1" x="452.9" y="644.00"/><use href="#hcol1" x="453.5" y="644.01"/></g></g>
<line x1="290.30" y1="650.50" x2="453.70" y2="650.50" stroke="#d2872e" stroke-width="1.45" stroke-dasharray="4.2 3.5"/>
<line x1="286.70" y1="597.20" x2="290.30" y2="597.20" stroke="#8a8a8a" stroke-width="0.8"/>
<line x1="286.70" y1="625.20" x2="290.30" y2="625.20" stroke="#8a8a8a" stroke-width="0.8"/>
<line x1="286.70" y1="650.60" x2="290.30" y2="650.60" stroke="#8a8a8a" stroke-width="0.8"/>
<line x1="286.70" y1="676.20" x2="290.30" y2="676.20" stroke="#8a8a8a" stroke-width="0.8"/>
<line x1="286.70" y1="704.40" x2="290.30" y2="704.40" stroke="#8a8a8a" stroke-width="0.8"/>
<line x1="290.30" y1="704.80" x2="290.30" y2="708.80" stroke="#8a8a8a" stroke-width="0.8"/>
<line x1="372.00" y1="704.80" x2="372.00" y2="708.80" stroke="#8a8a8a" stroke-width="0.8"/>
<line x1="453.70" y1="704.80" x2="453.70" y2="708.80" stroke="#8a8a8a" stroke-width="0.8"/>
<text x="294.10" y="719.70" font-size="9.8" font-weight="normal" text-anchor="middle" fill="#231f20"><tspan>−1</tspan></text>
<text x="372.00" y="719.70" font-size="9.8" font-weight="normal" text-anchor="middle" fill="#231f20"><tspan>0</tspan></text>
<text x="453.70" y="719.70" font-size="9.8" font-weight="normal" text-anchor="middle" fill="#231f20"><tspan>1</tspan></text>
<text x="372.00" y="735.00" font-size="9.8" font-weight="normal" text-anchor="middle" fill="#231f20"><tspan>k</tspan><tspan font-family="'Liberation Serif', 'Times New Roman', serif" font-style="italic" font-size="10.00">Ω</tspan><tspan>/</tspan><tspan font-family="'Liberation Serif', 'Times New Roman', serif">π</tspan></text>
<rect x="290.30" y="739.20" width="163.40" height="36.00" fill="none" stroke="#8a8a8a" stroke-width="0.9"/>
<line x1="290.30" y1="742.20" x2="290.30" y2="775.20" stroke="#666" stroke-width="0.9"/>
<line x1="290.30" y1="775.20" x2="450.70" y2="775.20" stroke="#666" stroke-width="0.9"/>
<polygon points="290.30,739.70 288.60,744.20 292.00,744.20" fill="#333" stroke="none" stroke-width="1"/>
<polygon points="453.40,775.20 448.90,773.50 448.90,776.90" fill="#333" stroke="none" stroke-width="1"/>
<text x="290.80" y="790.00" font-size="9.8" font-weight="normal" text-anchor="middle" fill="#231f20"><tspan>0</tspan></text>
<clipPath id="ch2"><rect x="463.0" y="597.0" width="163.60000000000002" height="107.79999999999995"/></clipPath><g clip-path="url(#ch2)"><rect x="462.00" y="596.00" width="165.60" height="109.80" fill="#255e9b" stroke="none" stroke-width="1"/><g><use href="#hcol2" x="463.0" y="646.70"/><use href="#hcol2" x="463.6" y="646.66"/><use href="#hcol2" x="464.2" y="646.58"/><use href="#hcol2" x="464.8" y="646.46"/><use href="#hcol2" x="465.4" y="646.29"/><use href="#hcol2" x="466.0" y="646.09"/><use href="#hcol2" x="466.6" y="645.85"/><use href="#hcol2" x="467.2" y="645.56"/><use href="#hcol2" x="467.8" y="645.24"/><use href="#hcol2" x="468.4" y="644.87"/><use href="#hcol2" x="469.0" y="644.47"/><use href="#hcol2" x="469.6" y="644.03"/><use href="#hcol2" x="470.2" y="643.54"/><use href="#hcol2" x="470.8" y="643.02"/><use href="#hcol2" x="471.4" y="642.46"/><use href="#hcol2" x="472.0" y="641.86"/><use href="#hcol2" x="472.6" y="641.22"/><use href="#hcol2" x="473.2" y="640.55"/><use href="#hcol2" x="473.8" y="639.83"/><use href="#hcol2" x="474.4" y="639.08"/><use href="#hcol2" x="475.0" y="638.30"/><use href="#hcol2" x="475.6" y="637.47"/><use href="#hcol2" x="476.2" y="663.56"/><use href="#hcol2" x="476.8" y="662.67"/><use href="#hcol2" x="477.4" y="661.74"/><use href="#hcol2" x="478.0" y="660.77"/><use href="#hcol2" x="478.6" y="659.78"/><use href="#hcol2" x="479.2" y="658.74"/><use href="#hcol2" x="479.8" y="657.68"/><use href="#hcol2" x="480.4" y="656.58"/><use href="#hcol2" x="481.0" y="655.46"/><use href="#hcol2" x="481.6" y="654.30"/><use href="#hcol2" x="482.2" y="653.11"/><use href="#hcol2" x="482.8" y="651.89"/><use href="#hcol2" x="483.4" y="650.64"/><use href="#hcol2" x="484.0" y="649.36"/><use href="#hcol2" x="484.6" y="648.05"/><use href="#hcol2" x="485.2" y="646.72"/><use href="#hcol2" x="485.8" y="645.36"/><use href="#hcol2" x="486.4" y="643.98"/><use href="#hcol2" x="487.0" y="642.57"/><use href="#hcol2" x="487.6" y="641.13"/><use href="#hcol2" x="488.2" y="639.68"/><use href="#hcol2" x="488.8" y="638.19"/><use href="#hcol2" x="489.4" y="663.64"/><use href="#hcol2" x="490.0" y="662.12"/><use href="#hcol2" x="490.6" y="660.57"/><use href="#hcol2" x="491.2" y="659.01"/><use href="#hcol2" x="491.8" y="657.43"/><use href="#hcol2" x="492.4" y="655.83"/><use href="#hcol2" x="493.0" y="654.21"/><use href="#hcol2" x="493.6" y="652.58"/><use href="#hcol2" x="494.2" y="650.93"/><use href="#hcol2" x="494.8" y="649.27"/><use href="#hcol2" x="495.4" y="647.59"/><use href="#hcol2" x="496.0" y="645.90"/><use href="#hcol2" x="496.6" y="644.20"/><use href="#hcol2" x="497.2" y="642.49"/><use href="#hcol2" x="497.8" y="640.77"/><use href="#hcol2" x="498.4" y="639.04"/><use href="#hcol2" x="499.0" y="637.30"/><use href="#hcol2" x="499.6" y="662.50"/><use href="#hcol2" x="500.2" y="660.75"/><use href="#hcol2" x="500.8" y="658.99"/><use href="#hcol2" x="501.4" y="657.23"/><use href="#hcol2" x="502.0" y="655.47"/><use href="#hcol2" x="502.6" y="653.70"/><use href="#hcol2" x="503.2" y="651.93"/><use href="#hcol2" x="503.8" y="650.16"/><use href="#hcol2" x="504.4" y="648.39"/><use href="#hcol2" x="505.0" y="646.62"/><use href="#hcol2" x="505.6" y="644.86"/><use href="#hcol2" x="506.2" y="643.09"/><use href="#hcol2" x="506.8" y="641.33"/><use href="#hcol2" x="507.4" y="639.58"/><use href="#hcol2" x="508.0" y="637.83"/><use href="#hcol2" x="508.6" y="663.04"/><use href="#hcol2" x="509.2" y="661.31"/><use href="#hcol2" x="509.8" y="659.58"/><use href="#hcol2" x="510.4" y="657.87"/><use href="#hcol2" x="511.0" y="656.16"/><use href="#hcol2" x="511.6" y="654.47"/><use href="#hcol2" x="512.2" y="652.79"/><use href="#hcol2" x="512.8" y="651.12"/><use href="#hcol2" x="513.4" y="649.47"/><use href="#hcol2" x="514.0" y="647.83"/><use href="#hcol2" x="514.6" y="646.21"/><use href="#hcol2" x="515.2" y="644.60"/><use href="#hcol2" x="515.8" y="643.01"/><use href="#hcol2" x="516.4" y="641.44"/><use href="#hcol2" x="517.0" y="639.89"/><use href="#hcol2" x="517.6" y="638.36"/><use href="#hcol2" x="518.2" y="663.80"/><use href="#hcol2" x="518.8" y="662.32"/><use href="#hcol2" x="519.4" y="660.85"/><use href="#hcol2" x="520.0" y="659.41"/><use href="#hcol2" x="520.6" y="657.99"/><use href="#hcol2" x="521.2" y="656.60"/><use href="#hcol2" x="521.8" y="655.23"/><use href="#hcol2" x="522.4" y="653.89"/><use href="#hcol2" x="523.0" y="652.57"/><use href="#hcol2" x="523.6" y="651.29"/><use href="#hcol2" x="524.2" y="650.03"/><use href="#hcol2" x="524.8" y="648.80"/><use href="#hcol2" x="525.4" y="647.60"/><use href="#hcol2" x="526.0" y="646.43"/><use href="#hcol2" x="526.6" y="645.29"/><use href="#hcol2" x="527.2" y="644.18"/><use href="#hcol2" x="527.8" y="643.11"/><use href="#hcol2" x="528.4" y="642.06"/><use href="#hcol2" x="529.0" y="641.05"/><use href="#hcol2" x="529.6" y="640.08"/><use href="#hcol2" x="530.2" y="639.14"/><use href="#hcol2" x="530.8" y="638.23"/><use href="#hcol2" x="531.4" y="637.36"/><use href="#hcol2" x="532.0" y="663.47"/><use href="#hcol2" x="532.6" y="662.68"/><use href="#hcol2" x="533.2" y="661.91"/><use href="#hcol2" x="533.8" y="661.19"/><use href="#hcol2" x="534.4" y="660.50"/><use href="#hcol2" x="535.0" y="659.85"/><use href="#hcol2" x="535.6" y="659.24"/><use href="#hcol2" x="536.2" y="658.66"/><use href="#hcol2" x="536.8" y="658.13"/><use href="#hcol2" x="537.4" y="657.63"/><use href="#hcol2" x="538.0" y="657.17"/><use href="#hcol2" x="538.6" y="656.76"/><use href="#hcol2" x="539.2" y="656.38"/><use href="#hcol2" x="539.8" y="656.04"/><use href="#hcol2" x="540.4" y="655.74"/><use href="#hcol2" x="541.0" y="655.49"/><use href="#hcol2" x="541.6" y="655.27"/><use href="#hcol2" x="542.2" y="655.09"/><use href="#hcol2" x="542.8" y="654.96"/><use href="#hcol2" x="543.4" y="654.86"/><use href="#hcol2" x="544.0" y="654.81"/><use href="#hcol2" x="544.6" y="654.79"/><use href="#hcol2" x="545.2" y="654.82"/><use href="#hcol2" x="545.8" y="654.89"/><use href="#hcol2" x="546.4" y="655.00"/><use href="#hcol2" x="547.0" y="655.15"/><use href="#hcol2" x="547.6" y="655.34"/><use href="#hcol2" x="548.2" y="655.57"/><use href="#hcol2" x="548.8" y="655.84"/><use href="#hcol2" x="549.4" y="656.15"/><use href="#hcol2" x="550.0" y="656.50"/><use href="#hcol2" x="550.6" y="656.89"/><use href="#hcol2" x="551.2" y="657.32"/><use href="#hcol2" x="551.8" y="657.79"/><use href="#hcol2" x="552.4" y="658.30"/><use href="#hcol2" x="553.0" y="658.85"/><use href="#hcol2" x="553.6" y="659.44"/><use href="#hcol2" x="554.2" y="660.06"/><use href="#hcol2" x="554.8" y="660.72"/><use href="#hcol2" x="555.4" y="661.42"/><use href="#hcol2" x="556.0" y="662.16"/><use href="#hcol2" x="556.6" y="662.94"/><use href="#hcol2" x="557.2" y="663.75"/><use href="#hcol2" x="557.8" y="637.65"/><use href="#hcol2" x="558.4" y="638.53"/><use href="#hcol2" x="559.0" y="639.45"/><use href="#hcol2" x="559.6" y="640.40"/><use href="#hcol2" x="560.2" y="641.39"/><use href="#hcol2" x="560.8" y="642.41"/><use href="#hcol2" x="561.4" y="643.46"/><use href="#hcol2" x="562.0" y="644.55"/><use href="#hcol2" x="562.6" y="645.66"/><use href="#hcol2" x="563.2" y="646.81"/><use href="#hcol2" x="563.8" y="647.99"/><use href="#hcol2" x="564.4" y="649.20"/><use href="#hcol2" x="565.0" y="650.44"/><use href="#hcol2" x="565.6" y="651.71"/><use href="#hcol2" x="566.2" y="653.01"/><use href="#hcol2" x="566.8" y="654.33"/><use href="#hcol2" x="567.4" y="655.68"/><use href="#hcol2" x="568.0" y="657.06"/><use href="#hcol2" x="568.6" y="658.46"/><use href="#hcol2" x="569.2" y="659.89"/><use href="#hcol2" x="569.8" y="661.34"/><use href="#hcol2" x="570.4" y="662.81"/><use href="#hcol2" x="571.0" y="637.35"/><use href="#hcol2" x="571.6" y="638.87"/><use href="#hcol2" x="572.2" y="640.41"/><use href="#hcol2" x="572.8" y="641.97"/><use href="#hcol2" x="573.4" y="643.54"/><use href="#hcol2" x="574.0" y="645.14"/><use href="#hcol2" x="574.6" y="646.75"/><use href="#hcol2" x="575.2" y="648.38"/><use href="#hcol2" x="575.8" y="650.02"/><use href="#hcol2" x="576.4" y="651.68"/><use href="#hcol2" x="577.0" y="653.35"/><use href="#hcol2" x="577.6" y="655.03"/><use href="#hcol2" x="578.2" y="656.73"/><use href="#hcol2" x="578.8" y="658.44"/><use href="#hcol2" x="579.4" y="660.16"/><use href="#hcol2" x="580.0" y="661.88"/><use href="#hcol2" x="580.6" y="663.62"/><use href="#hcol2" x="581.2" y="638.41"/><use href="#hcol2" x="581.8" y="640.16"/><use href="#hcol2" x="582.4" y="641.92"/><use href="#hcol2" x="583.0" y="643.68"/><use href="#hcol2" x="583.6" y="645.44"/><use href="#hcol2" x="584.2" y="647.21"/><use href="#hcol2" x="584.8" y="648.98"/><use href="#hcol2" x="585.4" y="650.75"/><use href="#hcol2" x="586.0" y="652.52"/><use href="#hcol2" x="586.6" y="654.29"/><use href="#hcol2" x="587.2" y="656.06"/><use href="#hcol2" x="587.8" y="657.82"/><use href="#hcol2" x="588.4" y="659.58"/><use href="#hcol2" x="589.0" y="661.34"/><use href="#hcol2" x="589.6" y="663.09"/><use href="#hcol2" x="590.2" y="637.88"/><use href="#hcol2" x="590.8" y="639.62"/><use href="#hcol2" x="591.4" y="641.34"/><use href="#hcol2" x="592.0" y="643.06"/><use href="#hcol2" x="592.6" y="644.77"/><use href="#hcol2" x="593.2" y="646.47"/><use href="#hcol2" x="593.8" y="648.15"/><use href="#hcol2" x="594.4" y="649.82"/><use href="#hcol2" x="595.0" y="651.48"/><use href="#hcol2" x="595.6" y="653.12"/><use href="#hcol2" x="596.2" y="654.75"/><use href="#hcol2" x="596.8" y="656.36"/><use href="#hcol2" x="597.4" y="657.96"/><use href="#hcol2" x="598.0" y="659.53"/><use href="#hcol2" x="598.6" y="661.09"/><use href="#hcol2" x="599.2" y="662.63"/><use href="#hcol2" x="599.8" y="664.15"/><use href="#hcol2" x="600.4" y="638.69"/><use href="#hcol2" x="601.0" y="640.16"/><use href="#hcol2" x="601.6" y="641.61"/><use href="#hcol2" x="602.2" y="643.04"/><use href="#hcol2" x="602.8" y="644.44"/><use href="#hcol2" x="603.4" y="645.82"/><use href="#hcol2" x="604.0" y="647.17"/><use href="#hcol2" x="604.6" y="648.49"/><use href="#hcol2" x="605.2" y="649.79"/><use href="#hcol2" x="605.8" y="651.06"/><use href="#hcol2" x="606.4" y="652.30"/><use href="#hcol2" x="607.0" y="653.51"/><use href="#hcol2" x="607.6" y="654.69"/><use href="#hcol2" x="608.2" y="655.84"/><use href="#hcol2" x="608.8" y="656.95"/><use href="#hcol2" x="609.4" y="658.04"/><use href="#hcol2" x="610.0" y="659.09"/><use href="#hcol2" x="610.6" y="660.11"/><use href="#hcol2" x="611.2" y="661.10"/><use href="#hcol2" x="611.8" y="662.05"/><use href="#hcol2" x="612.4" y="662.97"/><use href="#hcol2" x="613.0" y="663.85"/><use href="#hcol2" x="613.6" y="637.75"/><use href="#hcol2" x="614.2" y="638.56"/><use href="#hcol2" x="614.8" y="639.34"/><use href="#hcol2" x="615.4" y="640.08"/><use href="#hcol2" x="616.0" y="640.78"/><use href="#hcol2" x="616.6" y="641.44"/><use href="#hcol2" x="617.2" y="642.06"/><use href="#hcol2" x="617.8" y="642.65"/><use href="#hcol2" x="618.4" y="643.20"/><use href="#hcol2" x="619.0" y="643.71"/><use href="#hcol2" x="619.6" y="644.18"/><use href="#hcol2" x="620.2" y="644.61"/><use href="#hcol2" x="620.8" y="645.00"/><use href="#hcol2" x="621.4" y="645.35"/><use href="#hcol2" x="622.0" y="645.66"/><use href="#hcol2" x="622.6" y="645.93"/><use href="#hcol2" x="623.2" y="646.16"/><use href="#hcol2" x="623.8" y="646.35"/><use href="#hcol2" x="624.4" y="646.50"/><use href="#hcol2" x="625.0" y="646.61"/><use href="#hcol2" x="625.6" y="646.68"/><use href="#hcol2" x="626.2" y="646.71"/></g></g>
<line x1="463.00" y1="650.50" x2="626.60" y2="650.50" stroke="#d2872e" stroke-width="1.45" stroke-dasharray="4.2 3.5"/>
<line x1="459.40" y1="597.20" x2="463.00" y2="597.20" stroke="#8a8a8a" stroke-width="0.8"/>
<line x1="459.40" y1="625.20" x2="463.00" y2="625.20" stroke="#8a8a8a" stroke-width="0.8"/>
<line x1="459.40" y1="650.60" x2="463.00" y2="650.60" stroke="#8a8a8a" stroke-width="0.8"/>
<line x1="459.40" y1="676.20" x2="463.00" y2="676.20" stroke="#8a8a8a" stroke-width="0.8"/>
<line x1="459.40" y1="704.40" x2="463.00" y2="704.40" stroke="#8a8a8a" stroke-width="0.8"/>
<line x1="463.00" y1="704.80" x2="463.00" y2="708.80" stroke="#8a8a8a" stroke-width="0.8"/>
<line x1="544.80" y1="704.80" x2="544.80" y2="708.80" stroke="#8a8a8a" stroke-width="0.8"/>
<line x1="626.60" y1="704.80" x2="626.60" y2="708.80" stroke="#8a8a8a" stroke-width="0.8"/>
<text x="466.50" y="719.70" font-size="9.8" font-weight="normal" text-anchor="middle" fill="#231f20"><tspan>−1</tspan></text>
<text x="544.80" y="719.70" font-size="9.8" font-weight="normal" text-anchor="middle" fill="#231f20"><tspan>0</tspan></text>
<text x="625.60" y="719.70" font-size="9.8" font-weight="normal" text-anchor="middle" fill="#231f20"><tspan>1</tspan></text>
<text x="544.80" y="735.00" font-size="9.8" font-weight="normal" text-anchor="middle" fill="#231f20"><tspan>k</tspan><tspan font-family="'Liberation Serif', 'Times New Roman', serif" font-style="italic" font-size="10.00">Ω</tspan><tspan>/</tspan><tspan font-family="'Liberation Serif', 'Times New Roman', serif">π</tspan></text>
<rect x="463.00" y="739.20" width="163.60" height="36.00" fill="none" stroke="#8a8a8a" stroke-width="0.9"/>
<line x1="463.00" y1="742.20" x2="463.00" y2="775.20" stroke="#666" stroke-width="0.9"/>
<line x1="463.00" y1="775.20" x2="623.60" y2="775.20" stroke="#666" stroke-width="0.9"/>
<polygon points="463.00,739.70 461.30,744.20 464.70,744.20" fill="#333" stroke="none" stroke-width="1"/>
<polygon points="626.30,775.20 621.80,773.50 621.80,776.90" fill="#333" stroke="none" stroke-width="1"/>
<text x="463.50" y="790.00" font-size="9.8" font-weight="normal" text-anchor="middle" fill="#231f20"><tspan>0</tspan></text>
<circle cx="158.40" cy="650.50" r="3.75" fill="#8cc04b" stroke="none" stroke-width="1" fill-opacity="0.9"/>
<polygon points="144.40,774.80 144.40,774.67 148.40,774.55 151.40,774.30 153.40,773.84 154.90,772.91 155.90,771.35 156.60,768.90 157.10,765.51 157.50,760.99 157.80,756.42 158.05,752.53 158.25,750.35 158.40,749.80 158.55,750.35 158.75,752.53 159.00,756.42 159.30,760.99 159.70,765.51 160.20,768.90 160.90,771.35 161.90,772.91 163.40,773.84 165.40,774.30 168.40,774.55 172.40,774.67 172.40,774.80" fill="url(#pg)" stroke="none" stroke-width="1"/>
<circle cx="158.40" cy="744.80" r="3.75" fill="#8cc04b" stroke="none" stroke-width="1"/>
<circle cx="244.20" cy="650.50" r="3.75" fill="#8cc04b" stroke="none" stroke-width="1" fill-opacity="0.9"/>
<polygon points="230.20,774.80 230.20,774.67 234.20,774.55 237.20,774.30 239.20,773.84 240.70,772.91 241.70,771.35 242.40,768.90 242.90,765.51 243.30,760.99 243.60,756.42 243.85,752.53 244.05,750.35 244.20,749.80 244.35,750.35 244.55,752.53 244.80,756.42 245.10,760.99 245.50,765.51 246.00,768.90 246.70,771.35 247.70,772.91 249.20,773.84 251.20,774.30 254.20,774.55 258.20,774.67 258.20,774.80" fill="url(#pg)" stroke="none" stroke-width="1"/>
<circle cx="244.20" cy="744.80" r="3.75" fill="#8cc04b" stroke="none" stroke-width="1"/>
<circle cx="314.60" cy="650.50" r="3.75" fill="#c162ae" stroke="none" stroke-width="1" fill-opacity="0.9"/>
<polygon points="308.30,774.80 308.30,774.67 310.10,774.55 311.45,774.30 312.35,773.84 313.03,772.91 313.48,771.35 313.79,768.90 314.02,765.51 314.20,760.99 314.33,756.42 314.44,752.53 314.53,750.35 314.60,749.80 314.67,750.35 314.76,752.53 314.87,756.42 315.00,760.99 315.19,765.51 315.41,768.90 315.73,771.35 316.18,772.91 316.85,773.84 317.75,774.30 319.10,774.55 320.90,774.67 320.90,774.80" fill="url(#pg)" stroke="none" stroke-width="1"/>
<circle cx="314.60" cy="744.80" r="3.75" fill="#c162ae" stroke="none" stroke-width="1"/>
<circle cx="331.20" cy="650.50" r="3.75" fill="#8cc04b" stroke="none" stroke-width="1" fill-opacity="0.9"/>
<polygon points="324.90,774.80 324.90,774.67 326.70,774.55 328.05,774.30 328.95,773.84 329.62,772.91 330.07,771.35 330.39,768.90 330.62,765.51 330.80,760.99 330.93,756.42 331.04,752.53 331.13,750.35 331.20,749.80 331.27,750.35 331.36,752.53 331.47,756.42 331.60,760.99 331.78,765.51 332.01,768.90 332.32,771.35 332.77,772.91 333.45,773.84 334.35,774.30 335.70,774.55 337.50,774.67 337.50,774.80" fill="url(#pg)" stroke="none" stroke-width="1"/>
<circle cx="331.20" cy="744.80" r="3.75" fill="#8cc04b" stroke="none" stroke-width="1"/>
<circle cx="346.40" cy="650.50" r="3.75" fill="#c162ae" stroke="none" stroke-width="1" fill-opacity="0.9"/>
<polygon points="340.10,774.80 340.10,774.67 341.90,774.55 343.25,774.30 344.15,773.84 344.82,772.91 345.27,771.35 345.59,768.90 345.81,765.51 346.00,760.99 346.13,756.42 346.24,752.53 346.33,750.35 346.40,749.80 346.47,750.35 346.56,752.53 346.67,756.42 346.80,760.99 346.98,765.51 347.21,768.90 347.52,771.35 347.97,772.91 348.65,773.84 349.55,774.30 350.90,774.55 352.70,774.67 352.70,774.80" fill="url(#pg)" stroke="none" stroke-width="1"/>
<circle cx="346.40" cy="744.80" r="3.75" fill="#c162ae" stroke="none" stroke-width="1"/>
<circle cx="396.40" cy="650.50" r="3.75" fill="#c162ae" stroke="none" stroke-width="1" fill-opacity="0.9"/>
<polygon points="390.10,774.80 390.10,774.67 391.90,774.55 393.25,774.30 394.15,773.84 394.82,772.91 395.27,771.35 395.59,768.90 395.81,765.51 396.00,760.99 396.13,756.42 396.24,752.53 396.33,750.35 396.40,749.80 396.47,750.35 396.56,752.53 396.67,756.42 396.80,760.99 396.98,765.51 397.21,768.90 397.52,771.35 397.97,772.91 398.65,773.84 399.55,774.30 400.90,774.55 402.70,774.67 402.70,774.80" fill="url(#pg)" stroke="none" stroke-width="1"/>
<circle cx="396.40" cy="744.80" r="3.75" fill="#c162ae" stroke="none" stroke-width="1"/>
<circle cx="412.90" cy="650.50" r="3.75" fill="#8cc04b" stroke="none" stroke-width="1" fill-opacity="0.9"/>
<polygon points="406.60,774.80 406.60,774.67 408.40,774.55 409.75,774.30 410.65,773.84 411.32,772.91 411.77,771.35 412.09,768.90 412.31,765.51 412.50,760.99 412.63,756.42 412.74,752.53 412.83,750.35 412.90,749.80 412.97,750.35 413.06,752.53 413.17,756.42 413.30,760.99 413.48,765.51 413.71,768.90 414.02,771.35 414.47,772.91 415.15,773.84 416.05,774.30 417.40,774.55 419.20,774.67 419.20,774.80" fill="url(#pg)" stroke="none" stroke-width="1"/>
<circle cx="412.90" cy="744.80" r="3.75" fill="#8cc04b" stroke="none" stroke-width="1"/>
<circle cx="429.00" cy="650.50" r="3.75" fill="#c162ae" stroke="none" stroke-width="1" fill-opacity="0.9"/>
<polygon points="422.70,774.80 422.70,774.67 424.50,774.55 425.85,774.30 426.75,773.84 427.43,772.91 427.88,771.35 428.19,768.90 428.42,765.51 428.60,760.99 428.73,756.42 428.84,752.53 428.93,750.35 429.00,749.80 429.07,750.35 429.16,752.53 429.27,756.42 429.40,760.99 429.58,765.51 429.81,768.90 430.12,771.35 430.57,772.91 431.25,773.84 432.15,774.30 433.50,774.55 435.30,774.67 435.30,774.80" fill="url(#pg)" stroke="none" stroke-width="1"/>
<circle cx="429.00" cy="744.80" r="3.75" fill="#c162ae" stroke="none" stroke-width="1"/>
<circle cx="483.70" cy="650.50" r="3.70" fill="#f4a534" stroke="none" stroke-width="1" fill-opacity="0.9"/>
<polygon points="479.22,774.80 479.22,774.67 480.50,774.55 481.46,774.30 482.10,773.84 482.58,772.91 482.90,771.35 483.12,768.90 483.28,765.51 483.41,760.99 483.51,756.42 483.59,752.53 483.65,750.35 483.70,749.80 483.75,750.35 483.81,752.53 483.89,756.42 483.99,760.99 484.12,765.51 484.28,768.90 484.50,771.35 484.82,772.91 485.30,773.84 485.94,774.30 486.90,774.55 488.18,774.67 488.18,774.80" fill="url(#pg)" stroke="none" stroke-width="1"/>
<circle cx="483.70" cy="744.80" r="3.70" fill="#f4a534" stroke="none" stroke-width="1"/>
<circle cx="494.50" cy="650.50" r="3.70" fill="#c162ae" stroke="none" stroke-width="1" fill-opacity="0.9"/>
<polygon points="490.02,774.80 490.02,774.67 491.30,774.55 492.26,774.30 492.90,773.84 493.38,772.91 493.70,771.35 493.92,768.90 494.08,765.51 494.21,760.99 494.31,756.42 494.39,752.53 494.45,750.35 494.50,749.80 494.55,750.35 494.61,752.53 494.69,756.42 494.79,760.99 494.92,765.51 495.08,768.90 495.30,771.35 495.62,772.91 496.10,773.84 496.74,774.30 497.70,774.55 498.98,774.67 498.98,774.80" fill="url(#pg)" stroke="none" stroke-width="1"/>
<circle cx="494.50" cy="744.80" r="3.70" fill="#c162ae" stroke="none" stroke-width="1"/>
<circle cx="503.80" cy="650.50" r="3.70" fill="#8cc04b" stroke="none" stroke-width="1" fill-opacity="0.9"/>
<polygon points="499.32,774.80 499.32,774.67 500.60,774.55 501.56,774.30 502.20,773.84 502.68,772.91 503.00,771.35 503.22,768.90 503.38,765.51 503.51,760.99 503.61,756.42 503.69,752.53 503.75,750.35 503.80,749.80 503.85,750.35 503.91,752.53 503.99,756.42 504.09,760.99 504.22,765.51 504.38,768.90 504.60,771.35 504.92,772.91 505.40,773.84 506.04,774.30 507.00,774.55 508.28,774.67 508.28,774.80" fill="url(#pg)" stroke="none" stroke-width="1"/>
<circle cx="503.80" cy="744.80" r="3.70" fill="#8cc04b" stroke="none" stroke-width="1"/>
<circle cx="513.30" cy="650.50" r="3.70" fill="#c162ae" stroke="none" stroke-width="1" fill-opacity="0.9"/>
<polygon points="508.82,774.80 508.82,774.67 510.10,774.55 511.06,774.30 511.70,773.84 512.18,772.91 512.50,771.35 512.72,768.90 512.88,765.51 513.01,760.99 513.11,756.42 513.19,752.53 513.25,750.35 513.30,749.80 513.35,750.35 513.41,752.53 513.49,756.42 513.59,760.99 513.72,765.51 513.88,768.90 514.10,771.35 514.42,772.91 514.90,773.84 515.54,774.30 516.50,774.55 517.78,774.67 517.78,774.80" fill="url(#pg)" stroke="none" stroke-width="1"/>
<circle cx="513.30" cy="744.80" r="3.70" fill="#c162ae" stroke="none" stroke-width="1"/>
<circle cx="522.60" cy="650.50" r="3.70" fill="#f4a534" stroke="none" stroke-width="1" fill-opacity="0.9"/>
<polygon points="518.12,774.80 518.12,774.67 519.40,774.55 520.36,774.30 521.00,773.84 521.48,772.91 521.80,771.35 522.02,768.90 522.18,765.51 522.31,760.99 522.41,756.42 522.49,752.53 522.55,750.35 522.60,749.80 522.65,750.35 522.71,752.53 522.79,756.42 522.89,760.99 523.02,765.51 523.18,768.90 523.40,771.35 523.72,772.91 524.20,773.84 524.84,774.30 525.80,774.55 527.08,774.67 527.08,774.80" fill="url(#pg)" stroke="none" stroke-width="1"/>
<circle cx="522.60" cy="744.80" r="3.70" fill="#f4a534" stroke="none" stroke-width="1"/>
<circle cx="566.80" cy="650.50" r="3.70" fill="#f4a534" stroke="none" stroke-width="1" fill-opacity="0.9"/>
<polygon points="562.32,774.80 562.32,774.67 563.60,774.55 564.56,774.30 565.20,773.84 565.68,772.91 566.00,771.35 566.22,768.90 566.38,765.51 566.51,760.99 566.61,756.42 566.69,752.53 566.75,750.35 566.80,749.80 566.85,750.35 566.91,752.53 566.99,756.42 567.09,760.99 567.22,765.51 567.38,768.90 567.60,771.35 567.92,772.91 568.40,773.84 569.04,774.30 570.00,774.55 571.28,774.67 571.28,774.80" fill="url(#pg)" stroke="none" stroke-width="1"/>
<circle cx="566.80" cy="744.80" r="3.70" fill="#f4a534" stroke="none" stroke-width="1"/>
<circle cx="577.60" cy="650.50" r="3.70" fill="#c162ae" stroke="none" stroke-width="1" fill-opacity="0.9"/>
<polygon points="573.12,774.80 573.12,774.67 574.40,774.55 575.36,774.30 576.00,773.84 576.48,772.91 576.80,771.35 577.02,768.90 577.18,765.51 577.31,760.99 577.41,756.42 577.49,752.53 577.55,750.35 577.60,749.80 577.65,750.35 577.71,752.53 577.79,756.42 577.89,760.99 578.02,765.51 578.18,768.90 578.40,771.35 578.72,772.91 579.20,773.84 579.84,774.30 580.80,774.55 582.08,774.67 582.08,774.80" fill="url(#pg)" stroke="none" stroke-width="1"/>
<circle cx="577.60" cy="744.80" r="3.70" fill="#c162ae" stroke="none" stroke-width="1"/>
<circle cx="587.20" cy="650.50" r="3.70" fill="#8cc04b" stroke="none" stroke-width="1" fill-opacity="0.9"/>
<polygon points="582.72,774.80 582.72,774.67 584.00,774.55 584.96,774.30 585.60,773.84 586.08,772.91 586.40,771.35 586.62,768.90 586.78,765.51 586.91,760.99 587.01,756.42 587.09,752.53 587.15,750.35 587.20,749.80 587.25,750.35 587.31,752.53 587.39,756.42 587.49,760.99 587.62,765.51 587.78,768.90 588.00,771.35 588.32,772.91 588.80,773.84 589.44,774.30 590.40,774.55 591.68,774.67 591.68,774.80" fill="url(#pg)" stroke="none" stroke-width="1"/>
<circle cx="587.20" cy="744.80" r="3.70" fill="#8cc04b" stroke="none" stroke-width="1"/>
<circle cx="596.50" cy="650.50" r="3.70" fill="#c162ae" stroke="none" stroke-width="1" fill-opacity="0.9"/>
<polygon points="592.02,774.80 592.02,774.67 593.30,774.55 594.26,774.30 594.90,773.84 595.38,772.91 595.70,771.35 595.92,768.90 596.08,765.51 596.21,760.99 596.31,756.42 596.39,752.53 596.45,750.35 596.50,749.80 596.55,750.35 596.61,752.53 596.69,756.42 596.79,760.99 596.92,765.51 597.08,768.90 597.30,771.35 597.62,772.91 598.10,773.84 598.74,774.30 599.70,774.55 600.98,774.67 600.98,774.80" fill="url(#pg)" stroke="none" stroke-width="1"/>
<circle cx="596.50" cy="744.80" r="3.70" fill="#c162ae" stroke="none" stroke-width="1"/>
<circle cx="605.80" cy="650.50" r="3.70" fill="#f4a534" stroke="none" stroke-width="1" fill-opacity="0.9"/>
<polygon points="601.32,774.80 601.32,774.67 602.60,774.55 603.56,774.30 604.20,773.84 604.68,772.91 605.00,771.35 605.22,768.90 605.38,765.51 605.51,760.99 605.61,756.42 605.69,752.53 605.75,750.35 605.80,749.80 605.85,750.35 605.91,752.53 605.99,756.42 606.09,760.99 606.22,765.51 606.38,768.90 606.60,771.35 606.92,772.91 607.40,773.84 608.04,774.30 609.00,774.55 610.28,774.67 610.28,774.80" fill="url(#pg)" stroke="none" stroke-width="1"/>
<circle cx="605.80" cy="744.80" r="3.70" fill="#f4a534" stroke="none" stroke-width="1"/>
<text x="106.30" y="757.00" font-size="9.8" font-weight="normal" text-anchor="middle" fill="#231f20" transform="rotate(-90 106.30 757.00)"><tspan>Intentisity</tspan></text>
<text x="198.80" y="787.70" font-size="9.8" font-weight="normal" text-anchor="middle" fill="#231f20"><tspan>Time</tspan></text>
<text x="376.00" y="787.70" font-size="9.8" font-weight="normal" text-anchor="middle" fill="#231f20"><tspan>Time</tspan></text>
<text x="551.20" y="785.30" font-size="9.8" font-weight="normal" text-anchor="middle" fill="#231f20"><tspan>Time</tspan></text>
<text x="283.50" y="790.00" font-size="9.8" font-weight="normal" text-anchor="middle" fill="#231f20"><tspan font-style="italic">t</tspan><tspan font-size="7.06" dy="2.74">R</tspan><tspan dy="-2.74">&#8203;</tspan></text>
<text x="455.50" y="790.00" font-size="9.8" font-weight="normal" text-anchor="middle" fill="#231f20"><tspan font-style="italic">t</tspan><tspan font-size="7.06" dy="2.74">R</tspan><tspan dy="-2.74">&#8203;</tspan></text>
<text x="628.50" y="790.00" font-size="9.8" font-weight="normal" text-anchor="middle" fill="#231f20"><tspan font-style="italic">t</tspan><tspan font-size="7.06" dy="2.74">R</tspan><tspan dy="-2.74">&#8203;</tspan></text>
<text x="158.60" y="574.30" font-size="9.8" font-weight="bold" text-anchor="start" fill="#231f20"><tspan>Weak-coupling band</tspan></text>
<text x="169.50" y="586.00" font-size="9.8" font-weight="normal" text-anchor="start" fill="#e6233b"><tspan>Forbidden band</tspan></text>
<text x="312.70" y="574.10" font-size="9.8" font-weight="bold" text-anchor="start" fill="#231f20"><tspan>1st-order strong-coupling band</tspan></text>
<text x="347.70" y="586.00" font-size="9.8" font-weight="normal" text-anchor="start" fill="#e6233b"><tspan>Band overlap</tspan></text>
<text x="487.00" y="574.00" font-size="9.8" font-weight="bold" text-anchor="start" fill="#231f20"><tspan>2nd-order strong-coupling band</tspan></text>
<text x="508.30" y="586.00" font-size="9.8" font-weight="normal" text-anchor="start" fill="#e6233b"><tspan>More band overlap</tspan></text>
<path d="M177.4 590.2L122.2 639.6" fill="none" stroke="#8a8a8a" stroke-width="1.1" stroke-dasharray="3.4 2.2" clip-path="url(#aboveH)"/>
<path d="M177.4 590.2L122.2 639.6" fill="none" stroke="#fff" stroke-width="1.7" stroke-dasharray="4.4 2.9" clip-path="url(#inH)"/>
<polygon points="122.20,639.60 124.88,631.43 125.72,636.45 130.62,637.84" fill="#fff" stroke="none" stroke-width="1"/>
<path d="M227.6 590.2L280.8 638.2" fill="none" stroke="#8a8a8a" stroke-width="1.1" stroke-dasharray="3.4 2.2" clip-path="url(#aboveH)"/>
<path d="M227.6 590.2L280.8 638.2" fill="none" stroke="#fff" stroke-width="1.7" stroke-dasharray="4.4 2.9" clip-path="url(#inH)"/>
<polygon points="280.80,638.20 272.39,636.40 277.29,635.03 278.15,630.02" fill="#fff" stroke="none" stroke-width="1"/>
<path d="M360.5 588.6L320.0 647.0" fill="none" stroke="#8a8a8a" stroke-width="1.1" stroke-dasharray="3.4 2.2" clip-path="url(#aboveH)"/>
<path d="M360.5 588.6L320.0 647.0" fill="none" stroke="#fff" stroke-width="1.7" stroke-dasharray="4.4 2.9" clip-path="url(#inH)"/>
<polygon points="320.00,647.00 320.71,638.43 322.70,643.11 327.78,643.33" fill="#fff" stroke="none" stroke-width="1"/>
<path d="M378.5 588.6L424.6 647.6" fill="none" stroke="#8a8a8a" stroke-width="1.1" stroke-dasharray="3.4 2.2" clip-path="url(#aboveH)"/>
<path d="M378.5 588.6L424.6 647.6" fill="none" stroke="#fff" stroke-width="1.7" stroke-dasharray="4.4 2.9" clip-path="url(#inH)"/>
<polygon points="424.60,647.60 416.63,644.38 421.69,643.87 423.40,639.08" fill="#fff" stroke="none" stroke-width="1"/>
<path d="M521.9 588.5L485.8 646.4" fill="none" stroke="#8a8a8a" stroke-width="1.1" stroke-dasharray="3.4 2.2" clip-path="url(#aboveH)"/>
<path d="M521.9 588.5L485.8 646.4" fill="none" stroke="#fff" stroke-width="1.7" stroke-dasharray="4.4 2.9" clip-path="url(#inH)"/>
<polygon points="485.80,646.40 486.09,637.80 488.30,642.39 493.39,642.36" fill="#fff" stroke="none" stroke-width="1"/>
<path d="M529.8 588.5L498.3 645.9" fill="none" stroke="#8a8a8a" stroke-width="1.1" stroke-dasharray="3.4 2.2" clip-path="url(#aboveH)"/>
<path d="M529.8 588.5L498.3 645.9" fill="none" stroke="#fff" stroke-width="1.7" stroke-dasharray="4.4 2.9" clip-path="url(#inH)"/>
<polygon points="498.30,645.90 498.11,637.30 500.58,641.75 505.65,641.44" fill="#fff" stroke="none" stroke-width="1"/>
<path d="M563.4 588.5L590.3 647.0" fill="none" stroke="#8a8a8a" stroke-width="1.1" stroke-dasharray="3.4 2.2" clip-path="url(#aboveH)"/>
<path d="M563.4 588.5L590.3 647.0" fill="none" stroke="#fff" stroke-width="1.7" stroke-dasharray="4.4 2.9" clip-path="url(#inH)"/>
<polygon points="590.30,647.00 583.28,642.03 588.32,642.70 591.10,638.44" fill="#fff" stroke="none" stroke-width="1"/>
<path d="M573.3 588.5L601.5 647.7" fill="none" stroke="#8a8a8a" stroke-width="1.1" stroke-dasharray="3.4 2.2" clip-path="url(#aboveH)"/>
<path d="M573.3 588.5L601.5 647.7" fill="none" stroke="#fff" stroke-width="1.7" stroke-dasharray="4.4 2.9" clip-path="url(#inH)"/>
<polygon points="601.50,647.70 594.41,642.83 599.47,643.43 602.18,639.13" fill="#fff" stroke="none" stroke-width="1"/>
<rect x="634.00" y="597.00" width="8.00" height="108.10" fill="url(#cbar)" stroke="#1a1a1a" stroke-width="1.0"/>
<line x1="642.00" y1="597.40" x2="645.00" y2="597.40" stroke="#444" stroke-width="0.8"/>
<line x1="642.00" y1="704.40" x2="645.00" y2="704.40" stroke="#444" stroke-width="0.8"/>
<text x="647.30" y="599.60" font-size="9.8" font-weight="normal" text-anchor="start" fill="#231f20"><tspan>1</tspan></text>
<text x="647.30" y="708.30" font-size="9.8" font-weight="normal" text-anchor="start" fill="#231f20"><tspan>0</tspan></text>
<text x="656.30" y="652.00" font-size="9.8" font-weight="normal" text-anchor="start" fill="#231f20"><tspan font-style="italic">T</tspan><tspan font-size="7.06" dy="2.74">out</tspan><tspan dy="-2.74">&#8203;</tspan></text>
<text x="-0.30" y="821.40" font-size="17.6" font-weight="bold" text-anchor="start" fill="#111"><tspan>d</tspan></text>
<text x="115.60" y="822.80" font-size="9.8" font-weight="bold" text-anchor="start" fill="#231f20"><tspan>Strong-coupling induced pump detuning robust EO modulation</tspan></text>
<rect x="47.60" y="829.20" width="130.30" height="97.70" fill="#e2e2e2" stroke="none" stroke-width="1"/>
<rect x="91.00" y="829.20" width="42.50" height="97.70" fill="#f5dfd8" stroke="none" stroke-width="1"/>
<rect x="184.60" y="829.20" width="130.70" height="97.70" fill="#e2e2e2" stroke="none" stroke-width="1"/>
<rect x="211.90" y="829.20" width="75.40" height="97.70" fill="#f5dfd8" stroke="none" stroke-width="1"/>
<rect x="321.90" y="829.20" width="130.70" height="97.70" fill="#f5dfd8" stroke="none" stroke-width="1"/>
<polyline points="47.60,925.64 48.60,925.62 49.60,925.60 50.61,925.59 51.61,925.57 52.61,925.54 53.61,925.52 54.62,925.50 55.62,925.47 56.62,925.45 57.62,925.42 58.63,925.39 59.63,925.35 60.63,925.32 61.63,925.28 62.63,925.24 63.64,925.20 64.64,925.15 65.64,925.10 66.64,925.04 67.65,924.97 68.65,924.90 69.65,924.83 70.65,924.74 71.66,924.64 72.66,924.53 73.66,924.41 74.66,924.27 75.66,924.10 76.67,923.91 77.67,923.69 78.67,923.43 79.67,923.12 80.68,922.75 81.68,922.30 82.68,921.76 83.68,921.10 84.69,920.29 85.69,919.28 86.69,918.03 87.69,916.46 88.69,914.50 89.70,912.03 90.70,908.95 91.70,905.13 92.70,900.46 93.71,894.87 94.71,888.38 95.71,881.16 96.71,873.53 97.72,865.96 98.72,858.96 99.72,852.94 100.72,848.14 101.72,844.58 102.73,842.11 103.73,840.49 104.73,839.50 105.73,838.92 106.74,838.59 107.74,838.41 108.74,838.31 109.74,838.24 110.75,838.20 111.75,838.18 112.75,838.17 113.75,838.18 114.75,838.20 115.76,838.24 116.76,838.31 117.76,838.41 118.76,838.59 119.77,838.92 120.77,839.50 121.77,840.49 122.77,842.11 123.78,844.58 124.78,848.14 125.78,852.94 126.78,858.96 127.78,865.96 128.79,873.53 129.79,881.16 130.79,888.38 131.79,894.87 132.80,900.46 133.80,905.13 134.80,908.95 135.80,912.03 136.81,914.50 137.81,916.46 138.81,918.03 139.81,919.28 140.81,920.29 141.82,921.10 142.82,921.76 143.82,922.30 144.82,922.75 145.83,923.12 146.83,923.43 147.83,923.69 148.83,923.91 149.84,924.10 150.84,924.27 151.84,924.41 152.84,924.53 153.84,924.64 154.85,924.74 155.85,924.83 156.85,924.90 157.85,924.97 158.86,925.04 159.86,925.10 160.86,925.15 161.86,925.20 162.87,925.24 163.87,925.28 164.87,925.32 165.87,925.35 166.87,925.39 167.88,925.42 168.88,925.45 169.88,925.47 170.88,925.50 171.89,925.52 172.89,925.54 173.89,925.57 174.89,925.59 175.90,925.60 176.90,925.62 177.90,925.64" fill="none" stroke="#7b4fa0" stroke-width="1.1" stroke-linejoin="round"/>
<path d="M184.57 922.47C186.03 922.26 190.77 921.82 193.33 921.16C195.88 920.50 197.89 919.88 199.90 918.53C201.90 917.18 203.73 915.61 205.37 913.06C207.01 910.50 208.47 907.40 209.75 903.21C211.03 899.01 211.94 893.35 213.03 887.88C214.13 882.40 215.22 875.11 216.32 870.36C217.41 865.62 218.51 861.97 219.60 859.41C220.70 856.86 221.61 855.47 222.89 855.03C224.16 854.60 225.62 855.80 227.27 856.79C228.91 857.77 230.55 859.60 232.74 860.95C234.93 862.30 237.54 863.97 240.40 864.89C243.27 865.80 246.75 866.42 249.93 866.42C253.10 866.42 256.59 865.80 259.45 864.89C262.32 863.97 264.93 862.30 267.12 860.95C269.31 859.60 270.95 857.77 272.59 856.79C274.23 855.80 275.69 854.60 276.97 855.03C278.25 855.47 279.16 856.86 280.26 859.41C281.35 861.97 282.44 865.62 283.54 870.36C284.63 875.11 285.73 882.40 286.82 887.88C287.92 893.35 288.83 899.01 290.11 903.21C291.39 907.40 292.85 910.50 294.49 913.06C296.13 915.61 297.95 917.18 299.96 918.53C301.97 919.88 303.98 920.50 306.53 921.16C309.09 921.82 313.83 922.26 315.29 922.47" fill="none" stroke="#7b4fa0" stroke-width="1.1"/>
<path d="M321.85 845.40C322.11 845.69 322.84 846.28 323.39 847.15C323.93 848.03 324.12 848.25 325.14 850.65C326.16 853.06 328.06 858.25 329.52 861.60C330.98 864.96 332.25 867.95 333.90 870.80C335.54 873.65 337.18 876.27 339.37 878.68C341.56 881.09 344.30 883.43 347.03 885.25C349.77 887.08 352.51 888.39 355.79 889.63C359.08 890.87 363.09 891.97 366.74 892.70C370.39 893.43 374.28 893.72 377.69 894.01C381.10 894.30 384.04 894.45 387.21 894.45C390.39 894.45 393.33 894.30 396.74 894.01C400.15 893.72 404.04 893.43 407.69 892.70C411.34 891.97 415.35 890.87 418.63 889.63C421.92 888.39 424.66 887.08 427.39 885.25C430.13 883.43 432.87 881.09 435.06 878.68C437.25 876.27 438.89 873.65 440.53 870.80C442.17 867.95 443.45 864.96 444.91 861.60C446.37 858.25 448.27 853.06 449.29 850.65C450.31 848.25 450.49 848.03 451.04 847.15C451.59 846.28 452.32 845.69 452.57 845.40" fill="none" stroke="#7b4fa0" stroke-width="1.1"/>
<rect x="47.60" y="829.20" width="130.30" height="97.70" fill="none" stroke="#b0b0b0" stroke-width="0.9"/>
<line x1="44.10" y1="829.20" x2="47.60" y2="829.20" stroke="#999" stroke-width="0.8"/>
<line x1="44.10" y1="878.05" x2="47.60" y2="878.05" stroke="#999" stroke-width="0.8"/>
<line x1="44.10" y1="926.90" x2="47.60" y2="926.90" stroke="#999" stroke-width="0.8"/>
<line x1="47.60" y1="926.90" x2="47.60" y2="930.40" stroke="#777" stroke-width="0.8"/>
<line x1="112.75" y1="926.90" x2="112.75" y2="930.40" stroke="#777" stroke-width="0.8"/>
<line x1="177.90" y1="926.90" x2="177.90" y2="930.40" stroke="#777" stroke-width="0.8"/>
<text x="112.75" y="943.30" font-size="9.8" font-weight="normal" text-anchor="middle" fill="#231f20"><tspan>0</tspan></text>
<rect x="184.60" y="829.20" width="130.70" height="97.70" fill="none" stroke="#b0b0b0" stroke-width="0.9"/>
<line x1="181.10" y1="829.20" x2="184.60" y2="829.20" stroke="#999" stroke-width="0.8"/>
<line x1="181.10" y1="878.05" x2="184.60" y2="878.05" stroke="#999" stroke-width="0.8"/>
<line x1="181.10" y1="926.90" x2="184.60" y2="926.90" stroke="#999" stroke-width="0.8"/>
<line x1="184.60" y1="926.90" x2="184.60" y2="930.40" stroke="#777" stroke-width="0.8"/>
<line x1="249.95" y1="926.90" x2="249.95" y2="930.40" stroke="#777" stroke-width="0.8"/>
<line x1="315.30" y1="926.90" x2="315.30" y2="930.40" stroke="#777" stroke-width="0.8"/>
<text x="249.95" y="943.30" font-size="9.8" font-weight="normal" text-anchor="middle" fill="#231f20"><tspan>0</tspan></text>
<rect x="321.90" y="829.20" width="130.70" height="97.70" fill="none" stroke="#b0b0b0" stroke-width="0.9"/>
<line x1="318.40" y1="829.20" x2="321.90" y2="829.20" stroke="#999" stroke-width="0.8"/>
<line x1="318.40" y1="878.05" x2="321.90" y2="878.05" stroke="#999" stroke-width="0.8"/>
<line x1="318.40" y1="926.90" x2="321.90" y2="926.90" stroke="#999" stroke-width="0.8"/>
<line x1="321.90" y1="926.90" x2="321.90" y2="930.40" stroke="#777" stroke-width="0.8"/>
<line x1="387.25" y1="926.90" x2="387.25" y2="930.40" stroke="#777" stroke-width="0.8"/>
<line x1="452.60" y1="926.90" x2="452.60" y2="930.40" stroke="#777" stroke-width="0.8"/>
<text x="387.25" y="943.30" font-size="9.8" font-weight="normal" text-anchor="middle" fill="#231f20"><tspan>0</tspan></text>
<text x="46.40" y="943.30" font-size="9.8" font-weight="normal" text-anchor="middle" fill="#231f20"><tspan>−</tspan><tspan font-family="'Liberation Serif', 'Times New Roman', serif" font-style="italic" font-size="10.00">ω</tspan><tspan font-size="7.06" dy="2.74">R</tspan><tspan dy="-2.74">/2</tspan></text>
<text x="169.60" y="943.30" font-size="9.8" font-weight="normal" text-anchor="middle" fill="#231f20"><tspan font-family="'Liberation Serif', 'Times New Roman', serif" font-style="italic" font-size="10.00">ω</tspan><tspan font-size="7.06" dy="2.74">R</tspan><tspan dy="-2.74">/2</tspan></text>
<text x="196.50" y="943.30" font-size="9.8" font-weight="normal" text-anchor="middle" fill="#231f20"><tspan>−</tspan><tspan font-family="'Liberation Serif', 'Times New Roman', serif" font-style="italic" font-size="10.00">ω</tspan><tspan font-size="7.06" dy="2.74">R</tspan><tspan dy="-2.74">/2</tspan></text>
<text x="305.30" y="943.30" font-size="9.8" font-weight="normal" text-anchor="middle" fill="#231f20"><tspan font-family="'Liberation Serif', 'Times New Roman', serif" font-style="italic" font-size="10.00">ω</tspan><tspan font-size="7.06" dy="2.74">R</tspan><tspan dy="-2.74">/2</tspan></text>
<text x="331.30" y="943.30" font-size="9.8" font-weight="normal" text-anchor="middle" fill="#231f20"><tspan>−</tspan><tspan font-family="'Liberation Serif', 'Times New Roman', serif" font-style="italic" font-size="10.00">ω</tspan><tspan font-size="7.06" dy="2.74">R</tspan><tspan dy="-2.74">/2</tspan></text>
<text x="453.00" y="943.30" font-size="9.8" font-weight="normal" text-anchor="middle" fill="#231f20"><tspan font-family="'Liberation Serif', 'Times New Roman', serif" font-style="italic" font-size="10.00">ω</tspan><tspan font-size="7.06" dy="2.74">R</tspan><tspan dy="-2.74">/2</tspan></text>
<text x="37.60" y="832.90" font-size="9.8" font-weight="normal" text-anchor="end" fill="#231f20"><tspan>18</tspan></text>
<text x="37.60" y="881.75" font-size="9.8" font-weight="normal" text-anchor="end" fill="#231f20"><tspan>9</tspan></text>
<text x="37.60" y="930.60" font-size="9.8" font-weight="normal" text-anchor="end" fill="#231f20"><tspan>0</tspan></text>
<text x="123.90" y="962.60" font-size="9.8" font-weight="normal" text-anchor="middle" fill="#231f20"><tspan>Pump detuning </tspan><tspan font-family="'Liberation Serif', 'Times New Roman', serif">Δ</tspan></text>
<text x="261.90" y="962.60" font-size="9.8" font-weight="normal" text-anchor="middle" fill="#231f20"><tspan>Pump detuning </tspan><tspan font-family="'Liberation Serif', 'Times New Roman', serif">Δ</tspan></text>
<text x="397.00" y="962.60" font-size="9.8" font-weight="normal" text-anchor="middle" fill="#231f20"><tspan>Pump detuning </tspan><tspan font-family="'Liberation Serif', 'Times New Roman', serif">Δ</tspan></text>
<text x="8.30" y="884.50" font-size="9.8" font-weight="normal" text-anchor="middle" fill="#231f20" transform="rotate(-90 8.30 884.50)"><tspan>EO conversion</tspan></text>
<text x="19.60" y="885.00" font-size="9.8" font-weight="normal" text-anchor="middle" fill="#231f20" transform="rotate(-90 19.60 885.00)"><tspan>efficiency </tspan><tspan font-family="'Liberation Serif', 'Times New Roman', serif" font-style="italic" font-size="10.00">η</tspan><tspan> (%)</tspan></text>
<text x="70.30" y="874.20" font-size="8.1" font-weight="bold" text-anchor="middle" fill="#231f20" transform="rotate(-90 70.30 874.20)"><tspan>Pump insulation</tspan></text>
<text x="114.40" y="875.30" font-size="8.1" font-weight="bold" text-anchor="middle" fill="#231f20" transform="rotate(-90 114.40 875.30)"><tspan>Pump conduction</tspan></text>
<text x="157.90" y="876.30" font-size="8.1" font-weight="bold" text-anchor="middle" fill="#231f20" transform="rotate(-90 157.90 876.30)"><tspan>Pump insulation</tspan></text>
<text x="381.50" y="867.90" font-size="8.1" font-weight="bold" text-anchor="middle" fill="#231f20"><tspan>Pump detuning robust</tspan></text>
<line x1="215.00" y1="847.20" x2="219.20" y2="847.20" stroke="#f39a1e" stroke-width="1.0"/>
<polygon points="212.60,847.20 215.80,845.50 215.80,848.90" fill="#f39a1e" stroke="none" stroke-width="1"/>
<line x1="280.70" y1="847.20" x2="284.80" y2="847.20" stroke="#f39a1e" stroke-width="1.0"/>
<polygon points="287.20,847.20 284.00,845.50 284.00,848.90" fill="#f39a1e" stroke="none" stroke-width="1"/>
<line x1="49.00" y1="986.00" x2="446.50" y2="986.00" stroke="#f3a96e" stroke-width="1.6"/>
<polygon points="450.40,986.00 446.00,984.10 446.00,987.90" fill="#f3a96e" stroke="none" stroke-width="1"/>
<line x1="112.50" y1="986.80" x2="112.50" y2="989.80" stroke="#555" stroke-width="0.9"/>
<line x1="112.50" y1="985.60" x2="112.50" y2="981.00" stroke="#f0932a" stroke-width="1.0"/>
<polygon points="112.50,978.60 110.80,982.20 114.20,982.20" fill="#f0932a" stroke="none" stroke-width="1"/>
<line x1="250.00" y1="986.80" x2="250.00" y2="989.80" stroke="#555" stroke-width="0.9"/>
<line x1="250.00" y1="985.60" x2="250.00" y2="981.00" stroke="#f0932a" stroke-width="1.0"/>
<polygon points="250.00,978.60 248.30,982.20 251.70,982.20" fill="#f0932a" stroke="none" stroke-width="1"/>
<line x1="387.20" y1="986.80" x2="387.20" y2="989.80" stroke="#555" stroke-width="0.9"/>
<line x1="387.20" y1="985.60" x2="387.20" y2="981.00" stroke="#f0932a" stroke-width="1.0"/>
<polygon points="387.20,978.60 385.50,982.20 388.90,982.20" fill="#f0932a" stroke="none" stroke-width="1"/>
<text x="112.80" y="1003.70" font-size="9.8" font-weight="normal" text-anchor="middle" fill="#231f20"><tspan>0.125 </tspan><tspan font-family="'Liberation Serif', 'Times New Roman', serif" font-style="italic" font-size="10.00">ω</tspan><tspan font-size="7.06" dy="2.74">R</tspan><tspan dy="-2.74">&#8203;</tspan></text>
<text x="250.40" y="1003.70" font-size="9.8" font-weight="normal" text-anchor="middle" fill="#231f20"><tspan>0.25 </tspan><tspan font-family="'Liberation Serif', 'Times New Roman', serif" font-style="italic" font-size="10.00">ω</tspan><tspan font-size="7.06" dy="2.74">R</tspan><tspan dy="-2.74">&#8203;</tspan></text>
<text x="393.00" y="1003.70" font-size="9.8" font-weight="normal" text-anchor="middle" fill="#231f20"><tspan>0.5 </tspan><tspan font-family="'Liberation Serif', 'Times New Roman', serif" font-style="italic" font-size="10.00">ω</tspan><tspan font-size="7.06" dy="2.74">R</tspan><tspan dy="-2.74">&#8203;</tspan></text>
<text x="325.00" y="1021.80" font-size="9.8" font-weight="normal" text-anchor="middle" fill="#231f20"><tspan>Modulation strength </tspan><tspan font-family="'Liberation Serif', 'Times New Roman', serif" font-style="italic" font-size="10.00">Ω</tspan></text>
<text x="458.60" y="821.00" font-size="17.6" font-weight="bold" text-anchor="start" fill="#111"><tspan>e</tspan></text>
<text x="472.20" y="823.20" font-size="9.8" font-weight="bold" text-anchor="start" fill="#231f20"><tspan>Strong-coupling threshold vs. Pump detuning</tspan></text>
<rect x="471.50" y="828.50" width="167.70" height="97.90" fill="none" stroke="#bdbdbd" stroke-width="0.9"/>
<line x1="477.60" y1="832.90" x2="633.10" y2="879.40" stroke="#7b4fa0" stroke-width="1.05"/>
<line x1="477.60" y1="926.00" x2="633.10" y2="879.40" stroke="#f08a5c" stroke-width="1.05"/>
<circle cx="477.55" cy="831.12" r="1.45" fill="none" stroke="#9a6cc0" stroke-width="0.6"/>
<circle cx="493.29" cy="835.77" r="1.45" fill="none" stroke="#9a6cc0" stroke-width="0.6"/>
<circle cx="508.67" cy="838.63" r="1.45" fill="none" stroke="#9a6cc0" stroke-width="0.6"/>
<circle cx="524.41" cy="843.63" r="1.45" fill="none" stroke="#9a6cc0" stroke-width="0.6"/>
<circle cx="539.79" cy="847.93" r="1.45" fill="none" stroke="#9a6cc0" stroke-width="0.6"/>
<circle cx="555.52" cy="852.93" r="1.45" fill="none" stroke="#9a6cc0" stroke-width="0.6"/>
<circle cx="570.90" cy="857.58" r="1.45" fill="none" stroke="#9a6cc0" stroke-width="0.6"/>
<circle cx="586.64" cy="862.23" r="1.45" fill="none" stroke="#9a6cc0" stroke-width="0.6"/>
<circle cx="602.02" cy="866.88" r="1.45" fill="none" stroke="#9a6cc0" stroke-width="0.6"/>
<circle cx="617.75" cy="871.89" r="1.45" fill="none" stroke="#9a6cc0" stroke-width="0.6"/>
<circle cx="633.49" cy="877.25" r="1.45" fill="none" stroke="#9a6cc0" stroke-width="0.6"/>
<circle cx="477.55" cy="917.31" r="1.45" fill="none" stroke="#f6b14a" stroke-width="0.6"/>
<circle cx="493.29" cy="916.24" r="1.45" fill="none" stroke="#f6b14a" stroke-width="0.6"/>
<circle cx="508.67" cy="912.66" r="1.45" fill="none" stroke="#f6b14a" stroke-width="0.6"/>
<circle cx="524.41" cy="910.16" r="1.45" fill="none" stroke="#f6b14a" stroke-width="0.6"/>
<circle cx="539.79" cy="904.43" r="1.45" fill="none" stroke="#f6b14a" stroke-width="0.6"/>
<circle cx="555.52" cy="899.79" r="1.45" fill="none" stroke="#f6b14a" stroke-width="0.6"/>
<circle cx="570.90" cy="894.78" r="1.45" fill="none" stroke="#f6b14a" stroke-width="0.6"/>
<circle cx="586.64" cy="890.49" r="1.45" fill="none" stroke="#f6b14a" stroke-width="0.6"/>
<circle cx="602.02" cy="885.84" r="1.45" fill="none" stroke="#f6b14a" stroke-width="0.6"/>
<circle cx="617.75" cy="881.19" r="1.45" fill="none" stroke="#f6b14a" stroke-width="0.6"/>
<circle cx="633.49" cy="877.61" r="1.45" fill="none" stroke="#f6b14a" stroke-width="0.6"/>
<line x1="477.60" y1="926.40" x2="477.60" y2="929.90" stroke="#666" stroke-width="0.9"/>
<line x1="619.90" y1="926.40" x2="619.90" y2="929.90" stroke="#666" stroke-width="0.9"/>
<line x1="639.20" y1="832.90" x2="642.70" y2="832.90" stroke="#666" stroke-width="0.9"/>
<line x1="639.20" y1="879.40" x2="642.70" y2="879.40" stroke="#666" stroke-width="0.9"/>
<line x1="639.20" y1="926.00" x2="642.70" y2="926.00" stroke="#666" stroke-width="0.9"/>
<text x="477.60" y="943.00" font-size="9.8" font-weight="normal" text-anchor="middle" fill="#231f20"><tspan>0</tspan></text>
<text x="620.30" y="943.00" font-size="9.8" font-weight="normal" text-anchor="middle" fill="#231f20"><tspan font-family="'Liberation Serif', 'Times New Roman', serif" font-style="italic" font-size="10.00">ω</tspan><tspan font-size="7.06" dy="2.74">R</tspan><tspan dy="-2.74">/2</tspan></text>
<text x="646.70" y="836.00" font-size="9.8" font-weight="normal" text-anchor="start" fill="#231f20"><tspan font-family="'Liberation Serif', 'Times New Roman', serif" font-style="italic" font-size="10.00">ω</tspan><tspan font-size="7.06" dy="2.74">R</tspan><tspan dy="-2.74">&#8203;</tspan></text>
<text x="646.70" y="882.50" font-size="9.8" font-weight="normal" text-anchor="start" fill="#231f20"><tspan font-family="'Liberation Serif', 'Times New Roman', serif" font-style="italic" font-size="10.00">ω</tspan><tspan font-size="7.06" dy="2.74">R</tspan><tspan dy="-2.74">/2</tspan></text>
<text x="646.70" y="929.50" font-size="9.8" font-weight="normal" text-anchor="start" fill="#231f20"><tspan>0</tspan></text>
<text x="555.20" y="961.80" font-size="9.8" font-weight="normal" text-anchor="middle" fill="#231f20"><tspan>Pump detuning </tspan><tspan font-family="'Liberation Serif', 'Times New Roman', serif">Δ</tspan></text>
<text x="672.00" y="877.80" font-size="9.8" font-weight="normal" text-anchor="middle" fill="#231f20" transform="rotate(90 672.00 877.80)"><tspan>Modulation strength </tspan><tspan font-family="'Liberation Serif', 'Times New Roman', serif">Ω</tspan></text>
<text x="453.60" y="978.40" font-size="8.1" font-weight="normal" text-anchor="start" fill="#231f20"><tspan>Strong-coupling threshold:</tspan></text>
<text x="453.60" y="989.20" font-size="8.1" font-weight="normal" text-anchor="start" fill="#231f20"><tspan>Pump conduction threshold:</tspan></text>
<circle cx="559.80" cy="975.70" r="1.40" fill="none" stroke="#9a6cc0" stroke-width="0.6"/>
<circle cx="559.80" cy="986.50" r="1.40" fill="none" stroke="#f6b14a" stroke-width="0.6"/>
<text x="565.20" y="978.40" font-size="7.85" font-weight="normal" text-anchor="start" fill="#231f20"><tspan>w/ cavity loss</tspan></text>
<text x="565.20" y="989.20" font-size="7.85" font-weight="normal" text-anchor="start" fill="#231f20"><tspan>w/ cavity loss</tspan></text>
<line x1="613.10" y1="975.70" x2="621.00" y2="975.70" stroke="#7b4fa0" stroke-width="1.1"/>
<line x1="613.10" y1="986.50" x2="621.00" y2="986.50" stroke="#f08a5c" stroke-width="1.1"/>
<text x="622.80" y="978.40" font-size="8.1" font-weight="normal" text-anchor="start" fill="#231f20"><tspan>w/o cavity loss</tspan></text>
<text x="622.80" y="989.20" font-size="8.1" font-weight="normal" text-anchor="start" fill="#231f20"><tspan>w/o cavity loss</tspan></text>
</svg>
</body></html>
